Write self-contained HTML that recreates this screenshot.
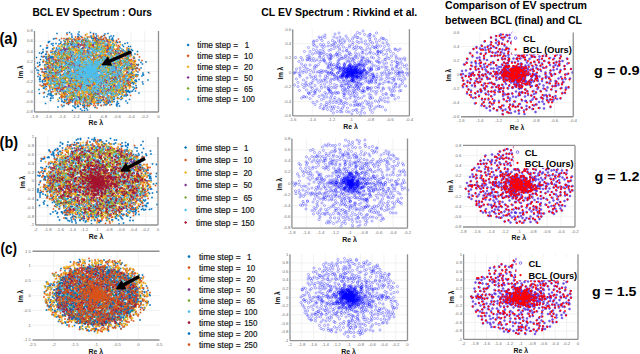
<!DOCTYPE html><html><head><meta charset="utf-8"><style>html,body{margin:0;padding:0;background:#fff;overflow:hidden}svg{display:block}text{font-family:"Liberation Sans",sans-serif}</style></head><body><svg width="640" height="354" viewBox="0 0 640 354"><defs><marker id="k0" markerUnits="userSpaceOnUse" markerWidth="1" markerHeight="1" overflow="visible"><rect x="-1.5" y="-1.5" width="3" height="3" fill="#0072BD"/></marker><marker id="k1" markerUnits="userSpaceOnUse" markerWidth="1" markerHeight="1" overflow="visible"><rect x="-1.5" y="-1.5" width="3" height="3" fill="#D95319"/></marker><marker id="k2" markerUnits="userSpaceOnUse" markerWidth="1" markerHeight="1" overflow="visible"><rect x="-1.5" y="-1.5" width="3" height="3" fill="#EDB120"/></marker><marker id="k3" markerUnits="userSpaceOnUse" markerWidth="1" markerHeight="1" overflow="visible"><rect x="-1.5" y="-1.5" width="3" height="3" fill="#7E2F8E"/></marker><marker id="k4" markerUnits="userSpaceOnUse" markerWidth="1" markerHeight="1" overflow="visible"><rect x="-1.5" y="-1.5" width="3" height="3" fill="#77AC30"/></marker><marker id="k5" markerUnits="userSpaceOnUse" markerWidth="1" markerHeight="1" overflow="visible"><rect x="-1.5" y="-1.5" width="3" height="3" fill="#4DBEEE"/></marker><marker id="k6" markerUnits="userSpaceOnUse" markerWidth="1" markerHeight="1" overflow="visible"><rect x="-1.6" y="-1.6" width="3.2" height="3.2" fill="#0072BD"/></marker><marker id="k7" markerUnits="userSpaceOnUse" markerWidth="1" markerHeight="1" overflow="visible"><rect x="-1.6" y="-1.6" width="3.2" height="3.2" fill="#D95319"/></marker><marker id="k8" markerUnits="userSpaceOnUse" markerWidth="1" markerHeight="1" overflow="visible"><rect x="-1.6" y="-1.6" width="3.2" height="3.2" fill="#EDB120"/></marker><marker id="k9" markerUnits="userSpaceOnUse" markerWidth="1" markerHeight="1" overflow="visible"><rect x="-1.6" y="-1.6" width="3.2" height="3.2" fill="#7E2F8E"/></marker><marker id="k10" markerUnits="userSpaceOnUse" markerWidth="1" markerHeight="1" overflow="visible"><rect x="-1.6" y="-1.6" width="3.2" height="3.2" fill="#77AC30"/></marker><marker id="k11" markerUnits="userSpaceOnUse" markerWidth="1" markerHeight="1" overflow="visible"><rect x="-1.6" y="-1.6" width="3.2" height="3.2" fill="#4DBEEE"/></marker><marker id="k12" markerUnits="userSpaceOnUse" markerWidth="1" markerHeight="1" overflow="visible"><rect x="-1.6" y="-1.6" width="3.2" height="3.2" fill="#A2142F"/></marker><marker id="k13" markerUnits="userSpaceOnUse" markerWidth="1" markerHeight="1" overflow="visible"><rect x="-1.6" y="-1.6" width="3.2" height="3.2" fill="#0072BD"/></marker><marker id="k14" markerUnits="userSpaceOnUse" markerWidth="1" markerHeight="1" overflow="visible"><rect x="-1.6" y="-1.6" width="3.2" height="3.2" fill="#D95319"/></marker><marker id="k15" markerUnits="userSpaceOnUse" markerWidth="1" markerHeight="1" overflow="visible"><circle r="2.2" fill="none" stroke="#0000ff" stroke-width="1" stroke-opacity="0.62"/></marker><marker id="k16" markerUnits="userSpaceOnUse" markerWidth="1" markerHeight="1" overflow="visible"><circle r="2" fill="#6038d0" fill-opacity="0.85" stroke="#5030f0" stroke-width="1" stroke-opacity="0.9"/></marker><marker id="k17" markerUnits="userSpaceOnUse" markerWidth="1" markerHeight="1" overflow="visible"><circle r="1.9" fill="#ff0000"/></marker></defs><rect width="640" height="354" fill="#fff"/><text x="32.5" y="16.3" font-size="10.5" font-weight="bold" textLength="119.5" lengthAdjust="spacingAndGlyphs">BCL EV Spectrum : Ours</text>
<text x="261.3" y="16.3" font-size="10.5" font-weight="bold" textLength="156" lengthAdjust="spacingAndGlyphs">CL EV Spectrum : Rivkind et al.</text>
<text x="445" y="9" font-size="10.5" font-weight="bold" textLength="142" lengthAdjust="spacingAndGlyphs">Comparison of EV spectrum</text>
<text x="445" y="23.5" font-size="10.5" font-weight="bold" textLength="137" lengthAdjust="spacingAndGlyphs">between BCL (final) and CL</text>
<text x="-0.6" y="44.3" font-size="16.5" font-weight="bold" textLength="18" lengthAdjust="spacingAndGlyphs">(a)</text>
<text x="-0.4" y="148" font-size="16.5" font-weight="bold" textLength="18.5" lengthAdjust="spacingAndGlyphs">(b)</text>
<text x="0.6" y="254" font-size="16.5" font-weight="bold" textLength="16.5" lengthAdjust="spacingAndGlyphs">(c)</text>
<text x="594.1" y="75.1" font-size="13" font-weight="bold" textLength="45.5" lengthAdjust="spacingAndGlyphs">g = 0.9</text>
<text x="594.5" y="180.9" font-size="13" font-weight="bold" textLength="45" lengthAdjust="spacingAndGlyphs">g = 1.2</text>
<text x="592" y="295.8" font-size="13" font-weight="bold" textLength="44.5" lengthAdjust="spacingAndGlyphs">g = 1.5</text>
<line x1="34.5" y1="41.12" x2="158.5" y2="41.12" stroke="#ededed" stroke-width="0.7"/>
<line x1="34.5" y1="51.25" x2="158.5" y2="51.25" stroke="#ededed" stroke-width="0.7"/>
<line x1="34.5" y1="61.38" x2="158.5" y2="61.38" stroke="#ededed" stroke-width="0.7"/>
<line x1="34.5" y1="71.5" x2="158.5" y2="71.5" stroke="#ededed" stroke-width="0.7"/>
<line x1="34.5" y1="81.62" x2="158.5" y2="81.62" stroke="#ededed" stroke-width="0.7"/>
<line x1="34.5" y1="91.75" x2="158.5" y2="91.75" stroke="#ededed" stroke-width="0.7"/>
<line x1="34.5" y1="101.88" x2="158.5" y2="101.88" stroke="#ededed" stroke-width="0.7"/>
<line x1="48.28" y1="31" x2="48.28" y2="112" stroke="#ededed" stroke-width="0.7"/>
<line x1="62.06" y1="31" x2="62.06" y2="112" stroke="#ededed" stroke-width="0.7"/>
<line x1="75.83" y1="31" x2="75.83" y2="112" stroke="#ededed" stroke-width="0.7"/>
<line x1="89.61" y1="31" x2="89.61" y2="112" stroke="#ededed" stroke-width="0.7"/>
<line x1="103.39" y1="31" x2="103.39" y2="112" stroke="#ededed" stroke-width="0.7"/>
<line x1="117.17" y1="31" x2="117.17" y2="112" stroke="#ededed" stroke-width="0.7"/>
<line x1="130.94" y1="31" x2="130.94" y2="112" stroke="#ededed" stroke-width="0.7"/>
<line x1="144.72" y1="31" x2="144.72" y2="112" stroke="#ededed" stroke-width="0.7"/>
<text x="33" y="32.3" font-size="4.3" text-anchor="end" fill="#707070">0.8</text>
<text x="33" y="42.42" font-size="4.3" text-anchor="end" fill="#707070">0.6</text>
<text x="33" y="52.55" font-size="4.3" text-anchor="end" fill="#707070">0.4</text>
<text x="33" y="62.67" font-size="4.3" text-anchor="end" fill="#707070">0.2</text>
<text x="33" y="72.8" font-size="4.3" text-anchor="end" fill="#707070">0</text>
<text x="33" y="82.92" font-size="4.3" text-anchor="end" fill="#707070">-0.2</text>
<text x="33" y="93.05" font-size="4.3" text-anchor="end" fill="#707070">-0.4</text>
<text x="33" y="103.17" font-size="4.3" text-anchor="end" fill="#707070">-0.6</text>
<text x="33" y="113.3" font-size="4.3" text-anchor="end" fill="#707070">-0.8</text>
<text x="34.5" y="117.5" font-size="4.3" text-anchor="middle" fill="#707070">-1.8</text>
<text x="48.28" y="117.5" font-size="4.3" text-anchor="middle" fill="#707070">-1.6</text>
<text x="62.06" y="117.5" font-size="4.3" text-anchor="middle" fill="#707070">-1.4</text>
<text x="75.83" y="117.5" font-size="4.3" text-anchor="middle" fill="#707070">-1.2</text>
<text x="89.61" y="117.5" font-size="4.3" text-anchor="middle" fill="#707070">-1</text>
<text x="103.39" y="117.5" font-size="4.3" text-anchor="middle" fill="#707070">-0.8</text>
<text x="117.17" y="117.5" font-size="4.3" text-anchor="middle" fill="#707070">-0.6</text>
<text x="130.94" y="117.5" font-size="4.3" text-anchor="middle" fill="#707070">-0.4</text>
<text x="144.72" y="117.5" font-size="4.3" text-anchor="middle" fill="#707070">-0.2</text>
<text x="158.5" y="117.5" font-size="4.3" text-anchor="middle" fill="#707070">0</text>
<g transform="scale(0.5)">
<path d="M162 121 125 181 241 175 159 144 199 120 208 71 202 155 189 165 144 72 262 130 231 162 242 170 148 78 137 115 193 117 208 205 89 144 205 84 104 192 112 177 296 160 191 114 115 158 137 171 141 102 218 105 213 115 124 203 112 103 152 159 216 99 195 101 165 126 225 76 106 139 142 129 225 196 165 105 155 213 134 129 198 142 139 164 134 113 127 102 86 114 178 212 147 108 172 134 142 125 101 197 224 188 94 119 204 148 199 134 117 202 164 194 131 153 229 170 202 127 223 138 186 131 83 107 253 121 163 163 89 157 200 171 158 150 256 115 128 81 162 138 145 114 152 126 166 145 128 140 259 185 112 160 135 79 187 176 169 184 201 98 245 197 212 210 205 101 231 177 163 178 243 113 162 149 190 124 185 97 226 146 196 205 253 109 146 192 119 172 255 118 253 186 277 129 157 122 124 100 219 142 128 103 214 90 96 189 257 170 193 153 238 165 145 156 219 78 216 152 133 164 131 167 161 152 89 131 95 128 192 174 198 93 151 140 131 189 228 134 174 129 197 163 257 131 105 113 147 178 185 197 233 160 180 168 163 187 138 187 282 136 145 126 190 162 127 182 96 169 267 179 97 154 152 141 262 104 102 167 166 118 149 96 189 157 93 114 90 163 227 199 267 152 242 141 265 182 218 118 155 161 234 164 254 130 147 105 97 182 221 93 165 106 110 171 166 97 172 79 203 175 158 70 238 117 146 84 204 85 256 138 195 103 94 154 152 134 186 96 126 100 192 147 215 152 167 203 216 83 196 210 139 204 227 72 218 171 164 198 176 192 273 163 176 89 158 174 89 185 131 203 249 164 220 98 243 194 163 193 164 82 164 157 93 139 125 213 92 117 137 209 104 157 286 146 214 144 85 139 206 99 211 142 203 93 107 134 136 103 132 79 174 115 265 139 139 185 111 159 193 87 188 171 245 175 251 103 218 145 188 137 200 133 223 196 182 72 174 156 164 221 252 137 201 128 185 94 139 154 263 137 119 122 230 137 170 105 272 162 204 85 213 102 224 112 113 96 278 159 197 128 140 157 198 182 199 196 187 160 189 126 222 157 236 119 272 149 165 82 181 155 157 140 206 182 257 101 224 190 130 150 105 98 85 163 195 195 155 209 243 122 207 162 261 149 207 129 246 100 141 78 80 155 240 128 151 154 265 147 86 171 80 129 107 126 247 101 234 160 209 114 113 135 169 76 131 163 157 194 134 196 168 194 91 161 141 122 209 103 197 168 85 164 110 132 202 106 166 105 123 103 148 98 143 151 185 131 212 104 104 118 240 182 93 173 169 216 214 208 150 210 203 105 133 189 123 161 132 173 185 153 103 115 131 162 199 136 130 109 262 134 225 101 114 145 259 148 189 171 187 147 172 81 232 187 110 77 147 190 81 151 180 132 173 155 214 189 165 184 205 135 139 132 165 184 220 180 253 167 130 203 134 114 139 150 214 80 184 142 119 122 145 178 196 100 196 150 183 95 237 104 194 78 254 181 120 118 208 81 119 169 202 117 228 203 90 130 95 119 197 88 79 187 177 171 176 133 219 167 129 182 90 155 196 92 107 168 83 113 167 124 141 87 203 138 141 148 98 114 262 149 203 187 179 183 203 211 124 137 185 155 132 126 186 132 260 171 181 171 91 143 226 152 217 176 116 119 134 166 239 112 149 132 182 98 172 149 142 168 240 84 135 114 235 118 178 205 254 190 155 107 224 175 258 171 102 188 145 84 153 165 180 111 80 163 161 199 75 126 95 95 221 184 146 127 234 212 268 129 101 131 203 201 248 156 193 188 141 202 116 119 135 89 156 73 87 168 137 110 113 125 149 214 191 185 123 171 169 124 232 185 130 101 274 151 217 205 158 115 203 96 186 93 165 119 177 212 262 137 93 96 217 125 241 123 184 188 260 131 250 171 130 101 177 183 237 170 124 123 199 204 196 91 110 154 172 184 223 144 139 65 141 110 212 76 123 178 262 107 215 146 275 103 187 77 246 179 274 136 251 175 179 92 182 201 159 105 187 132 244 185 144 192 257 98 116 149 229 194 278 186 259 199 252 183 151 168 186 111 127 153 225 166 157 163 142 145 166 145 107 78 153 101 178 94 119 132 259 153 192 68 192 99 170 95 146 152 222 115 221 163 176 103 123 114 155 88 224 157 232 134 266 154 184 149 171 141 158 135 219 202 156 212 257 109 137 206 133 154 247 184 130 126 154 85 174 83 190 215 144 169 137 98 200 139 185 104 196 206 272 171 142 192 90 130 167 206 192 104 175 213 231 179 145 123 184 90 202 200 128 205 174 205 204 145 143 84 286 168 117 104 99 83 113 133 272 160 216 148 98 136 118 145 287 150 241 145 193 76 135 205 165 96 206 200 169 213 203 129 189 164 118 171 85 143 156 74 153 182 160 123 191 190 146 90 253 149 212 198 224 155 255 183 178 105 151 147 193 95 276 131 195 169 185 106 285 128 152 192 269 176 155 146 94 125 159 107 138 128 146 212 234 206 129 199 90 155 217 206 241 102 143 156 248 192 143 98 145 174 111 137 166 149 191 150 174 101 101 116 270 137 297 145 102 113 78 179 108 164 164 81 182 194 155 155 196 156 92 114 138 154 258 158 188 196 171 146 97 130 237 170 157 127 198 112 151 177 241 162 235 195 182 113 105 131 232 186 233 210 194 123 167 124 163 110 211 170 223 140 178 163 150 169 184 179 252 122 130 103 121 127 143 158 172 119 121 150 142 149 223 187 216 89 255 166 217 124 196 135 154 139 213 183 191 185 233 189 171 125 149 167 262 135 134 192 140 194 205 124 137 137 237 182 219 195 156 68 188 75 258 138 97 113 194 88 163 120 93 122 196 111 197 186 202 166 175 149 102 191 257 124 225 77 177 103 241 106 141 166 259 136 265 101 216 204 112 189 158 182 211 204 216 131 114 181 206 121 110 107 250 162 122 160 191 96 142 199 160 192 244 173 143 146 240 125 268 150 257 93 129 116 161 209 256 101 223 127 231 136 80 159 126 165 130 82 225 114 123 198 133 200 140 160 284 152 207 110 147 148 152 146 143 113 209 87 163 101 131 201 165 177 135 198 164 140 197 110 221 144 126 112 214 105 119 124 106 191 112 150 100 137 135 109 261 172 197 94 110 125 161 218 255 110 112 178 188 101 145 221 87 121 212 203 171 179 149 181 242 199 182 105 97 161 130 193 133 122 187 190 150 151 89 113 113 99 165 147 177 104 245 90 226 134 117 124 282 125 254 120 155 117 252 202 124 93 101 131 162 103 169 195 243 140 157 164 220 142 176 157 133 147 157 108 174 201 106 177 138 94 181 65 206 131 122 128 210 137 167 184 159 130 180 123 208 154 194 97 211 92 134 128 263 110 162 105 145 170 205 92 150 139 148 91 254 138 143 68 183 125 222 72 205 201 250 154 200 150 80 158 238 133 115 158 245 117 151 216 232 190 100 180 205 114 266 129 108 129 123 180 200 79 109 168 164 174 183 75 208 154 193 83 252 126 212 160 197 79 267 151 208 163 164 181 205 142 254 161 146 149 131 155 210 187 241 136 181 156 263 99 130 132 158 79 177 104 142 90 202 99 223 113 228 185 252 175 100 159 242 179 130 119 211 133 131 139 210 181 238 180 126 134 177 100 191 118 182 87 147 147 238 100 103 128 148 92 220 142 113 145 271 182 186 163 152 200 116 119 250 169 165 99 153 157 196 201 187 140 114 67 128 204 222 172 102 146 190 86 71 136 171 157 224 170 190 189 204 73 237 207 244 136 178 134 105 179 207 192 141 148 268 122 230 176 181 183 230 161 166 85 236 129 109 123 154 201 255 129 136 123 239 131 106 196 238 197 255 168 170 205 103 166 186 81 121 150 174 171 253 104 106 114 94 96 204 103 137 86 181 174 278 120 239 212 191 156 145 109 86 104 190 204 156 88 209 158 171 143 227 130 258 98 112 105 196 97 130 84 188 202 211 113 106 98 128 117 240 129 155 135 157 172 113 167 164 138 227 106 205 113 102 184 140 144 227 153 143 111 206 86 210 208 112 87 233 189 221 94 170 86 241 122 169 174 225 203 114 120 259 164 189 127 195 182 197 157 216 178 154 82 240 156 88 177 194 165 191 96 240 158 198 180 185 108 97 136 255 190 266 138 168 151 111 169 176 98 106 145 193 124 94 128 181 195 186 134 165 195 131 102 92 108 144 75 153 165 188 187 138 93 217 103 130 148 255 206 216 67 113 133 145 88 257 183 191 102 101 201 261 93 180 206 263 144 143 199 165 80 165 90 206 114 201 205 102 105 255 169 193 206 250 157 106 87 254 100 153 128 109 104 219 122 163 164 146 133 199 104 207 198 163 103 216 156 119 188 204 185 87 172 194 180 267 168 120 157 102 188 171 82 261 147 157 124 270 161 106 147 274 151 256 107 140 144 166 143 273 175 199 80 169 210 115 151 162 73 183 131 162 152 241 160 257 137 175 220 235 153 129 108 255 86 225 162 235 154 139 83 79 106 177 174 171 203 187 89 247 149 182 179 131 183 191 85 154 184 245 159 175 76 144 80 228 179 169 88 97 84 148 166 159 134 77 141 192 109 218 133 143 183 230 166 136 177 105 104 177 184 198 162 191 176 235 85 165 99 222 173 150 206 166 211 241 180 226 87 165 183 118 123 123 179 231 160 226 150 163 110 141 114 76 146 215 195 162 161 121 140 198 205 92 109 221 94 217 199 223 127 97 139 270 133 248 132 230 158 171 130 183 208 126 105 182 140 113 155 119 80 171 132 193 166 158 150 159 197 118 147 187 67 196 158 133 131 74 140 168 149 205 113 140 181 180 140 227 159 101 165 237 176 229 90 138 93 198 199 164 153 244 190 236 106 215 121 237 109 149 125 169 221 120 154 159 118 87 176 267 166 79 131 238 168 185 189 208 95 122 106 202 88 136 77 157 118 181 207 176 133 211 165 276 150 151 174 222 188 161 198 261 155 193 81 267 114 157 80 225 132 186 118 234 123 160 116 198 80 204 79 210 162 167 161 132 111 141 199 240 96 249 160 231 181 128 211 124 202 195 122 259 147 221 84 262 132 252 159 222 132 144 102 222 176 216 94 250 190 121 179 184 193 125 177 206 167 160 155 126 124 79 159 98 134 248 103 226 96 247 184 202 86 258 105 88 194 270 108 98 120 145 147 157 141 104 175 157 102 130 135 209 121 105 152 193 146 235 203 128 164 90 154 219 74 106 108 211 184 155 193 79 125 203 80 166 106 173 137 176 211 114 120 180 161 244 162 184 77 148 112 274 137 178 105 178 173 239 150 124 161 116 214 94 136 152 161 257 160 207 151 119 196 93 103 192 160 209 188 185 182 176 107 187 78 230 155 253 121 216 113 171 159 256 145 139 143 224 200 112 187 141 162 147 199 221 124 94 193 221 168 107 115 244 102 187 194 128 140 102 196 149 99 145 201 177 194 250 129 223 79 162 101 130 89 249 120 265 165 95 166 103 88 222 175 240 141 134 66 183 88 244 132 99 111 225 122 91 207 254 113 93 139 190 94 166 210 76 153 103 122 209 130 85 161 247 93 236 177 186 163 216 196 200 176 162 134 251 181 136 82 222 109 258 112 266 165 181 192 138 154 230 145 146 95 108 157 130 160 199 164 227 158 210 122 81 92 152 171 231 107 230 175 137 165 248 167 200 88 195 131 157 213 211 91 220 133 216 136 141 187 160 92 127 133 139 182 115 108 239 142 117 142 110 142 140 111 188 74 214 118 186 126 236 99 160 156 246 180 134 97 285 164 228 132 177 172 221 148 233 83 201 115 237 189 191 82 207 154 154 91 111 132 118 88 186 148 187 120 195 92 203 115 123 170 173 217 122 129 172 126 181 117 105 160 112 103 121 87 113 111 169 107 165 168 184 178 167 177 249 132 163 167 128 88 119 118 192 133 286 149 97 85 220 110 292 124 124 165 94 149 217 98 257 117 184 185 213 121 252 192 239 156 249 153 266 174 262 183 163 188 261 131 189 120 208 158 197 176 162 108 117 109 135 153 90 174 177 89 114 145 158 64 263 146 259 184 214 201 114 111 133 123 250 87 191 134 210 83 142 190 231 157 233 108 241 121 271 152 276 144 221 204 147 170 158 89 153 147 136 92 188 127 206 181 163 170 273 129 86 124 120 144 81 119 148 135 165 81 216 114 127 105 126 101 130 123 182 176 187 80 203 194 175 208 149 177 139 137 190 124 147 171 167 135 130 157 101 162 215 136 125 90 242 147 212 114 99 142 249 130 227 176 218 135 137 97 106 91 167 142 211 137 218 96 119 135 144 168 100 190 129 147 223 209 186 193 169 130 186 102 205 130 229 198 148 199 188 156 168 134 174 154 154 181 217 154 193 72 255 117 242 194 102 145 200 76 231 101 145 175 262 166 185 100 163 98 98 187 232 138 170 110 101 115 127 118 218 157 231 132 228 140 234 209 188 86 85 105 116 178 86 99 244 187 128 193 132 201 155 104 139 137 263 152 172 162 125 177 127 186 199 81 226 80 217 133 269 116 106 146 105 121 133 117 101 139 238 152 186 146 210 68 180 84 145 204 189 164 138 128 226 94 269 165 122 84 193 205 176 195 141 153 215 185 177 101 257 181 93 144 137 88 225 81 73 115 239 188 189 123" fill="none" stroke="none" marker-start="url(#k0)" marker-mid="url(#k0)" marker-end="url(#k0)"/>
<path d="M213 187 222 176 155 154 119 105 135 123 208 194 136 169 120 160 197 207 171 136 140 185 215 161 134 69 211 185 125 194 191 79 218 171 116 127 111 111 171 189 247 184 109 177 186 190 130 174 231 187 143 161 227 123 235 144 117 120 92 178 216 103 187 94 111 157 176 206 262 120 216 86 230 108 245 171 153 157 109 152 165 176 193 200 138 200 216 192 284 121 197 133 159 128 121 122 221 140 165 142 187 69 234 150 99 172 201 184 239 168 191 129 171 91 131 187 240 184 199 95 126 194 187 112 118 107 170 105 160 133 237 132 184 200 206 121 126 104 163 110 253 137 204 146 175 170 164 75 203 73 179 179 105 152 237 91 267 131 269 130 188 166 119 183 130 159 161 143 220 107 78 149 164 182 147 117 202 74 117 107 212 130 192 141 178 121 200 129 251 173 113 115 220 146 172 183 139 106 145 83 219 88 183 138 177 152 109 161 182 126 196 189 235 104 246 152 149 163 227 151 163 198 198 121 264 136 138 157 187 211 161 168 213 103 210 203 189 81 167 165 179 179 223 118 193 195 259 120 127 156 234 141 171 96 202 114 91 124 180 142 158 75 93 168 232 156 208 194 233 99 263 119 249 152 123 168 134 153 208 176 212 147 225 103 216 93 195 131 170 163 220 116 217 138 189 118 134 189 141 170 157 142 259 108 100 142 100 170 248 162 133 207 202 211 106 151 103 150 209 202 238 167 116 92 183 201 135 89 105 118 215 114 175 181 275 130 222 97 84 144 150 171 189 169 109 119 212 197 135 183 240 161 128 77 117 109 152 101 205 114 144 134 135 175 178 180 103 135 91 169 88 169 173 178 195 175 200 90 260 133 152 108 136 118 211 184 103 161 239 125 188 140 258 171 237 78 195 198 193 138 186 175 187 99 234 131 204 148 229 145 123 133 112 164 267 117 159 194 250 149 185 138 166 135 101 137 129 103 242 111 177 165 178 211 249 138 106 136 262 155 184 92 99 117 226 152 162 154 137 122 239 93 136 92 138 108 177 81 102 172 214 80 164 75 236 170 168 90 245 104 227 129 80 170 216 168 111 119 209 158 143 129 179 123 126 116 173 131 179 99 96 150 176 179 188 115 83 138 168 118 124 176 228 118 106 183 117 109 135 106 130 135 202 85 174 176 250 163 227 193 121 163 151 79 224 189 115 167 129 103 188 164 137 104 178 141 183 164 192 134 248 126 220 128 185 171 152 181 87 123 188 127 208 145 178 198 154 116 190 195 185 164 197 142 119 107 149 87 210 156 159 189 205 160 180 197 203 161 238 179 189 76 172 172 240 108 243 145 138 205 151 203 122 171 119 118 115 141 132 190 149 177 156 76 155 181 164 112 116 141 183 187 181 92 130 133 136 106 272 177 87 159 126 139 131 163 136 174 208 165 137 143 190 98 121 118 168 162 201 184 138 172 142 204 214 207 113 172 134 183 147 137 218 92 122 193 135 80 225 203 185 200 219 107 178 115 169 111 203 106 206 126 232 126 166 79 253 116 170 197 146 145 202 184 233 172 103 184 140 187 144 114 136 163 198 163 110 143 145 186 185 104 144 80 256 126 244 132 129 123 174 195 106 120 153 201 130 137 183 92 171 106 146 148 161 179 232 149 209 116 210 103 135 117 206 92 197 176 137 94 155 205 208 98 111 177 150 145 147 168 156 150 220 111 233 135 171 190 194 110 196 139 100 135 102 102 198 114 140 97 123 132 246 105 112 123 200 79 261 107 159 173 227 82 198 175 105 128 158 120 208 116 153 185 225 136 180 74 193 137 177 185 119 129 104 159 262 127 207 94 197 164 218 124 137 178 137 147 258 162 92 138 240 112 92 157 248 152 232 85 141 147 216 162 157 95 220 210 172 138 100 174 180 187 83 172 151 206 99 153 122 118 142 141 230 155 136 127 248 124 211 111 122 164 187 99 217 192 169 113 201 175 259 174 153 111 142 176 90 135 246 158 187 183 205 152 261 113 252 189 261 110 247 165 208 210 157 79 133 106 239 156 146 184 202 160 157 168 129 187 93 127 179 95 258 154 164 120 241 121 130 202 123 77 131 154 160 188 138 136 234 157 151 99 140 135 171 199 201 145 236 123 165 127 237 154 200 82 205 157 113 155 233 179 239 118 140 108 154 99 152 171 158 171 253 164 206 124 232 184 94 91 198 192 216 160 238 155 147 185 231 176 233 81 135 116 197 171 229 148 94 154 209 109 180 175 166 137 182 193 238 134 180 210 200 197 127 109 158 205 220 108 183 109 174 132 239 129 170 145 217 149 156 180 179 189 206 182 143 161 248 162 228 142 125 136 208 171 190 127 245 182 229 166 117 115 207 85 197 77 222 105 95 156 180 200 273 153 234 127 134 122 240 125 201 116 152 110 183 110 208 181 201 131 213 110 97 151 92 168 87 145 119 122 214 185 264 122 125 194 247 154 144 124 225 184 238 142 275 109 181 83 257 167 190 131 213 197 146 116 211 185 160 78 154 78 149 173 185 204 198 121 230 128 200 169 279 140 147 132 148 187 112 146 261 167 148 140 129 115 105 136 230 150 174 86 153 143 193 160 222 90 139 115 268 150 113 163 187 72 113 77 121 180 207 77 126 149 214 182 197 157 248 104 172 211 94 104 180 196 136 207 154 178 240 146 254 145 247 172 175 123 169 185 125 157 167 134 149 141 248 103 195 82 229 108 164 173 274 136 240 128 159 120 207 83 213 196 261 132 200 182 193 106 220 148 188 88 127 124 116 174 167 214 96 152 174 155 123 190 201 141 145 169 216 114 114 158 191 132 167 107 228 99 176 129 141 116 234 109 164 123 208 105 146 96 136 150 160 204 138 202 194 124 175 198 175 152 239 136 145 93 123 210 158 101 105 162 246 163 206 129 208 149 243 125 109 172 136 133 90 147 100 156 207 111 136 194 201 141 136 125 209 103 210 182 186 155 172 155 235 100 118 171 207 79 138 78 195 167 124 143 237 186 171 142 222 196 135 84 97 158 126 117 102 161 166 138 131 161 173 155 244 128 105 132 187 150 130 190 183 122 136 133 111 148 147 131 167 90 261 134 224 182 228 127 106 155 139 115 108 168 89 159 117 177 185 96 89 148 185 106 233 172 274 153 182 183 188 206 176 211 146 151 170 131 213 125 194 141 128 95 218 121 136 139 177 92 254 96 150 88 87 186 195 115 186 106 207 139 210 93 126 120 189 196 195 143 188 198 170 119 235 197 165 108 174 186 220 193 236 94 197 156 239 84 118 107 170 203 185 188 152 130 174 195 134 118 108 96 237 149 173 195 172 94 201 160 179 85 196 72 189 127 230 110 128 185 261 122 232 153 258 164 110 110 215 153 104 135 161 176 162 113 136 156 155 174 130 87 219 136 188 204 256 167 215 182 258 108 169 80 255 143 200 202 187 92 198 159 136 144 213 204 160 207 112 159 120 147 206 119 98 148 270 121 76 133 124 151 159 200 146 162 203 139 105 128 201 177 224 177 163 128 141 134 106 140 134 113 240 164 245 162 168 183 167 187 167 105 205 122 125 123 194 99 204 80 111 178 109 119 206 86 263 123 212 78 147 155 217 161 180 176 98 131 197 191 172 79 172 192 165 146 143 161 249 137 155 152 145 94 197 138 177 108 177 136 195 121 118 173 184 193 194 216 204 155 211 154 196 128 222 125 202 109 187 179 219 149 176 112 115 128 161 134 117 174 115 110 176 99 118 146 118 162 96 166 238 153 134 176 146 163 178 189 168 120 210 75 119 175 172 91 95 137 167 166 255 152 166 166 236 105 195 122 217 132 188 115 134 103 210 150 233 161 213 103 243 196 239 186 240 116 100 176 187 145 188 187 183 176 99 145 207 153 99 137 158 174 250 171 89 168 127 118 177 145 164 161 149 178 257 126 225 105 140 198 173 84 210 110 133 77 156 92 200 150 185 130 234 157 237 138 189 167 194 207 129 150 115 183 213 166 209 179 231 134 200 196 238 151 160 172 88 152 246 165 162 115 135 148 192 124 182 204 237 155 99 122 252 141 267 157 176 86 127 156 166 107 137 181 216 95 99 120 156 176 135 197 149 112 161 203 144 199 181 141 194 202 148 87 224 193 204 194 160 107 153 159 121 155 191 212 250 112 164 90 179 147 164 155 170 200 202 78 127 107 152 181 172 141 186 107 181 190 141 164 122 169 162 137 239 154 145 185 183 152 235 189 130 195 183 164 136 93 246 179 209 103 234 99 210 135 197 153 223 157 270 123 217 160 232 181 187 159 123 109 198 95 256 167 132 185 121 182 258 121 151 124 97 157 127 179 125 192 177 188 163 100 198 164 98 124 192 88 82 138 130 156 137 109 225 156 232 164 253 178 168 174 129 166 161 172 162 160 173 130 209 71 172 104 156 86 255 158 143 187 139 163 121 101 91 171 128 118 198 85 98 112 189 208 243 112 233 90 115 149 176 74 207 151 119 110 151 128 238 123 165 88 253 148 110 144 218 133 200 159 158 119 126 188 146 157 257 108 215 96 146 174 144 94 176 159 111 125 195 168 195 85 214 172 255 168 263 149 198 115 169 125 161 121 247 112 151 74 246 155 204 151 246 159 222 167 205 158 175 206 139 206 115 125 101 155 171 70 174 144 278 138 163 83 273 142 118 167 151 208 190 95 242 160 233 103 164 132 191 133 145 186 245 116 204 149 164 87 204 157 219 122 155 188 118 103 158 185 129 97 101 158 177 187 260 171 229 121 111 151 129 190 182 120 165 107 218 84 183 106 242 102 183 129 148 116 188 107 182 141 218 195 144 162 107 153 166 121 194 197 120 126 127 175 221 193 187 174 269 124 192 203 188 174 140 173 246 170 168 169 185 139 120 177 106 122 154 141 216 97 165 99 153 101 123 195 156 142 214 150 198 157 115 132 214 93 124 170 195 148 168 93 161 161 163 161 224 120 97 132 248 124 271 138 246 151 177 113 124 134 204 148 154 106 125 170 131 103 261 191 222 176 167 121 96 119 204 164 137 114 162 120 95 125 151 80 212 165 243 127 189 152 248 171 145 129 201 110 217 102 115 160 126 178 172 129 211 161 155 114 234 150 265 151 97 109 87 113 150 160 179 174 205 109 126 101 169 200 221 180 173 130 252 126 194 84 192 187 227 173 144 121 223 162 195 95 227 163 161 176 210 158 260 154 186 197 166 195 163 88 152 142 192 134 153 158 120 142 159 121 118 145 113 188 179 133 188 124 236 97 200 198 131 153 154 149 201 107 187 204 176 183 162 90 215 104 218 80 243 159 129 153 143 172 184 119 96 167 188 169 209 144 223 129 231 105 123 127 173 136 112 124 124 191 150 204 135 141 171 160 125 126 137 146 108 162 254 162 184 106 168 85 212 97 187 155 134 149 147 120 163 84 98 152 138 152 271 132 126 158 262 132 103 153 179 150 141 173 173 84 111 143 191 76 178 119 167 141 181 121 172 195 192 173 195 84 259 169 210 152 197 151 127 177 245 175 215 199 162 102 189 150 95 158 116 116 279 114 155 173 188 147 188 123 214 201 187 95 197 158 194 143 226 102 145 105 248 177 176 199 191 109 245 179 222 113 234 175 136 133 200 177" fill="none" stroke="none" marker-start="url(#k1)" marker-mid="url(#k1)" marker-end="url(#k1)"/>
<path d="M219 143 154 93 180 93 217 141 211 104 211 99 175 195 233 92 155 188 137 82 116 163 109 128 195 124 225 194 255 106 145 123 236 178 113 146 204 137 204 159 247 149 207 149 186 125 174 182 93 179 132 139 131 202 190 166 124 140 120 94 169 179 208 97 116 132 227 176 138 93 124 187 155 125 193 96 268 155 137 160 148 155 195 199 198 196 153 195 225 188 204 150 166 208 171 169 132 90 139 111 144 169 148 119 176 197 94 159 159 167 262 174 160 164 230 86 157 93 205 186 241 108 155 80 242 131 206 201 97 110 155 105 269 149 121 167 198 98 218 102 211 157 156 205 204 186 155 130 215 184 203 110 139 110 209 189 181 130 233 182 204 103 185 162 150 142 262 152 158 182 180 176 270 127 178 138 220 91 185 95 199 151 125 126 140 195 133 178 192 151 176 105 168 166 182 148 259 151 175 86 197 129 226 169 174 203 140 138 165 104 144 142 178 122 204 89 134 157 157 87 183 87 240 183 150 138 158 186 179 158 246 108 228 121 228 181 224 89 180 87 153 159 140 170 129 185 222 115 108 169 113 140 127 103 233 189 241 147 169 75 150 159 200 89 200 118 235 167 176 202 139 186 195 133 171 206 129 155 158 126 262 123 148 172 214 138 193 88 208 96 147 148 177 132 261 163 123 90 126 181 196 200 197 132 264 156 137 165 127 139 217 138 149 116 188 151 109 114 185 126 150 78 160 137 169 174 155 154 244 98 211 150 100 132 175 195 201 193 190 167 195 196 217 114 259 140 187 127 200 138 195 158 217 136 188 203 188 176 175 148 117 164 223 108 199 115 229 183 197 97 177 141 232 136 149 106 138 162 145 146 230 124 263 150 220 133 90 152 199 153 235 113 194 123 159 191 137 150 154 188 137 193 159 106 222 91 195 167 201 179 189 159 206 107 242 188 146 150 215 176 169 155 243 176 189 173 209 88 138 96 123 93 150 167 149 188 250 159 160 153 210 102 168 203 193 203 233 144 172 87 212 168 219 193 245 164 148 125 232 192 137 91 117 109 249 120 146 178 150 139 250 116 123 109 165 85 230 191 209 129 115 163 164 125 193 85 158 168 208 140 94 158 196 91 112 154 90 131 100 119 117 186 107 176 271 167 180 117 194 129 253 121 247 145 137 85 258 152 143 94 236 124 106 139 233 177 115 111 195 127 136 121 125 113 110 143 190 179 127 153 168 128 268 144 246 190 203 111 177 178 157 157 231 176 222 181 128 126 105 131 108 173 162 133 193 153 104 121 220 165 193 206 157 161 177 181 163 161 87 153 135 96 229 176 108 96 133 195 182 169 217 169 100 152 236 146 200 181 139 191 268 135 99 162 111 152 202 126 142 132 125 93 147 171 243 184 186 161 231 161 98 126 244 171 96 164 174 197 248 143 142 78 253 152 134 131 118 166 214 110 137 166 228 185 121 171 159 145 259 174 183 162 213 199 189 174 199 97 155 191 156 104 260 148 271 141 221 106 149 152 234 161 101 153 151 104 177 148 232 143 165 171 129 111 211 156 101 138 202 83 166 130 192 89 180 126 185 137 104 176 172 133 256 129 154 99 221 142 230 130 156 163 201 160 168 183 221 169 205 156 168 146 208 134 249 120 123 89 265 133 169 168 212 178 258 106 205 125 156 202 177 125 217 176 226 128 161 201 210 203 248 136 264 161 186 205 250 142 128 153 167 150 112 105 215 149 243 149 124 176 196 133 226 115 225 85 223 102 101 160 182 87 146 113 206 182 249 163 166 102 103 164 254 102 227 137 162 143 235 174 142 190 100 157 180 184 114 176 154 109 174 73 153 85 236 191 249 129 116 156 268 151 206 98 162 181 216 141 197 160 238 104 178 94 213 155 162 106 234 165 223 170 158 179 166 103 125 152 216 155 221 119 140 184 243 176 110 182 225 102 109 130 228 97 227 93 159 96 239 179 175 197 209 187 130 133 193 184 202 197 96 125 127 151 140 136 156 108 199 110 216 169 97 146 184 197 194 138 223 121 155 170 262 137 259 97 206 93 202 154 178 159 138 108 163 188 178 160 266 145 192 149 247 118 176 156 206 198 101 151 155 117 167 115 190 99 164 152 238 137 158 87 218 198 169 101 169 115 163 121 157 169 147 160 93 134 110 180 218 102 253 172 241 186 207 122 223 131 257 149 166 172 168 106 138 111 206 178 160 108 162 134 215 185 175 90 230 112 226 111 170 101 118 115 213 141 192 164 106 101 132 154 231 143 200 174 114 111 226 183 125 107 217 144 219 93 176 154 198 76 128 96 135 195 183 180 214 121 206 168 152 111 228 186 136 104 91 135 131 151 186 142 192 152 250 111 233 155 257 153 211 119 141 171 93 147 230 168 148 99 253 166 143 153 185 161 267 126 241 126 109 121 86 173 212 141 215 125 87 120 233 150 178 204 157 99 204 92 188 129 205 136 196 192 235 111 136 162 110 140 268 164 150 145 118 126 133 95 151 145 210 172 237 109 223 198 254 132 174 153 187 97 175 165 181 125 127 161 216 165 102 126 237 165 184 105 205 189 223 115 177 175 243 175 164 120 177 149 175 140 221 125 120 160 266 132 123 90 159 120 254 152 186 137 231 108 264 162 142 99 239 172 235 115 179 136 229 146 205 96 120 120 134 105 218 183 238 133 130 128 187 80 157 145 155 135 116 165 243 143 154 174 227 140 128 94 256 150 191 141 170 110 152 106 202 168 220 118 210 186 208 139 235 145 150 98 172 185 148 100 213 113 130 135 169 98 189 199 222 81 238 163 97 143 203 181 207 186 228 167 170 191 220 193 251 185 204 111 92 150 229 106 181 131 200 184 186 74 200 112 237 173 266 124 230 168 183 94 206 84 160 130 145 114 129 81 238 99 161 145 166 182 147 182 204 155 207 152 179 163 156 143 216 132 151 118 196 85 176 117 97 133 126 190 237 197 199 171 113 167 166 127 211 141 106 108 254 173 241 109 130 192 185 180 236 162 241 89 94 165 183 173 167 171 202 96 207 101 242 117 130 176 112 164 215 164 165 185 234 114 214 111 198 102 224 101 118 139 174 149 217 148 179 125 154 103 207 84 117 100 229 128 253 99 189 175 229 129 148 90 111 140 215 118 198 90 150 121 117 115 146 111 141 124 210 151 115 155 192 94 266 144 193 168 208 110 186 174 250 160 126 195 234 173 245 167 217 129 134 110 205 109 248 169 172 135 243 159 242 152 245 156 180 203 188 121 165 187 154 93 179 185 180 144 186 203 164 166 183 93 191 124 194 199 197 109 185 152 238 124 201 169 216 111 261 113 186 157 143 143 144 102 143 151 258 134 205 143 99 170 197 135 146 166 177 134 207 142 123 143 224 163 146 150 206 164 131 146 187 152 174 68 98 139 170 130 166 107 141 160 253 149 175 86 166 156 108 149 174 140 209 138 194 96 198 124 148 141 104 109 142 193 112 164 181 120 102 150 185 136 112 114 193 90 130 109 147 117 119 157 181 125 205 194 232 98 209 193 174 144 114 119 177 206 268 113 192 143 169 167 131 120 138 159 139 138 247 135 172 176 175 185 159 191 186 201 102 173 155 151 171 106 155 86 166 171 260 137 176 180 217 80 121 146 247 106 181 193 162 156 167 176 193 111 220 112 206 192 136 123 242 152 182 120 177 213 240 171 226 140 172 118 190 204 204 104 248 155 121 189 193 161 139 134 125 125 183 109 254 115 141 180 240 156 166 147 139 76 150 146 173 197 137 112 134 131 117 116 263 122 209 115 214 161 177 112 147 169 135 109 131 163 216 136 191 117 151 97 179 165 237 182 238 185 122 122 152 159 255 135 122 167 198 186 257 126 136 139 197 93 178 199 139 133 179 134 247 136 223 153 157 135 192 104 165 184 144 168 184 190 224 204 158 177 169 115 184 160 188 131 211 206 105 168 223 128 191 104 251 109 234 155 165 166 189 195 218 81 234 154 167 194 220 89 129 180 167 170 166 161 123 184 146 97 132 189 152 163 193 110 86 150 218 111 150 194 219 196 199 103 175 146 144 193 244 196 230 104 226 129 119 127 226 151 201 163 249 130 97 170 119 138 98 135 142 100 153 143 212 137 171 125 164 196 187 102 158 168 257 155 115 131 119 125 207 141 274 152 161 162 175 88 181 177 210 176 125 188 255 122 151 136 259 136 242 141 118 128 188 106 98 142 95 114 243 123 193 131 186 73 202 194 202 164 164 100 237 182 183 190 133 163 163 181 102 174 177 89 201 85 139 113 164 138 209 164 231 158 216 146 148 187 97 127 165 192 177 91 135 184 137 109 201 105 116 105 211 178 192 122 164 166 233 131 126 102 197 139 173 88 94 161 176 163 180 86 124 173 148 189 168 133 233 149 111 141 143 121 202 95 137 184 161 102 138 183 190 143 152 128 140 173 128 138 158 182 171 86 187 202 173 108 92 125 216 88 180 163 198 191 217 143 184 147 221 111 270 131 245 188 170 182 140 147 125 134 182 89 150 144 243 149 147 128 228 177 147 192 142 196 168 112 120 125 177 132 213 94 124 138 174 174 130 133 266 128 194 117 242 161 204 123 116 199 205 127 176 133 205 158 119 93 140 112 162 200 163 126 223 145 100 147 147 108 199 155 209 90 205 84 243 108 225 137 154 208 199 149 244 175 240 169 173 184 124 163 138 182 247 117 191 96 249 183 264 158 100 126 201 82 201 155 190 82 137 178 174 79 227 152 181 196 178 90 224 168 256 132 259 177 241 171 112 165 201 130 141 178 225 180 240 178 109 113 184 144 210 106 212 83 204 100 164 163 161 154 184 90 177 113 134 168 179 99 238 128 202 105 207 100 123 97 110 188 152 97 224 199 194 136 165 123 181 152 217 159 209 178 271 121 192 111 200 130 154 163 176 163 190 167 155 168 227 145 123 121 164 149 195 116" fill="none" stroke="none" marker-start="url(#k2)" marker-mid="url(#k2)" marker-end="url(#k2)"/>
<path d="M136 142 171 198 120 182 128 98 167 203 112 146 167 142 220 158 232 136 198 111 228 170 127 185 178 102 132 98 191 146 191 148 122 134 235 146 150 120 200 112 238 107 191 76 215 150 196 201 130 173 239 126 184 123 149 140 191 160 141 126 154 177 140 175 263 128 146 189 155 146 138 173 198 188 253 152 175 170 194 187 189 176 205 184 143 89 142 162 162 154 224 148 236 149 254 135 233 110 195 131 102 151 214 100 141 104 217 179 146 131 120 122 176 160 111 102 156 131 208 176 209 161 130 99 185 90 146 104 140 128 128 96 97 135 169 148 197 154 111 134 265 140 166 95 208 165 144 112 206 194 160 130 224 134 227 127 96 155 218 154 147 187 153 162 141 149 162 165 222 107 123 101 255 134 128 147 167 205 168 107 106 131 191 113 202 168 150 144 229 136 213 161 207 199 183 202 136 120 175 106 99 125 163 169 219 129 206 156 149 197 170 167 176 164 192 155 253 130 258 127 113 103 227 115 160 198 203 125 177 96 185 127 166 114 198 143 175 112 153 157 114 99 184 198 209 125 229 127 172 112 207 131 148 118 139 161 240 113 231 104 204 182 164 137 255 161 254 145 234 181 224 100 204 182 242 162 241 115 238 171 99 146 117 167 171 141 230 172 157 144 213 165 126 181 161 90 203 165 241 142 142 106 217 108 207 172 212 153 192 161 198 153 95 134 231 141 131 129 233 175 185 168 193 99 133 136 123 142 195 85 129 174 197 163 190 151 89 138 227 140 132 100 183 130 156 90 157 95 231 155 111 171 168 102 262 154 226 143 148 128 219 201 111 122 195 142 232 151 258 148 156 131 141 118 113 127 238 109 168 197 158 195 215 91 149 132 160 166 165 155 164 175 141 140 147 192 138 171 178 141 97 117 105 140 216 146 172 140 114 177 177 159 183 131 149 80 238 117 231 164 161 154 179 96 201 172 197 183 177 146 242 153 150 93 195 96 216 182 232 175 135 98 251 112 225 135 106 118 113 127 182 142 233 159 125 175 154 94 210 119 164 106 149 143 134 146 243 113 178 107 200 193 250 117 214 82 119 99 184 132 170 90 132 193 157 88 123 179 236 150 139 167 137 134 186 90 166 140 192 150" fill="none" stroke="none" marker-start="url(#k3)" marker-mid="url(#k3)" marker-end="url(#k3)"/>
<path d="M155 158 226 164 183 200 172 179 195 140 151 161 148 190 154 85 228 152 113 127 129 92 172 90 178 149 167 158 139 101 138 108 146 97 165 135 229 162 112 139 221 156 202 176 224 113 139 167 161 164 265 134 134 87 177 184 152 168 139 100 226 180 254 133 199 120 173 179 245 176 237 141 162 106 210 97 215 183 206 121 192 165 169 124 195 130 164 163 236 129 149 157 173 159 194 85 140 125 129 147 190 152 232 124 180 91 259 148 103 141 125 174 164 136 182 164 130 165 116 115 256 117 104 122 161 201 250 130 226 169 207 144 100 168 156 143 180 89 205 188 115 150 194 99 178 198 190 112 259 126 230 107 124 116 228 90 129 185 250 124 225 133 216 152 175 155 144 196 120 98 239 128 258 136 203 171 177 82 205 179 161 99 170 124 186 160 98 142 170 113 186 128 208 133 101 168 255 139 226 138 128 150 126 135 105 159 239 183 148 154 163 159 222 149 253 168 135 144 222 121 130 109 100 126 210 162 217 131 237 173 255 118 198 94 161 106 162 196 253 122 141 137 158 105 173 162 112 139 192 189 192 189 95 125 132 155 161 194 216 145 164 159 151 83 189 147 116 163 110 107 121 155 215 147 183 127 142 131 219 120 233 108 238 132 186 143 147 121 248 132 153 196 234 123 169 168 173 143 165 117 209 102 180 104 203 147 139 106 195 92 167 190 171 196 219 138 237 123 144 86 183 122 257 126 194 142 196 135 189 100 143 173 234 157 121 114 132 136 177 109 185 111 198 138 182 187 226 179 222 180 163 105 255 116 146 118 246 180 122 139 160 123 150 192 114 167 203 95 185 164 184 195 227 150 216 151 103 145 262 159 162 200 193 111 268 137 166 81 222 147 227 93 204 117 144 190 138 107 137 131 192 178 178 145 154 201 214 135 138 150 233 112 248 140 227 189 115 126 192 88 132 114 186 164 177 81 172 115 114 170 229 164 202 151 213 178 187 181 203 106 197 101 189 194 207 97 123 110 161 104 124 129 139 97 111 170 124 157 254 110 197 124 110 151 247 122 135 128 183 136 244 148 187 180 147 187 111 133 195 96 207 155 122 167 207 160 124 112 239 147 157 139 144 196 136 181 160 100 129 157" fill="none" stroke="none" marker-start="url(#k4)" marker-mid="url(#k4)" marker-end="url(#k4)"/>
<path d="M232 176 223 132 190 181 194 168 172 138 120 104 175 140 153 124 161 148 179 142 194 126 175 195 133 192 106 167 188 153 142 175 113 103 156 128 229 140 154 153 145 130 174 125 211 87 206 136 187 180 224 150 186 141 163 150 194 159 174 133 190 97 159 164 201 108 153 196 177 197 181 139 172 78 154 126 184 162 142 183 172 95 166 114 165 101 178 141 215 186 172 161 198 149 181 141 175 129 169 149 236 172 243 137 249 169 131 139 247 102 128 172 184 148 185 151 243 161 177 143 143 116 170 163 114 157 116 117 172 139 102 168 180 106 178 151 191 134 176 140 204 163 98 168 174 203 123 168 224 190 176 154 222 167 151 133 161 84 179 142 221 140 178 145 184 136 179 143 227 149 189 145 183 143 211 129 104 135 193 124 165 138 219 143 178 141 190 105 129 151 176 118 191 182 221 131 245 133 234 128 116 185 225 97 170 135 157 179 173 154 195 149 226 124 199 199 258 142 169 153 161 180 217 106 175 94 217 153 109 134 166 151 214 186 98 140 202 140 179 140 194 102 175 142 211 156 253 158 238 156 250 104 181 139 140 153 198 183 182 138 168 141 121 129 200 142 174 147 239 149 183 142 177 136 179 142 98 148 188 155 174 137 221 104 177 97 178 143 181 142 110 167 179 142 138 92 253 131 151 148 180 138 155 124 175 107 123 162 193 140 244 172 93 150 127 122 207 119 169 120 123 172 167 197 163 137 187 140 176 139 185 160 190 124 185 176 189 161 131 150 167 132 225 93 205 168 165 175 239 169 205 177 203 139 169 136 180 144 190 129 182 143 222 144 182 139 126 101 178 140 102 160 195 146 194 185 188 128 234 145 153 169 179 141 233 161 178 182 138 121 205 129 130 167 146 91 114 134 174 133 130 144 150 140 178 140 181 154 183 142 235 151 169 144 210 169 170 136 197 161 150 90 260 161 233 171 239 170 153 129 157 164 245 150 120 147 147 132 153 139 167 124 175 80 186 98 181 137 182 133 183 142 140 190 124 93 149 164 172 131 190 132 212 140 179 142 194 126 238 110 164 148 180 146 189 141 180 143 188 133 172 165 233 123 192 122 180 139 154 95 176 87 149 173 225 120 152 151 197 192 157 157 202 145 174 146 189 154 176 141 170 112 215 175 233 117 176 145 193 147 218 187 234 101 247 123 179 160 167 160 201 143 155 144 159 156 181 144 175 123 197 165 215 184 120 139 163 152 215 159 129 147 255 170 158 126 164 176 224 166 227 150 192 141 139 165 236 157 202 125 163 142 150 88 143 137 180 154 126 121 147 135 244 186 185 143 169 164 238 146 113 100 136 141 155 118 161 181 180 140 179 142 157 146 164 130 175 139 144 97 127 103 166 160 157 151 206 160 201 96 191 156 147 120 201 187 127 162 183 141 194 168 256 147 173 89 180 144 209 165 223 180 190 124 188 105 215 115 181 143 145 104 153 167 191 163 180 132 176 110 153 89 178 142 152 111 195 165 190 140 182 131 178 143 172 180 154 184 233 112 160 150 214 126 147 117 181 154 168 181 199 116 109 123 166 199 177 143 136 126 116 115 184 142 194 148 181 142 212 125 176 140 170 172 179 142 179 134 196 155 217 135 142 136 177 167 186 132 137 181 195 119 165 154 205 145 95 122 115 150 244 166 190 93 179 142 169 137 158 111 178 142 185 145 184 131 180 112 174 151 174 143 133 123 143 162 227 136 173 139 203 159 228 151 163 141 180 135 178 143 137 139 208 118 184 166 156 82 182 137 168 173 160 146 180 103 186 141 148 150 96 145 200 161 225 122 127 182 157 147 189 87 117 135 235 135 185 134 182 113 224 176 174 142 194 134 184 183 163 102 159 142 187 135 230 148 184 142 111 165 209 184 150 186 151 187 233 149 190 156 180 140 189 105 101 139 178 140 102 174 191 177 179 142 175 144 185 139 195 164 153 108 146 120 178 149 199 139 253 121 187 135 211 124 179 148 203 133 176 143 220 198 182 145 171 150 162 190 177 144 217 118 183 181 178 143 118 117 229 134 179 131 95 137 180 167 183 137 142 147 184 143 217 156 193 172 120 140 151 164 210 181 151 137 179 142 169 155 168 165 178 143 168 127 218 176 144 188 142 133 147 133 197 94 172 143 151 157 186 187 169 161 195 179 193 122 180 202 197 111 177 136 198 94 177 136 213 142 154 179 198 129 252 151 192 145 140 148 210 89 194 197 175 139 127 152 136 140 151 113 197 175 237 120 141 145 182 144 172 154 214 87 178 144 181 142 194 158 134 130 199 101 204 99 239 135 157 82 134 184 181 123 182 147 177 158 179 144 146 114 122 154 157 180 227 140 191 158 119 124 219 101 190 162 180 141 203 125 163 112 161 202 179 142 235 153 176 146 151 147 182 132 179 146 253 128 125 159 239 143 180 145 210 116 202 159 205 147 166 174 175 140 214 158 157 98 146 154 184 164 216 198 138 132 126 168 181 138 199 123 202 155 189 138 194 128 221 117 219 108 169 131 184 139 168 124 124 103 200 166 175 86 172 138 233 175 187 145 243 134 182 143 188 103 150 123 180 145 200 176 187 140 142 102 205 123 178 101 102 152 197 156 195 141 152 193 175 122 179 142 183 97 185 143 157 120 168 164 195 132 138 175 185 142 219 130 236 177 231 165 129 161 178 135 180 142 219 111 249 117 184 142 193 152 237 190 174 136 185 154 184 128 203 148 117 172 133 147 186 136 206 150 111 160 156 153 172 168 146 166 135 179 188 172 181 104 147 138 197 126 223 129 205 146 186 142 158 116 157 135 202 188 221 145 218 122 170 141 187 175 144 182 199 158 160 153 164 148 215 149 192 129 180 143 154 144 226 185 163 103 174 162 182 147 239 112 207 103 235 120 115 171 183 161 179 142 227 196 202 120 179 118 132 130 186 149 215 108 223 113 151 114 239 147 192 171 170 137 261 132 197 173 218 148 133 196 139 158 177 143 109 148 179 142 179 145 193 148 191 140 147 107 136 92 215 168 158 176 154 119 176 154 138 139 183 140 159 126 175 164 116 137 225 124 180 143 193 151 165 112 155 122 173 143 178 141 206 176 174 165 177 126 214 123 152 127 136 108 215 124 190 144 195 174 181 131 162 100 185 142 123 109 209 187 133 180 179 142 133 102 248 129 163 146 119 148 254 121 141 127 194 204 181 140 174 168 235 150 156 175 169 151 181 132 164 178 148 124 175 147 157 143 195 157 180 143 138 154 180 141 185 178 180 142 196 152 181 136 163 161 155 158 192 153 143 145 168 154 238 176 158 126 176 143 159 159 196 162 150 147 209 152 160 169 162 165 259 160 174 141 181 83 180 142 179 121 166 177 183 142 172 126 180 142 174 140 183 144 107 148 266 154 179 132 169 107 119 156 204 177 210 152 144 147 137 126 246 158 159 140 227 187 159 111 193 205 257 126 224 94 129 132 182 134 253 154 156 153 219 194 153 188 165 148 194 199 175 139 231 122 208 156 165 136 202 170 234 110 188 149 197 127 151 148 131 143 199 204 188 154 174 144 173 139 155 199 245 136 165 87 172 158 176 145 140 146 214 129 141 141 177 151 134 94 188 162 179 102 227 141 253 158 220 184 184 139 188 149 221 119 202 119 151 90 187 135 184 123 208 180 178 135 170 112 177 145 210 129 136 151 176 165 191 142 108 165 226 191 176 147 178 151 181 155 159 125 222 115 193 163 201 106 186 137 100 153 186 160 125 104 172 94 194 124 237 167 236 134 179 118 176 144 177 153 178 147 187 174 152 158 240 148 112 171 184 154 174 139 118 143 188 145 187 139 243 169 151 136 147 156 214 119 129 181 168 160 203 86 207 160 206 165 171 168 204 134 171 177 191 137 176 140 182 164 118 165 158 105 189 154 172 143 189 154 160 144 175 140 195 162 138 162 173 167 179 142 175 137 197 161 140 134 158 158 173 159 123 161 216 148 112 159 148 202 144 134 159 108 245 124 125 162 173 144 190 126 203 163 189 152 151 128 215 197 196 100 180 122 160 159 124 107 165 141 236 139 228 164 175 133 162 130 160 119 173 157 165 199 225 139 177 138 164 159 184 139 152 156 147 179 209 143 227 125 163 136 186 145 181 127 232 112 184 136 212 139 211 175 188 172 180 135 150 125 257 128 169 123 174 147 157 113 152 165 108 146 130 163 169 186 199 169 179 121 126 153 121 104 170 141 98 163 218 175 255 153 143 146 180 148 191 137 193 174 172 137 252 164 178 154 233 143 207 114 192 150 188 137 180 141 155 132 124 182 138 149 204 147 218 169 232 151 238 131 227 148 224 98 198 150 168 147 209 133 118 96 203 107 168 178 186 143 150 143 131 131 159 137 173 152 203 92 147 147 186 158 140 154 152 146 229 188 194 145 238 146 164 128 191 149 180 128 158 116 185 97 156 136 139 111 168 204 147 113 243 143 175 90 199 163 179 154 119 98 188 137 239 175 173 125 169 144 231 115 201 200 182 149 189 143 196 151 176 133 201 108 177 142 159 155 175 168 122 120 222 139 174 116 112 111 219 186 174 107 225 133 190 125 185 86 136 153 167 147 194 126 105 122 116 161 128 122 205 182 209 192 179 142 176 181 130 149 120 127 153 145 182 152 218 160 102 151 101 161 179 142 193 127 231 180 173 143 235 118 156 199 201 100 109 160 179 142 180 141 225 105 199 125 183 107 157 129 181 142 180 147 191 154 178 141 179 145 179 147 196 141 153 197 118 97 212 131 181 133 207 115 177 144 147 88 179 141 214 170 180 142 180 145 173 112 147 172 165 152 179 142 147 153 191 113 187 133 134 95 180 137 197 153 165 85 164 122 208 139 156 176 144 120 104 119 228 130 185 98 190 143 212 169 209 136 212 190 144 164 161 135 191 135 185 101 177 152 133 152 256 131 214 194 182 147 175 145 229 137 210 173 179 121 193 173 167 172 236 103 178 135 191 100 132 151 164 130 167 138 157 123 233 119 169 181 181 123 177 206 132 90 110 174 180 151 190 172 163 161 174 134 138 106 110 174 174 135 166 171 143 106 237 188 238 165 243 146 176 138 215 109 225 89 165 138 193 131 168 148 177 145 170 167 128 170 129 115 161 125 172 174 191 132 177 129 202 147 126 128 249 127 200 150 222 102 236 169 106 148 149 174 182 161 172 86 197 123 218 164 181 142 188 151 154 136 205 190 206 82 182 144 179 135 132 106 189 181 166 141 198 141 182 141 162 204 162 100 182 141 206 83 160 147 157 134 148 113 245 163 164 140 146 111 179 143 246 134 135 176 179 142 180 142 232 142 193 166 133 196 190 196 195 133 153 126 163 150 169 124 163 189 136 126 163 108 185 142 193 124 179 142 196 150 177 179 183 108 183 137 212 146 186 145 165 158 245 121 243 98 223 152 92 132 194 124 166 140 181 139 220 135 179 144 186 141 96 153 178 186 171 157 214 120 224 140 186 141 239 173 160 83 184 125 238 174 200 81 224 135 251 160 207 156 205 183 143 150 179 141 179 130 214 148 186 150 207 96 102 164 166 139 193 147 177 118 134 103 178 155 217 160 173 142 182 140 189 155 182 138 119 147 136 193 170 127 117 112 137 155 187 142 173 175 107 132 163 143 159 122 181 155 158 177 160 140 199 124 213 152 207 108 148 199 232 186 154 146 202 163 178 141 198 130 208 143 119 139 236 161 113 172 194 191 173 144 211 131 157 110 170 137 127 118 249 139 242 153 183 127 193 139 173 141 179 142 183 141 177 140 186 84 164 104 234 150 121 175 172 142 119 180 107 122 175 149 172 139 235 154 167 169 170 148 188 102" fill="none" stroke="none" marker-start="url(#k5)" marker-mid="url(#k5)" marker-end="url(#k5)"/>
</g>
<line x1="34.5" y1="31" x2="34.5" y2="112" stroke="#909090" stroke-width="1.3"/>
<line x1="158.5" y1="31" x2="158.5" y2="112" stroke="#909090" stroke-width="1.3"/>
<line x1="34.5" y1="112" x2="158.5" y2="112" stroke="#909090" stroke-width="1.3"/>
<polygon points="101.4,64.9 112.21,65.84 110.77,62.6 131.69,53.3 130.31,50.2 109.39,59.49 107.95,56.25" fill="#000"/>
<text x="148.5" y="73.5" font-size="4" fill="#D95319">+</text>
<line x1="35.6" y1="145.8" x2="158" y2="145.8" stroke="#ededed" stroke-width="0.7"/>
<line x1="35.6" y1="154.6" x2="158" y2="154.6" stroke="#ededed" stroke-width="0.7"/>
<line x1="35.6" y1="163.4" x2="158" y2="163.4" stroke="#ededed" stroke-width="0.7"/>
<line x1="35.6" y1="172.2" x2="158" y2="172.2" stroke="#ededed" stroke-width="0.7"/>
<line x1="35.6" y1="181" x2="158" y2="181" stroke="#ededed" stroke-width="0.7"/>
<line x1="35.6" y1="189.8" x2="158" y2="189.8" stroke="#ededed" stroke-width="0.7"/>
<line x1="35.6" y1="198.6" x2="158" y2="198.6" stroke="#ededed" stroke-width="0.7"/>
<line x1="35.6" y1="207.4" x2="158" y2="207.4" stroke="#ededed" stroke-width="0.7"/>
<line x1="35.6" y1="216.2" x2="158" y2="216.2" stroke="#ededed" stroke-width="0.7"/>
<line x1="47.84" y1="137" x2="47.84" y2="225" stroke="#ededed" stroke-width="0.7"/>
<line x1="60.08" y1="137" x2="60.08" y2="225" stroke="#ededed" stroke-width="0.7"/>
<line x1="72.32" y1="137" x2="72.32" y2="225" stroke="#ededed" stroke-width="0.7"/>
<line x1="84.56" y1="137" x2="84.56" y2="225" stroke="#ededed" stroke-width="0.7"/>
<line x1="96.8" y1="137" x2="96.8" y2="225" stroke="#ededed" stroke-width="0.7"/>
<line x1="109.04" y1="137" x2="109.04" y2="225" stroke="#ededed" stroke-width="0.7"/>
<line x1="121.28" y1="137" x2="121.28" y2="225" stroke="#ededed" stroke-width="0.7"/>
<line x1="133.52" y1="137" x2="133.52" y2="225" stroke="#ededed" stroke-width="0.7"/>
<line x1="145.76" y1="137" x2="145.76" y2="225" stroke="#ededed" stroke-width="0.7"/>
<text x="34.1" y="138.3" font-size="4.3" text-anchor="end" fill="#707070">1</text>
<text x="34.1" y="147.1" font-size="4.3" text-anchor="end" fill="#707070">0.8</text>
<text x="34.1" y="155.9" font-size="4.3" text-anchor="end" fill="#707070">0.6</text>
<text x="34.1" y="164.7" font-size="4.3" text-anchor="end" fill="#707070">0.4</text>
<text x="34.1" y="173.5" font-size="4.3" text-anchor="end" fill="#707070">0.2</text>
<text x="34.1" y="182.3" font-size="4.3" text-anchor="end" fill="#707070">0</text>
<text x="34.1" y="191.1" font-size="4.3" text-anchor="end" fill="#707070">-0.2</text>
<text x="34.1" y="199.9" font-size="4.3" text-anchor="end" fill="#707070">-0.4</text>
<text x="34.1" y="208.7" font-size="4.3" text-anchor="end" fill="#707070">-0.6</text>
<text x="34.1" y="217.5" font-size="4.3" text-anchor="end" fill="#707070">-0.8</text>
<text x="34.1" y="226.3" font-size="4.3" text-anchor="end" fill="#707070">-1</text>
<text x="35.6" y="230.5" font-size="4.3" text-anchor="middle" fill="#707070">-2</text>
<text x="47.84" y="230.5" font-size="4.3" text-anchor="middle" fill="#707070">-1.8</text>
<text x="60.08" y="230.5" font-size="4.3" text-anchor="middle" fill="#707070">-1.6</text>
<text x="72.32" y="230.5" font-size="4.3" text-anchor="middle" fill="#707070">-1.4</text>
<text x="84.56" y="230.5" font-size="4.3" text-anchor="middle" fill="#707070">-1.2</text>
<text x="96.8" y="230.5" font-size="4.3" text-anchor="middle" fill="#707070">-1</text>
<text x="109.04" y="230.5" font-size="4.3" text-anchor="middle" fill="#707070">-0.8</text>
<text x="121.28" y="230.5" font-size="4.3" text-anchor="middle" fill="#707070">-0.6</text>
<text x="133.52" y="230.5" font-size="4.3" text-anchor="middle" fill="#707070">-0.4</text>
<text x="145.76" y="230.5" font-size="4.3" text-anchor="middle" fill="#707070">-0.2</text>
<text x="158" y="230.5" font-size="4.3" text-anchor="middle" fill="#707070">0</text>
<g transform="scale(0.5)">
<path d="M284 305 275 374 200 328 243 389 213 441 141 352 299 419 97 314 161 318 99 333 228 327 181 327 246 365 283 360 220 330 217 348 228 377 273 387 127 373 109 403 256 332 229 418 302 357 268 323 271 419 178 435 227 361 153 356 290 393 221 415 155 384 156 322 290 385 236 345 282 362 208 390 119 323 132 373 208 287 253 349 193 323 131 299 293 413 164 436 294 366 162 313 200 373 171 312 144 313 164 349 177 401 139 344 139 370 252 368 193 303 288 339 155 315 200 315 136 414 114 365 173 402 87 317 138 384 100 382 234 360 86 347 208 366 177 364 240 305 215 359 193 435 193 355 255 432 197 312 157 391 99 302 207 306 206 299 147 376 265 366 156 278 112 413 293 311 202 318 145 434 183 367 180 395 296 371 279 324 144 321 102 380 138 367 285 313 277 307 129 422 263 376 211 312 194 347 190 353 221 307 125 336 126 339 222 348 285 406 144 306 197 344 203 356 175 400 271 363 206 294 101 347 225 440 103 325 116 360 307 368 166 309 202 428 292 308 244 352 111 345 262 422 230 357 149 285 227 342 236 405 196 352 144 400 155 378 258 402 177 335 221 355 248 391 243 428 183 350 119 352 189 439 110 358 151 376 245 391 90 377 275 379 249 408 269 364 220 381 204 395 301 378 82 335 119 335 148 290 228 421 218 422 80 386 176 322 170 382 247 446 119 382 147 432 263 390 161 335 228 288 217 427 235 431 99 350 177 328 131 320 161 277 314 409 284 403 230 424 236 300 132 420 268 313 214 373 189 430 238 316 184 426 167 383 215 406 132 372 197 337 80 394 89 402 89 317 280 335 89 342 145 317 268 326 189 410 251 412 219 346 191 434 124 316 119 383 281 388 247 403 241 421 225 411 162 343 195 284 238 309 104 309 129 390 287 342 75 400 288 420 291 419 168 334 292 361 150 433 226 339 156 335 149 418 248 327 294 407 160 415 161 422 178 314 134 421 172 442 268 321 123 424 168 329 173 429 169 336 183 375 167 432 265 359 124 407 215 295 126 354 239 365 172 339 174 385 110 377 141 390 281 391 261 307 289 402 279 362 90 358 205 364 190 279 212 330 144 337 191 319 215 352 266 324 226 396 265 385 255 388 174 411 191 323 222 314 266 358 248 327 205 418 212 289 168 391 230 354 107 328 199 324 134 319 155 340 193 416 140 394 145 316 166 402 207 352 281 332 153 435 107 387 157 338 105 405 81 385 148 402 190 390 248 320 164 310 178 336 188 370 202 280 206 424 274 356 268 407 174 400 139 426 220 350 167 348 295 340 131 421 170 301 229 413 156 373 260 412 277 377 199 328 254 332 249 344 244 314 180 284 122 375 174 289 154 385 261 347 200 441 187 412 177 371 256 425 243 422 193 334 291 400 167 415 143 397 184 366 215 410 110 405 209 308 272 420 204 334 236 302 239 414 242 336 151 434 102 338 222 353 261 371 110 366 137 359 220 396 296 406 79 411 226 397 264 413 174 350 227 312 188 282 155 405 247 316 148 320 219 407 223 385 116 354 207 325 89 356 215 438 231 405 274 384 179 304 272 326 312 353 107 347 111 422 116 401 218 391 313 347 253 411 239 422 280 402 234 431 164 373 260 335 243 363 139 340 277 335 83 317 215 314 141 413 204 329 98 372 227 352 176 433 213 412 146 324 145 388 270 366 257 377 132 361 225 340 225 411 166 303 115 401 198 335 174 337 140 405 183 373 188 299 285 394 215 332 245 326 260 319 229 399 96 371 291 348 165 331 286 321 296 351 279 329 275 371 76 381 149 314 199 357 110 368 143 403 190 390 266 441 300 355 275 332 239 371 233 421 171 309 136 284 263 393 119 417 216 374 128 415 267 309 101 354 189 276 141 346 179 323 208 404 125 288 142 414 211 408 102 363 268 423 87 405 216 315 130 387 264 418 270 386 177 321 274 398 260 422 262 340 313 329 300 348 238 316 116 346 272 426 191 398 170 336 212 401 305 328 152 332 211 405 85 336 77 344 219 333 186 328 205 418 193 380 242 434 297 385 119 339 210 288 222 368 98 300 285 335 217 300 196 320 106 424 151 328 138 404 185 423 185 314 278 429 143 303 246 400 180 378 244 286 176 355 198 374 171 424 208 334 139 420 142 307 247 327 265 423 232 400 286 418 245 292 267 393 265 373 286 320 143 405 239 303 232 396 174 370 143 329 237 375 271 315 144 444 125 287 249 388 194 299 128 350 140 331 269 353 100 385 200 443 150 306 195 336 148 363 218 313 108 402 242 384 165 327 246 429 181 375 313 367 222 350 282 290 282 338 280 331 223 320 196 424 257 306 172 290 109 301 202 334 127 327 86 388 279 413 118 394 178 362 170 372 150 307 194 412 183 347 218 404 182 400 231 334 268 318 128 404 197 416 221 277 202 328 243 312 238 351 274 296 233 423 150 394 301 353 264 415 108 352 230 335 98 343 225 340 269 374 112 409 264 392 256 390 221 321 303 418 79 352 189 306 145 428 182 432 232 423 122 309 231 286 123 334 152 409 159 410 251 285 227 348 250 303 198 410 132 369 190 400 303 378 253 422 107 306 275 364 285 316 151 308 93 333 157 346 264 338 170 393 200 418 278 310 89 353 115 350 212 420 264 353 154 362 145 297 249 314 115 404 314 384 231 433 76 378 113 319 150 416 206 386 275 312 287 400 121 334 146 307 170 360 180 327 234 430 304 395 136 425 256 318 178 378 144 355 132 429 236 364 167 291 95 315 155 294 155 426 184 376 283 419 254 361 239 343 167 384 272 351 169 341 228 369 240 432 269 326 241 339 178 415 193 420 169 425 227 412 148 303 249 372 200 407 169 437 131 414 215 410 254 377 107 307 153 297 109 387 222 428 259 402 103 355 239 340 109 379 195 338 96 381 276 347 256 308 159 334 252 292 226 301 248 416 158 406 153 280 143 402 122 390 107 310 151 332 224 342 253 343 273 314 155 313 165 292 113 385 196 417 243 303 265 318 188 329 101 428 112 380 139 291 175 397 263 350 122 354 168 361 148 303 194 387 115 425 264 339 150 389 126 356 103 309 90 370 195 363 137 365 89 372 231 338 202 331 220 299 90 342 156 425 164 297 122 348 96 354 140 354 255 326 249 384 121 285 119 346 204 290 186 401 134 430 94 394 126 362 127 339 88 408 145 413 136 397 150 400 242 312 270 321 245 370 283 352 112 398 143 440 217 301 256 289 257 302 203 303 104 367 268 408 140 429 123 316 186 416 146 352 142 328 91 390 107 358 215 425 151 333 161 363 221 403 212 309 168 406 160 440 80 351 259 426 170 300 119 346 296 378 95 383 183 310 214 391 271 423 195 352 178 409 165 361 270 362 202 331 290 411 138 403 199 336 220 373 125 320 198 309 229 364 142 394 144 311 163 438 179 338 138 382 155 346 215 302 169 313 214 293 138 414 124 424 215 305 98 364 126 355 183 441 120 292 179 364 160 441 106 304 103 377 254 431 188 396 223 300 256 376 116 344 150 407 212 401 125 296 152 326 275 353 116 299 94 352 95 392 129 376 277 363 158 435 179 346 188 422 195 373 112 337 212 346 249 357 135 360 101 327 126 328 146 361 113 320 133 327 194 323 109 380 121 326 181 411 190 333 179 321 242 311 197 293 243 407 253 373 231 368 107 393 152 406 147 357 81 362 127 411 160 313 248 311 198 313 238 315 189 338 157 294 116 434 137 392 213 319 219 387 214 342 192 295 151 418 207 365 199 443 167 441 120 363 115 410 261 435 119 413 123 343 222 400 170 334 98 315 274 347 205 331 207 408 178 333 117 309 115 297 119 408 202 307 153 404 200 417 203 422 178 396 165 376 290 340 139 342 155 376 76 351 99 348 209 409 187 425 118 378 126 380 218 437 227 360 285 336 189 335 206 332 153 406 233 280 259 364 182 347 199 411 78 369 162 316 211 384 193 369 162 292 201 418 272 336 182 428 108 364 182 290 142 413 206 298 187 413 207 330 245 377 256 375 272 420 230 313 196 356 239 298 196 360 273 322 129 358 114 427 213 322 150 375 155 336 153 319 155 390 202 442 246 359 161 279 254 333 237 382 130 430 287 353 119 387 252 323 135 404 104 396 222 317 150 307 220 387 244 399 180 333 299 352 255 295 134 304 210 345 267 406 199 282 202 406 171 444 249 333 192 390 153 316 199 327 198 385 212 371 221 373 294 392 240 331 231 373 171 322 76 384 296 340 271 405 302 361 231 412 128 355 109 316 155 335 152 290 162 429 248 331 253 410 186 434 92 379 111 299 133 437 147 397 165 304 207 400 257 389 97 357 128 339 141 352 273 380 173 285 209 338 92 375 182 426 286 358 141 290 209 392 290 380 243 407 190 441 242 395 130 352 100 397 136 359 216 402 198 322 97 366 251 386 259 383 167 368 290 378 243 353 191 421 125 362 271 429 217 296 274 329 192 419 151 442 251 360 218 286 267 366 132 407 139 442 239 405 261 323 118 329 188 421 153 391 147 363 231 436 180 399 148 290 133 298 271 416 117 368 190 390 168 437 242 355 232 354 254 327 249 402 157 286 269 364 185 429 232 308 120 351 133 437 159 369 83 384 222 414 205 347 293 341 187 387 186 309 216 304 276 374 216 324 242 408 248 334 183 433 174 321 149 380 98 335 292 411 149 383 240 358 242 417 231 419 236 344 194 428 198 445 291 346 167 418 159 383 159 292 227 328 133 377 134 398 219 308 210 319 200 396 238 322 145 433 223 345 157 409 121 303 193 428 204 388 100 370 158 325 166 426 224 359 143 388 280 388 210 397 169 315 91 360 272 335 127 369 294 373 134 361 269 407 270 341 164 424 118 368 239 353 152 338 200 280 195 344 140 351 171 350 147 334 183 448 236 431 184 279 150 301 249 406 84 341 264 302 237 403 228 346 231 416 163 321 166 320 282 364 152 446 279 325 238 318 281 329 168 364 220 380 244 419 141 391 232 364 175 406 286 283 196 359 225 354 95 411 261 350 201 353 145 325 274 371 155 373 192 377 195 361 224 321 155 390 182 372 155 323 257 317 106 369 283 384 195 376 122 345 209 383 217 431 213 282 145 369 276 400 261 379 86 318 274 302 111 404 211 412 285 383 191 326 160 333 188 279 119 327 131 406 182 360 283 405 243 293 301 302 223 288 244 332 165 346 151 371 171 338 234 379 270 295 125 427 214 415 167 312 243 436 186 345 268 419 241 375 187 389 257 372 268 346 288 386 191 400 263 306 245 438 162 373 101 362 196 427 121 335 234 328 189 376 96 363 229 280 276 384 277 349 142 436 107 363 111 349 128 347 195 293 233 302 238 324 164 437 256 387 119 440 130 391 240 396 196 433 278 374 280 398 154 360 287 297 193 376 220 316 91 354 222 392 260 341 80 390 164 292 228 371 272 310 248 429 132 400 131 436 223 306 256 288 236 313 150 439 177 405 196 360 190 354 178 382 180 371 140 312 227 358 135 290 225 353 140 330 191 308 251 291 248 378 285 413 254 299 256 290 148 408 192 302 82 322 206 334 88 359 126 407 305 386 167 418 226 398 117 330 116 306 105 396 129 386 177 328 190 298 193 389 280 369 159 309 145 307 165 348 214 434 104 364 248 308 299 357 125 353 239 399 258 389 219 331 141 419 299 387 228 402 124 365 149 369 255 419 270 398 112 339 253 431 133 359 157 374 136 441 174 302 198 390 158 347 132 377 198 369 263 318 250 300 232 417 143 359 151 400 142 297 239 364 217 408 100 349 217 384 232 373 297 362 198 403 275 374 188 356 187 326 119 303 232 361 131 327 178 302 131 325 192 421 126 370 289 380 177 340 255 312 148 322 232 321 204 384 222 318 154 286 205 284 276 417 104 353 267 416 272 389 161 297 144 329 255 363 162 340 132 425 133 314 212 306 177 276 238 448 247 405 255 302 224 440 302 308 197 432 244 307 162 329 159 430 242 389 108 312 268 340 143 320 229 411 231 373 113 393 260 441 206 378 257 361 114 317 251 379 254 325 237 440 186 401 139 374 217 416 220 405 116 371 224 315 170 385 273 327 193 367 233 437 188 344 116 407 231 323 218 405" fill="none" stroke="none" marker-start="url(#k6)" marker-mid="url(#k6)" marker-end="url(#k6)"/>
<path d="M198 310 209 315 167 387 192 381 245 343 193 432 247 332 133 417 202 346 186 375 115 350 197 354 242 299 288 390 153 403 142 407 107 418 273 403 228 332 273 313 170 330 218 294 138 356 269 384 255 408 246 315 290 340 191 363 177 437 192 371 311 371 289 352 258 402 197 337 100 345 225 321 196 390 247 318 159 332 155 347 243 368 189 374 203 357 143 421 260 385 164 294 155 395 192 418 209 333 152 387 181 360 192 323 216 364 142 350 147 318 180 314 244 342 186 356 261 312 156 300 238 354 173 286 120 332 127 390 246 312 108 366 247 361 121 336 190 318 171 352 280 366 241 361 128 408 285 338 110 364 217 312 86 383 165 294 215 381 249 395 256 358 227 393 130 387 198 420 164 355 194 355 131 362 165 404 221 298 237 394 109 325 147 307 98 325 228 398 156 302 274 415 281 409 285 390 184 327 147 438 128 343 262 379 228 368 191 338 240 325 199 350 107 399 132 374 151 379 132 366 208 314 231 423 204 333 89 359 165 374 289 337 194 430 132 370 213 424 160 342 154 364 117 339 239 322 143 335 120 323 172 362 174 407 281 340 136 303 200 413 250 313 249 310 238 386 245 350 211 336 89 372 125 306 176 424 248 305 266 345 255 398 153 338 179 298 212 436 292 383 158 406 122 396 174 286 147 433 83 318 89 374 239 426 253 337 95 394 278 363 79 346 132 378 104 383 185 382 127 335 235 375 210 366 212 413 222 343 253 350 260 355 232 427 211 299 101 304 234 398 167 305 270 372 192 324 209 306 266 395 202 375 166 358 116 339 294 365 271 379 135 422 235 323 269 418 202 403 263 382 209 381 252 337 97 377 206 387 252 308 185 394 181 347 153 301 202 331 188 392 225 424 250 313 229 298 117 385 139 333 127 326 263 405 256 349 143 380 143 375 171 375 249 377 143 390 128 329 272 316 194 405 173 393 224 306 110 323 127 373 89 314 213 340 103 390 218 412 187 421 143 392 266 419 163 386 279 323 203 377 185 348 144 409 270 382 133 376 183 403 200 407 108 334 285 406 162 308 118 344 275 370 111 355 113 310 289 384 217 314 264 352 204 309 216 326 234 297 221 306 265 412 123 315 210 379 152 370 263 334 219 417 96 353 214 370 240 320 111 356 235 405 121 332 131 360 273 397 217 315 172 314 274 386 104 369 237 368 152 308 232 393 240 329 215 319 104 374 191 312 181 390 148 376 191 320 224 412 173 291 214 301 269 291 211 388 161 290 140 372 189 378 262 413 219 311 219 315 258 308 288 314 231 399 191 331 201 293 277 373 179 330 100 354 277 327 175 428 260 349 163 419 212 393 121 385 249 392 236 420 132 314 204 298 131 383 270 329 194 420 253 413 211 310 296 346 101 374 223 435 260 388 153 305 259 310 244 404 204 368 107 331 181 352 185 288 296 335 136 364 263 365 156 363 135 293 133 374 282 383 219 308 185 290 281 368 192 414 175 294 203 424 262 306 183 346 232 354 197 390 281 393 275 343 187 308 193 335 260 369 190 301 122 392 295 334 144 424 243 402 216 329 125 356 204 418 250 343 278 377 188 341 138 335 203 409 301 374 247 352 255 333 267 431 184 297 139 322 131 309 286 392 220 332 213 397 236 331 239 382 246 380 255 331 229 418 211 313 179 346 234 381 233 413 286 372 225 374 251 372 211 336 268 353 252 347 245 376 154 405 136 349 152 346 201 316 170 427 142 387 199 302 265 380 139 381 101 380 204 309 271 396 273 386 178 416 210 307 279 397 278 370 108 387 202 362 255 385 140 326 164 402 239 320 128 394 114 383 258 352 151 428 243 419 199 367 137 367 197 347 217 429 156 358 164 345 265 368 218 346 130 401 238 371 135 393 246 301 263 397 283 356 197 428 277 423 136 385 273 362 226 388 168 374 195 438 179 349 101 392 249 416 227 351 200 404 165 346 154 287 185 426 241 423 251 389 231 423 177 298 130 371 190 389 206 411 244 382 89 338 84 354 276 351 151 384 224 406 237 392 171 338 185 410 164 408 246 431 133 340 231 348 173 416 220 319 126 391 169 306 138 342 287 371 269 363 110 384 157 377 257 366 162 357 146 308 279 334 193 405 149 344 205 406 205 429 177 407 102 357 190 336 172 324 99 398 247 336 175 282 244 339 233 402 145 316 260 341 181 349 218 412 117 367 223 350 246 326 203 284 135 383 184 401 216 400 213 370 255 372 220 431 160 336 285 370 248 401 270 314 219 384 132 393 149 335 219 420 140 369 237 357 285 356 289 342 200 411 128 436 178 311 116 312 81 381 243 368 125 354 115 330 206 377 201 306 163 313 227 372 232 361 294 329 190 308 104 358 196 413 156 369 121 345 240 394 211 447 138 350 115 363 302 347 251 341 219 392 170 309 146 358 213 377 249 409 240 362 134 423 95 374 193 344 178 430 194 401 223 372 261 309 187 396 104 358 127 370 197 347 109 379 252 392 154 403 154 394 191 335 248 395 241 340 184 387 278 359 284 315 261 331 219 352 240 425 149 408 101 356 266 381 227 364 295 381 215 327 196 355 281 363 272 340 220 288 258 308 119 371 175 345 130 332 134 368 144 403 106 396 185 365 185 330 223 339 289 361 236 323 162 353 167 410 140 367 115 382 101 351 197 288 100 356 153 405 270 339 235 370 128 347 212 340 133 320 216 324 282 318 156 293 186 433 233 324 169 355 250 328 169 420 205 333 128 425 139 373 109 318 159 314 151 403 290 340 113 349 236 342 244 400 102 368 150 419 269 351 228 338 180 404 223 402 133 388 96 359 152 355 239 304 214 409 138 296 175 404 244 342 163 358 272 341 149 348 282 357 148 309 228 297 155 378 147 352 151 389 137 421 185 429 124 353 195 428 173 302 114 301 196 346 201 314 207 322 120 329 274 339 210 357 145 311 202 412 228 304 213 410 244 307 169 400 82 344 208 380 124 332 195 376 121 371 204 416 274 350 237 398 117 340 101 377 184 349 178 348 195 313 239 325 206 292 170 383 169 349 195 333 169 299 91 337 109 373 259 313 137 375 158 414 259 351 130 328 239 326 156 340 143 380 225 297 113 345 166 296 276 374 249 328 112 325 223 404 191 332 115 407 237 326 175 345 246 305 141 382 114 344 145 338 126 352 204 437 161 306 215 350 148 368 166 353 100 379 149 289 165 400 198 442 127 327 122 339 113 381 145 375 222 429 232 426 292 388 282 365 252 319 267 426 120 360 162 349 179 435 208 304 141 316 136 429 186 389 175 314 274 350 295 337 274 322 142 424 172 389 162 310 249 411 175 405 281 401 211 394 204 289 259 366 128 384 95 375 214 369 136 337 146 423 246 323 154 338 124 395 246 406 211 313 193 386 252 383 240 380 263 418 294 354 121 330 131 301 120 384 166 339 204 426 174 351 175 439 86 351 103 350 124 357 170 405 187 369 276 392 193 370 86 352 298 369 194 395 277 411 241 328 192 285 234 363 188 371 189 390 231 390 230 377 211 290 133 386 148 348 143 344 293 343 107 373 94 365 137 417 152 312 142 356 170 359 300 335 115 363 285 374 272 364 88 369 191 281 103 339 219 356 214 306 135 363 166 370 262 308 245 413 129 334 97 328 239 362 192 356 149 379 264 405 185 318 142 373 136 322 94 396 258 320 209 324 154 420 99 354 229 368 186 338 260 345 156 335 280 357 270 326 218 431 258 371 216 324 128 371 255 377 195 357 198 441 167 356 133 316 107 386 179 393 270 409 183 407 156 417 277 343 199 354 202 381 195 299 215 330 230 350 188 382 135 372 146 366 136 385 109 412 253 428 133 367 130 348 163 438 154 429 189 376 186 410 189 352 112 319 224 411 102 362 118 396 168 417 185 330 287 365 100 348 137 366 103 374 102 389 233 384 289 360 172 336 241 329 212 322 185 346 230 400 162 331 144 330 127 404 160 427 144 289 259 367 272 392 267 408 196 280 175 389 171 321 266 377 136 347 202 408 223 405 148 387 234 399 229 392 157 381 233 399 165 403 243 297 150 351 206 416 186 435 299 375 160 407 255 323 158 311 258 415 151 369 260 336 198 362 214 426 158 421 174 357 136 305 189 303 251 371 158 395 250 305 243 347 240 383 160 434 262 365 208 339 192 348 177 317 238 406 214 360 239 378 233 403 103 392 296 368 182 319 278 354 270 391 216 313 291 390 207 434 147 381 194 288 113 377 222 360 290 377 271 404 145 357 105 325 122 373 161 421 126 336 160 335 171 296 237 349 254 322 106 368 298 362 204 440 232 428 142 293 140 293 118 373 253 360 149 410 136 392 175 368 165 309 121 364 138 380 186 307 201 304 221 406 156 415 264 336 213 308 87 374 167 305 223 389 140 425 187 385 139 424 135 374 263 413 245 387 195 326 231 367 154 317 253 364 211 423 173 385 95 361 220 446 132 347 244 388 178 331 87 344 110 338 228 421 133 428 130 425 219 443 120 345 220 378 104 400 176 418 234 418 260 361 256 352 197 306 110 356 227 336 152 309 80 365 184 360 206 363 214 423 193 284 253 302 272 324 241 289 154 417 133 340 177 404 247 379 213 382 137 377 129 355 225 434 134 303 214 359 252 310 172 367 220 299 197 332 266 387 179 344 188 364 225 356 275 389 183 337 173 356 212 384 117 367 285 387 289 378 261 357 210 425 181 331 134 304 245 343 140 317 175 372 121 374 150 336 118 418 213 343 140 339 197 292 255 308 204 346 124 354 179 384 284 396 190 334 242 376 177 415 94 347 275 314 211 300 105 391 173 416 137 387 236 337 215 358 187 328 234 361 177 439 241 357 93 383 202 364 123 306 141 423 168 401 136 421 226 408 219 429 284 383 265 388 146 313 138 390 125 317 146 342 198 299 251 387 165 359 172 382 130 323 150 378 162 409 134 368 226 421 236 294 146 355 143 423 186 358 223 403 135 422 172 419 137 394 165 314 262 347 286 411 200 302 159 314 157 368 166 389 143 325 266 329 132 403 194 402 195 442 161 321 165 359 123 382 263 358 296 397 222 431 287 365 204 330 146 333 212 414 288 329 131 382 203 403 136 364 196 415 289 365 132 370 222 294 159 307 246 388 125 301 148 332 281 333 189 302 144 353 139 343 148 345 191 335 218 361 218 359 264 385 147 372" fill="none" stroke="none" marker-start="url(#k7)" marker-mid="url(#k7)" marker-end="url(#k7)"/>
<path d="M154 401 138 412 199 398 123 348 269 375 231 416 156 362 236 432 160 359 250 309 166 285 187 404 217 306 135 408 299 373 215 363 115 355 179 411 134 354 98 365 126 348 145 374 145 345 207 395 230 352 226 333 251 384 136 372 254 384 175 425 182 349 227 361 124 345 141 298 225 367 124 332 209 431 161 391 144 306 235 399 148 332 261 366 250 413 248 306 151 425 129 340 161 286 221 319 229 323 226 382 274 417 156 412 106 377 202 402 198 348 158 356 284 402 153 338 246 331 253 409 206 365 238 391 100 362 107 349 189 336 214 348 190 360 219 417 128 368 157 407 96 380 300 370 149 406 218 348 130 329 241 344 118 404 215 356 221 384 131 385 186 327 194 418 239 404 158 434 170 322 197 401 152 402 235 420 297 363 209 408 231 385 136 367 182 297 184 410 150 332 91 339 192 424 231 364 274 319 193 421 222 374 151 308 285 331 155 325 227 301 174 353 274 323 191 307 220 303 205 370 148 426 199 289 156 327 205 407 166 352 151 310 115 323 182 359 257 360 125 348 243 306 269 361 280 367 174 310 136 358 105 370 184 329 212 427 163 397 192 352 233 321 189 350 183 381 242 319 242 319 112 355 180 422 242 388 292 330 91 324 234 350 104 390 251 360 240 409 127 327 262 368 230 392 150 303 166 299 210 352 171 297 186 381 158 414 149 362 156 372 269 400 205 394 211 418 180 359 169 361 159 404 285 364 152 313 240 308 265 318 238 416 167 351 216 303 225 309 282 335 270 322 114 414 250 399 185 411 272 326 111 361 199 400 154 374 166 357 136 301 106 346 178 325 188 294 189 417 183 385 157 372 103 382 180 381 187 377 176 406 158 426 161 391 98 344 150 387 136 374 179 391 190 397 149 389 192 428 138 351 193 426 266 377 139 385 120 311 168 304 182 347 187 369 188 379 240 408 236 297 218 316 261 389 166 314 167 414 175 381 203 306 181 363 133 325 212 401 173 411 294 332 94 348 224 379 206 370 182 343 210 384 199 304 195 303 267 399 247 310 111 355 258 337 164 348 122 368 275 316 129 385 251 390 275 396 249 371 225 406 252 355 155 325 149 405 285 362 274 364 206 322 239 428 183 360 186 353 240 341 265 357 210 291 206 360 206 397 207 405 204 297 128 417 124 371 188 373 210 354 187 403 224 309 217 399 238 358 184 348 283 358 207 423 158 403 213 288 154 374 114 403 244 381 248 399 174 325 228 341 122 394 203 394 231 414 112 394 131 355 221 380 109 332 189 297 182 338 157 372 207 413 142 325 139 416 261 394 235 343 286 356 167 363 138 405 182 424 249 350 95 388 215 386 279 374 284 364 140 416 165 396 114 343 211 359 187 427 192 400 238 386 215 355 194 315 132 296 177 368 161 357 178 385 181 300 248 316 256 348 292 372 168 399 224 320 139 319 199 338 109 388 256 430 209 402 169 375 270 354 268 364 178 292 151 422 130 368 261 418 135 300 269 366 209 324 174 316 205 378 136 340 251 381 267 391 265 384 240 401 166 413 273 336 182 401 189 304 138 411 91 373 137 356 123 331 275 332 159 338 250 388 205 410 125 375 102 350 201 402 198 415 160 435 272 334 286 355 227 429 209 395 145 404 201 433 177 290 205 360 183 427 251 369 160 328 226 387 123 347 114 358 233 414 178 393 200 330 139 351 171 422 197 380 136 354 220 423 158 421 257 346 222 400 114 399 239 400 174 396 242 332 215 413 249 397 110 378 263 364 225 408 198 396 110 397 281 338 256 375 251 414 242 410 274 332 115 344 184 436 203 315 120 316 207 390 186 374 214 330 170 377 253 400 166 370 171 412 172 376 178 372 155 298 140 335 287 349 141 417 118 342 204 426 272 374 292 365 120 384 174 333 180 367 245 307 237 416 120 366 144 368 126 313 140 330 142 318 190 308 128 349 186 341 236 405 222 411 255 392 290 341 176 428 123 318 115 328 150 297 105 350 154 406 217 356 206 424 178 381 260 411 94 365 228 346 119 340 253 396 249 371 180 345 152 413 217 358 245 340 285 357 175 401 188 398 203 347 271 352 276 320 294 352 102 360 272 391 285 362 204 404 154 393 243 399 229 428 200 293 178 331 133 371 168 345 180 406 185 421 224 351 220 353 194 348 147 307 143 349 211 314 226 337 225 367 213 319 136 414 287 358 126 357 296 387 133 329 272 381 263 382 202 333 119 403 183 370 167 397 172 384 282 344 125 362 231 324 202 387 259 368 263 302 203 285 162 332 230 410 165 389 120 356 120 319 175 411 189 322 103 377 210 314 277 361 113 387 132 312 139 374 182 331 243 374 144 329 143 372 155 342 274 400 152 423 275 414 250 321 109 374 111 404 210 323 261 312 195 418 165 327 254 374 127 332 176 424 176 428 167 374 133 319 200 429 168 435 281 351 217 324 260 386 196 380 99 349 220 409 215 322 260 424 221 396 175 291 206 409 193 313 200 370 262 394 267 312 240 307 151 416 115 315 251 345 224 336 182 329 228 326 266 362 169 355 180 403 152 357 101 362 272 358 184 328 173 327 151 349 249 408 156 321 243 387 233 358 238 367 124 312 183 301 258 423 272 340 136 313 121 358 257 302 131 373 205 302 287 376 198 341 265 400 276 342 268 408 186 326 129 317 216 420 251 338 241 421 149 409 224 313 225 443 178 403 229 384 202 392 116 400 138 400 176 413 124 364 110 395 145 388 148 377 219 302 143 423 109 341 233 386 100 399 273 354 216 312 272 316 212 295 171 343 129 328 173 337 215 293 260 381 203 344 239 329 110 363 161 324 265 311 242 319 171 390 225 305 216 352 130 329 154 419 154 306 274 341 234 332 158 362 197 314 136 374 217 315 138 429 212 375 302 364 182 372 165 329 229 405 222 293 122 388 164 416 136 370 237 300 202 299 237 305 216 431 227 402 151 390 238 414 182 355 131 327 252 309 230 344 135 335 235 391 156 332 163 394 183 320 196 378 203 322 173 307 268 374 131 349 234 336 168 378 103 363 211 325 179 321 217 332 245 357 153 435 223 300 158 311 93 371 193 373 248 382 151 373 257 394 190 397 163 340 154 393 167 294 239 408 186 388 174 356 187 419 204 307 209 349 222 288 183 393 149 386 161 330 262 358 106 352 144 306 224 373 153 316 127 317 136 302 169 392 205 428 224 295 174 317 240 422 209 393 153 293 144 426 242 367 290 351 135 302 206 429 170 311 241 381 115 359 181 295 185 400 246 342 126 355 176 399 150 406 114 332 127 365 177 329 197 359 286 354 197 315 115 347 106 383 143 376 189 368 216 296 270 400 194 367 212 328 215 409 104 380 152 385 267 377 204 435 131 302 206 309 112 395 125 367 145 333 255 407 164 326 214 323 203 343 156 405 165 391 124 358 163 388 133 358 271 329 136 370 274 364 155 404 253 393 173 432 118 334 209 369 238 337 277 408 138 408 238 324 133 320 234 311 100 335 196 301 246 355 289 351 204 429 99 363 153 387 222 305 245 361 260 401 187 350 119 320 275 331 142 387 136 365 180 296 286 368 237 288 251 409 174 375 118 353 123 307 130 393 213 388 229 369 122 346 104 369 234 363 167 398 143 398 152 307 164 377 223 318 211 391 221 333 275 371 274 330 112 329 123 358 168 348 213 309 126 340 204 382 215 438 147 357 132 333 188 437 134 363 233 364 255 412 174 368 127 325 134 350 212 432 97 351 194 327 189 327 180 348 153 404 223 385 193 286 220 399 128 385 158 329 162 314 208 342 213 410 161 380 179 422 295 392 152 341 174 436 210 365 199 410 229 434 136 365 271 359 177 374 179 396 245 312 291 369 253 324 144 360 179 390 112 341 160 347 157 363 149 323 259 300 165 298 270 368 257 343 214 336 151 368 259 412 155 356 181 318 105 324 228 303 293 347 178 392 274 384 133 347 144 318 228 416 124 324 219 312 169 322 120 354 258 409 225 422 250 372 210 416 284 392 231 321 224 308 246 352 129 414 174 397 128 402 211 399 109 357 177 358 238 331 146 420 128 348 234 328 166 405 176 443 206 436 213 366 142 377 193 429 108 368 224 390 145 337 81 375 186 332 201 414 117 388 230 392 97 361 195 308 209 346 256 317 204 352 149 417 111 392 212 331 171 425 260 406 201 394 149 358 208 381 261 369 180 347 245 416 195 330 168 419 174 367 148 379 285 361 216 379 228 306 156 314 253 369 202 406 117 368 208 393 163 430 210 297 284 345 182 311 121 411 294 392 276 339 190 399 181 360 223 327 208 354 240 316 136 416 282 336 173 328 180 428 220 400 282 353 125 409 170 403 214 339 174 308 245 420 193 386 227 330 138 374 221 317 129 352 273 406 116 330 156 293 190 360 105 340 241 421 263 372 191 424 209 315 184 428 257 387 253 374 214 335 125 364 259 316 129 337 124 395 145 317 237 353 224 323 88 379 188 312 197 412 211 366 224 363 173 330 232 352 132 405 259 335 235 344 194 334 249 362 166 399 142 357 134 379 208 338 204 412 154 361 200 355 194 446 122 356 147 337 190 376 180 308 248 329 134 334 210 425 209 378 214 369 224 416 273 356 150 395 291 377 268 386 189 379 283 348 186 429 272 389 102 323 181 348 219 400 177 371 261 327 184 373 194 388 208 360 215 440 222 338 99 368 256 322 184 357 175 427 266 358 165 433 121 343 142 391 226 326 174 376 108 348" fill="none" stroke="none" marker-start="url(#k8)" marker-mid="url(#k8)" marker-end="url(#k8)"/>
<path d="M138 416 182 340 203 381 187 356 259 326 176 320 248 416 174 416 192 417 119 362 175 378 176 327 116 343 113 361 128 412 235 335 214 327 255 337 206 307 218 312 172 410 126 381 147 367 258 374 169 301 160 316 173 388 251 365 157 298 246 312 258 320 238 360 184 295 144 338 159 384 192 372 268 322 171 342 232 334 198 327 277 363 196 346 193 430 267 396 176 302 207 335 139 419 220 387 258 366 140 349 201 383 119 347 229 394 198 308 114 402 263 374 218 412 122 378 223 377 166 355 125 320 260 366 190 402 223 382 187 386 285 362 214 399 231 314 208 293 108 351 262 330 200 310 257 350 202 409 138 388 168 427 106 369 161 327 101 361 266 337 151 302 101 382 254 363 252 362 272 361 208 414 158 408 153 317 175 316 143 314 206 357 286 377 275 378 268 378 211 404 261 418 181 381 233 402 102 335 173 424 274 363 192 323 149 320 194 388 129 387 258 331 216 429 137 406 138 351 281 331 181 346 250 383 128 365 130 367 193 329 251 325 245 418 231 412 208 365 149 296 196 404 148 317 190 346 236 307 245 405 219 385 182 389 179 351 200 367 184 396 129 398 254 313 185 362 154 379 213 417 236 315 202 408 105 375 242 418 294 362 100 368 195 411 161 313 236 388 110 358 171 364 232 347 168 436 128 399 237 301 265 386 218 379 254 311 218 301 263 407 234 382 206 352 245 351 192 343 158 404 214 363 149 420 140 382 150 339 241 403 245 311 122 346 196 380 203 337 216 375 205 390 271 392 104 378 100 361 228 334 124 359 118 383 169 420 189 416 189 394 130 334 220 326 182 417 132 365 189 338 122 406 231 407 157 371 229 341 139 376 152 370 238 399 131 372 107 351 198 380 155 395 187 311 225 322 179 406 118 337 287 390 212 371 210 386 177 400 252 366 264 325 160 364 155 376 103 352 130 369 182 429 128 329 253 417 199 316 261 371 206 377 195 427 206 372 119 370 188 382 148 379 145 357 199 296 204 387 270 325 141 394 215 375 272 385 214 367 235 371 156 354 229 304 168 313 220 432 201 364 161 307 264 311 217 356 154 381 182 342 137 319 207 330 245 353 147 398 269 326 127 386 145 309 145 379 201 370 187 396 277 358 239 417 171 348 271 388 142 360 230 371 171 379 168 433 263 322 198 304 262 359 226 354 151 395 275 333 189 338 268 346 131 376 169 413 203 384 197 400 262 371 273 327 262 332 178 406 165 382 178 402 136 372 136 363 283 347 194 397 193 345 202 317 177 356 196 414 272 375 258 381 178 376 137 371 213 399 215 357 204 388 210 335 125 398 166 388 224 415 180 364 192 350 275 361 171 377 178 406 262 340 218 377 280 354 207 387 147 419 207 343 195 333 276 328 168 348 142 310 243 340 249 343 191 401 177 303 221 296 113 331 167 367 186 312 154 316 212 342 169 312 123 392 262 339 192 383 207 411 141 338 189 376 274 400 100 352 203 364 159 401 164 323 180 354 225 316 192 377 129 393 173 345 166 312 135 329 226 417 168 398 145 338 179 420 263 395 117 370 254 348 110 333 262 402 125 324 140 418" fill="none" stroke="none" marker-start="url(#k9)" marker-mid="url(#k9)" marker-end="url(#k9)"/>
<path d="M229 413 121 397 226 299 211 388 157 331 172 350 180 380 227 346 189 426 196 359 160 372 204 300 229 325 283 377 190 432 180 318 266 375 179 406 175 342 115 372 256 318 116 403 239 403 129 321 255 331 149 371 175 367 138 388 247 399 148 309 204 318 236 367 236 369 233 363 178 402 183 329 267 316 223 301 110 377 235 382 253 366 278 359 188 303 265 381 285 381 191 399 200 370 121 378 153 334 234 407 179 301 239 383 136 377 252 368 213 416 186 309 253 314 165 403 126 362 166 312 159 316 156 311 173 323 137 308 210 338 193 369 144 326 186 421 130 386 193 354 199 332 188 313 228 338 163 329 216 374 182 410 126 346 205 372 149 332 239 318 237 358 211 427 210 331 176 333 261 314 159 379 121 326 212 412 225 415 130 397 111 355 151 335 195 388 168 380 161 417 187 386 265 354 140 408 128 398 131 352 143 326 143 315 131 388 183 359 279 361 131 355 166 346 179 301 220 332 244 365 127 395 199 315 202 305 236 349 113 350 261 343 159 384 184 317 232 302 120 358 151 413 146 350 209 304 223 404 170 346 148 345 253 317 204 408 177 326 139 369 166 303 169 360 113 380 200 302 211 319 213 385 119 348 169 309 160 362 185 352 257 369 228 348 253 384 240 334 143 345 232 312 128 312 142 399 243 414 195 409 202 330 242 311 111 357 162 422 263 331 172 312 223 306 148 376 113 371 275 336 103 383 273 364 120 334 194 358 174 364 155 421 215 380 194 415 225 407 176 352 162 310 124 359 171 404 217 293 249 318 222 412 224 386 121 381 160 334 182 426 275 381 182 417 228 396 174 396 132 347 232 397 208 388 176 310 204 351 123 406 225 338 231 311 184 304 220 333 204 367 259 397 138 359 101 375 229 303 106 370 120 338 194 342 266 361 162 302 265 367 255 374 240 310 195 309 201 412 130 322 179 377 262 347 172 311 247 335 200 353 246 327 250 322 142 348 135 403 232 304 218 334 255 404 154 334 186 358 105 370 133 335 186 342 212 335 131 316 186 308 187 349 175 355 131 348 209 316 255 355 226 409 234 343 162 365 218 301 226 391 247 367 249 399 229 322 254 316 147 402 154 349 261 402 201 323 212 368 260 339 232 309 127 327 258 331 164 411 265 357 167 334 280 383 110 361 238 327 163 366 257 385 175 392 280 353 175 427 190 304 212 397 113 334 174 328 148 320 119 402 182 412 162 400 231 428 190 315 132 384 165 319 172 417 129 370 218 327 162 352 110 373 122 357 273 330 220 317 211 340 205 290 130 366 139 406 146 349 170 309 216 379 216 428 217 410 283 376 201 419 193 297 235 407 135 342 207 345 215 308 162 352 115 408 110 329 146 377 145 357 126 395 174 350 193 296 171 418 221 354 205 351 251 415 231 303 238 309 270 394 127 323 124 406 218 386 246 346 117 358 131 361 282 386 186 294 233 392 159 343 216 329 202 433 172 424 122 402 200 349 223 405 246 314 171 422 278 354 203 389 201 431 219 317 219 373 213 359 169 362 131 408 233 386 168 330 190 415 233 349 189 367 249 386 243 322 182 321 223 383" fill="none" stroke="none" marker-start="url(#k10)" marker-mid="url(#k10)" marker-end="url(#k10)"/>
<path d="M208 385 212 384 163 366 277 366 227 359 149 351 132 355 119 368 253 368 261 374 103 347 203 359 257 369 270 394 113 371 191 407 158 319 160 321 250 414 135 316 150 349 231 383 194 414 262 315 156 345 258 408 189 363 191 299 143 311 133 398 127 351 193 391 201 339 254 345 151 306 173 416 156 333 277 358 196 326 232 355 156 373 275 387 211 381 132 350 163 340 240 332 131 412 154 377 257 412 136 322 172 376 228 396 156 412 229 414 198 357 171 360 229 399 266 359 107 337 248 305 211 339 203 368 218 417 263 390 252 311 130 340 179 404 259 420 129 360 119 355 220 421 216 395 194 377 227 309 230 420 197 375 125 331 116 369 130 374 211 315 246 325 204 403 189 417 139 325 265 332 115 332 170 303 228 379 214 343 154 339 196 399 168 333 199 381 168 313 245 332 181 368 153 419 197 339 151 341 110 342 246 394 247 359 182 410 279 380 181 424 235 404 193 370 264 371 176 393 258 406 162 385 244 416 227 402 127 333 183 322 215 373 242 357 126 365 286 388 196 401 267 342 122 334 216 298 261 355 257 394 147 417 191 347 235 312 180 376 216 296 149 334 249 403 178 377 164 355 195 433 157 429 201 322 135 330 281 332 256 339 286 387 175 369 153 408 254 395 250 352 196 388 268 409 176 371 161 394 255 351 243 366 232 325 247 406 161 313 112 349 149 367 211 339 122 339 105 342 194 356 258 307 159 433 143 342 211 402 130 396 176 293 219 318 132 412 154 356 282 337 136 316 162 410 236 346 152 346 182 330 149 382 118 334 246 325 261 329 119 319 168 305 152 413 167 299 162 370 158 422 275 380 216 375 170 372 202 296 270 317 259 368 251 345 174 324 173 305 190 410 264 339 174 415 145 383 129 315 106 381 111 367 187 309 231 382 174 429 266 348 215 391 158 417 190 431 176 383 147 401 250 359 154 359 243 354 221 401 213 324 169 343 157 302 190 319 246 330 237 403 140 334 221 409 188 317 147 372 228 352 201 309 167 320 249 305 162 393 150 323 108 360 214 378 188 347 289 339 241 398 158 354 151 415 219 419 155 384 205 379 244 323 246 386 130 335 262 398 279 390 236 326 116 398 183 338 268 360 118 322 231 344 130 319 278 371 100 350 121 319 230 308 275 398 189 335 121 401 215 295 199 342 143 348 135 351 242 337 207 422 189 316 246 319 271 390 249 361 192 333 126 320 154 411 190 292 272 369 200 406 164 403 184 411 189 339 132 369 165 428 209 298 263 405 212 411 207 302 216 391 181 355 176 348 234 320 149 365 215 399 189 347 201 299 170 355 177 397 266 333 279 365 208 375 165 291 154 416 182 307 195 387 229 352 276 380 116 331 229 377 170 298 109 388 250 413 195 296 247 405 193 389 166 412 172 410 264 354 225 351 147 358 217 413 126 338 199 408 232 343 242 373 138 333 226 423 113 354 274 375 137 417 239 362 129 336 152 421 186 303 275 320 239 423 112 351 108 359 239 413 149 368 199 356 201 341 237 398 187 359 134 317 277 319 138 375 177 297 172 378 199 338 207 421 260 317 147 332 279 338" fill="none" stroke="none" marker-start="url(#k11)" marker-mid="url(#k11)" marker-end="url(#k11)"/>
<path d="M136 378 203 400 187 320 220 367 263 393 222 370 193 368 196 362 247 415 196 360 206 379 108 336 199 359 260 410 187 355 140 363 195 358 202 353 262 381 188 380 216 299 197 350 180 421 204 369 150 398 266 384 193 363 248 390 132 405 231 356 222 399 223 364 194 364 198 361 185 374 220 311 230 319 217 362 227 427 140 336 197 331 210 361 192 363 203 388 195 323 199 360 195 361 175 352 221 325 201 362 150 362 218 352 194 364 191 413 122 379 194 362 195 365 164 346 193 367 222 397 170 356 172 356 268 385 216 367 219 363 194 362 198 358 248 365 281 335 167 375 190 365 192 378 274 381 211 350 214 410 196 345 189 388 192 361 203 357 239 424 173 359 186 351 161 380 234 384 193 362 129 340 216 346 187 362 136 313 208 347 159 373 194 364 175 332 178 386 196 357 193 362 198 372 171 418 184 353 115 356 205 325 195 367 189 353 194 362 193 336 194 362 224 316 207 367 284 359 243 339 197 371 183 374 150 359 175 351 205 385 186 366 221 356 141 375 174 379 176 368 234 379 150 339 168 309 185 357 270 361 197 387 191 391 192 364 213 422 233 330 184 365 119 361 200 370 182 375 190 362 165 363 190 378 145 306 194 362 234 379 192 367 183 375 193 389 216 401 171 334 187 340 200 375 191 341 123 358 191 360 200 356 206 360 171 367 181 374 165 355 193 363 182 325 197 362 202 362 210 333 136 339 118 376 193 365 170 348 202 380 191 362 199 370 190 377 133 322 121 393 274 326 146 349 194 361 159 355 180 350 158 322 274 347 193 362 190 366 199 369 238 337 160 300 194 362 278 352 212 356 188 359 197 357 130 384 191 369 261 391 193 364 230 346 163 351 188 371 182 355 155 402 192 344 195 363 201 347 185 374 192 366 225 389 194 362 194 362 192 366 172 383 176 362 124 395 243 376 201 362 194 362 183 396 179 314 221 371 179 358 213 376 180 367 197 361 189 361 233 364 176 374 219 414 214 342 194 362 213 417 236 328 142 349 203 353 184 325 248 383 221 371 279 340 167 363 216 364 149 357 260 380 282 360 194 364 211 338 182 346 216 392 177 378 200 362 190 388 149 379 182 364 165 361 206 363 195 362 193 372 215 354 232 381 213 340 200 357 187 367 233 338 194 371 269 357 221 358 221 349 183 353 202 353 205 376 207 365 183 331 194 361 181 364 258 346 194 362 189 374 193 364 194 360 190 363 266 333 192 361 136 392 274 359 212 346 188 358 183 383 121 328 268 387 194 362 189 364 157 316 176 389 170 307 226 361 197 374 211 375 209 363 161 342 197 344 191 364 168 401 195 363 155 345 199 314 238 366 228 411 199 376 218 370 285 357 192 363 190 348 157 325 213 404 210 318 189 365 237 421 194 362 189 365 184 338 146 373 244 384 194 362 200 364 194 362 197 364 197 362 147 419 222 340 259 341 200 365 202 317 188 358 153 379 160 375 189 361 195 365 257 339 209 346 199 377 234 372 184 380 213 425 195 374 192 359 210 368 143 331 198 367 190 382 182 350 193 374 196 369 193 365 191 373 214 372 150 382 265 372 227 358 192 361 223 412 182 400 202 363 188 374 256 352 280 354 204 353 274 353 194 363 281 341 177 357 189 346 191 366 194 362 153 333 191 365 204 393 177 333 164 404 184 345 199 364 107 354 211 355 182 375 187 368 214 364 191 390 207 368 170 323 149 341 206 378 203 392 179 359 206 339 207 364 162 349 194 300 223 356 230 369 196 380 223 357 207 354 269 377 194 362 185 353 213 371 183 368 234 324 266 381 115 390 290 359 198 349 194 363 232 324 195 362 270 334 188 370 199 355 186 354 194 357 159 314 186 358 193 360 195 362 170 390 194 361 169 399 265 362 195 362 183 349 186 373 186 339 196 388 182 356 251 406 262 319 206 359 194 362 189 367 189 368 201 377 212 362 224 391 194 362 166 363 194 362 122 406 188 363 202 314 231 359 255 353 276 364 179 416 277 338 240 328 191 375 182 306 195 362 194 362 193 363 191 362 274 391 195 367 202 351 158 318 197 360 178 342 177 358 169 376 185 332 191 363 194 362 159 383 203 426 197 360 205 362 181 331 183 362 224 368 188 391 249 346 167 341 112 379 169 339 161 345 193 362 228 387 164 304 196 359 241 336 249 388 147 418 161 358 186 371 200 367 194 417 275 343 204 340 198 362 194 362 119 356 150 363 181 366 260 399 194 359 230 369 237 420 194 363 193 362 220 307 138 324 203 355 220 354 137 363 194 368 177 357 177 326 183 339 192 363 194 408 203 365 202 368 202 364 194 361 241 363 174 330 133 372 245 339 206 366 193 362 105 336 142 337 199 373 196 386 181 344 193 368 134 372 193 362 171 341 216 369 229 319 153 300 187 362 264 332 198 359 172 387 200 361 126 356 196 363 106 341 210 372 195 364 255 358 168 367 203 363 126 390 199 363 198 366 102 344 194 362 207 357 193 361 234 302 196 349 175 377 183 360 195 361 186 371 241 308 244 343 182 412 186 307 194 362 194 362 198 361 245 386 158 374 233 398 136 348 194 362 243 398 200 398 114 362 253 413 195 363 182 422 232 373 271 363 234 365 206 361 168 354 124 378 154 314 187 360 205 331 199 395 205 402 249 355 225 360 178 381 203 373 238 342 224 333 175 353 186 360 194 362 183 372 214 375 172 375 157 321 131 316 249 314 211 379 193 361 190 361 205 370 194 362 222 373 105 371 192 357 208 371 205 372 190 360 101 366 243 350 256 340 187 367 165 304 106 360 194 362 195 362 286 379 192 360 204 431 194 382 227 336 204 370 191 354 180 354 140 372 249 362 189 354 142 369 184 362 188 365 194 362 247 335 136 376 197 356 197 364 148 372 243 302 214 419 202 363 192 330 152 356 196 361 198 348 127 374 276 362 222 353 207 342 176 362 116 348 186 332 192 364 193 363 195 363 194 362 184 375 192 361 189 357 194 362 200 370 191 360 169 334 232 312 194 362 175 320 167 368 214 353 193 361 233 368 186 374 208 368 199 362 194 362 226 368 200 343 257 355 167 400 176 330 245 341 197 376 232 355 165 363 243 311 195 362 139 380 222 383 157 327 196 361 198 364 195 350 199 366 147 351 229 405 187 352 246 363 182 337 243 418 234 316 197 361 176 336 194 362 196 361 151 357 202 368 188 358 210 342 194 362 193 334 265 347 193 357 190 364 160 385 198 365 184 298 194 362 193 337 202 370 253 309 146 352 187 365 179 302 180 364 193 361 183 387 192 363 195 361 189 333 170 424 196 353 219 354 256 335 176 357 242 314 181 330 126 391 196 363 230 374 176 387 197 325 232 339 264 351 184 360 151 384 201 365 161 345 208 352 202 392 207 360 190 359 204 365 174 356 200 408 196 371 191 363 225 329 165 368 147 326 203 385 178 371 204 386 197 425 121 377 195 360 141 419 164 398 247 354 164 297 195 363 165 354 153 369 143 354 195 361 206 361 154 412 217 376 212 362 196 383 193 357 240 377 198 340 210 388 178 368 192 359 197 359 157 361 135 392 189 364 201 370 143 338 190 373 149 318 266 365 109 352 200 340 253 385 188 321 257 374 206 322 218 353 192 363 243 305 193 362 201 364 204 334 192 362 219 308 194 363 185 359 239 359 194 362 197 364 161 366 241 354 196 385 211 384 250 362 194 362 232 381 194 363 222 354 189 356 153 320 228 354 266 373 215 359 198 354 161 375 197 365 256 372 208 374 172 360 190 340 208 343 198 363 248 367 277 350 196 363 250 354 223 340 181 374 224 421 181 374 177 419 192 363 192 358 226 387 146 346 153 318 132 363 156 398 196 371 166 388 210 382 198 363 178 379 196 362 232 401 196 380 213 330 162 331 247 348 196 323 187 377 193 362 192 354 194 362 187 400 166 340 194 362 252 387 246 350 228 368 245 408 207 355 129 384 270 358 203 376 171 361 186 391 197 362 187 387 158 390 193 364 184 359 200 335 204 363 193 359 233 372 162 374 197 380 190 364 199 366 266 399 185 383 217 351 193 345 176 344 190 371 200 295 174 372 230 342 232 354 216 373 223 366 200 421 194 362 198 417 208 365 199 337 189 338 151 342 155 401 216 340 227 346 209 387 140 386 252 320 152 357 195 365 224 341 191 380 143 384 139 365 192 361 196 363 144 303 203 312 225 366 193 359 195 365 194 362 212 371 236 355 239 414 109 360 186 362 197 362 237 301 125 360 203 360 186 360 188 292 130 335 273 377" fill="none" stroke="none" marker-start="url(#k12)" marker-mid="url(#k12)" marker-end="url(#k12)"/>
</g>
<line x1="35.6" y1="137" x2="35.6" y2="225" stroke="#909090" stroke-width="1.3"/>
<line x1="158" y1="137" x2="158" y2="225" stroke="#909090" stroke-width="1.3"/>
<line x1="35.6" y1="225" x2="158" y2="225" stroke="#909090" stroke-width="1.3"/>
<polygon points="120,171.6 130.85,171.84 129.2,168.7 145.79,160.01 144.21,156.99 127.63,165.68 125.98,162.54" fill="#000"/>
<line x1="32.5" y1="266.04" x2="159.5" y2="266.04" stroke="#ededed" stroke-width="0.7"/>
<line x1="32.5" y1="280.83" x2="159.5" y2="280.83" stroke="#ededed" stroke-width="0.7"/>
<line x1="32.5" y1="295.62" x2="159.5" y2="295.62" stroke="#ededed" stroke-width="0.7"/>
<line x1="32.5" y1="310.42" x2="159.5" y2="310.42" stroke="#ededed" stroke-width="0.7"/>
<line x1="32.5" y1="325.21" x2="159.5" y2="325.21" stroke="#ededed" stroke-width="0.7"/>
<line x1="53.67" y1="251.25" x2="53.67" y2="340" stroke="#ededed" stroke-width="0.7"/>
<line x1="74.83" y1="251.25" x2="74.83" y2="340" stroke="#ededed" stroke-width="0.7"/>
<line x1="96" y1="251.25" x2="96" y2="340" stroke="#ededed" stroke-width="0.7"/>
<line x1="117.17" y1="251.25" x2="117.17" y2="340" stroke="#ededed" stroke-width="0.7"/>
<line x1="138.33" y1="251.25" x2="138.33" y2="340" stroke="#ededed" stroke-width="0.7"/>
<text x="31" y="252.55" font-size="4.3" text-anchor="end" fill="#707070">1.5</text>
<text x="31" y="267.34" font-size="4.3" text-anchor="end" fill="#707070">1</text>
<text x="31" y="282.13" font-size="4.3" text-anchor="end" fill="#707070">0.5</text>
<text x="31" y="296.93" font-size="4.3" text-anchor="end" fill="#707070">0</text>
<text x="31" y="311.72" font-size="4.3" text-anchor="end" fill="#707070">-0.5</text>
<text x="31" y="326.51" font-size="4.3" text-anchor="end" fill="#707070">-1</text>
<text x="31" y="341.3" font-size="4.3" text-anchor="end" fill="#707070">-1.5</text>
<text x="32.5" y="345.5" font-size="4.3" text-anchor="middle" fill="#707070">-2.5</text>
<text x="53.67" y="345.5" font-size="4.3" text-anchor="middle" fill="#707070">-2</text>
<text x="74.83" y="345.5" font-size="4.3" text-anchor="middle" fill="#707070">-1.5</text>
<text x="96" y="345.5" font-size="4.3" text-anchor="middle" fill="#707070">-1</text>
<text x="117.17" y="345.5" font-size="4.3" text-anchor="middle" fill="#707070">-0.5</text>
<text x="138.33" y="345.5" font-size="4.3" text-anchor="middle" fill="#707070">0</text>
<text x="159.5" y="345.5" font-size="4.3" text-anchor="middle" fill="#707070">0.5</text>
<g transform="scale(0.5)">
<path d="M100 605 136 639 117 643 216 654 181 635 218 556 175 573 220 543 256 562 196 536 276 554 189 562 193 637 178 615 284 571 125 618 172 559 152 554 217 549 207 609 159 575 173 602 124 576 196 642 135 579 212 552 233 588 195 606 300 610 194 594 91 602 110 621 118 616 260 633 176 651 255 575 173 546 139 542 145 603 177 545 108 580 136 608 138 548 285 583 121 587 96 574 195 639 188 626 95 610 209 564 191 616 224 570 262 554 117 584 186 596 264 606 235 602 150 621 200 615 201 591 280 640 206 578 233 640 114 580 214 572 224 556 159 599 148 639 212 524 214 613 184 602 204 595 158 598 176 597 151 645 116 633 244 572 216 617 156 555 152 569 212 565 207 651 217 662 95 576 184 622 296 581 167 531 199 644 205 618 296 603 102 600 125 623 182 648 98 612 221 612 153 571 237 626 109 552 229 530 202 563 237 649 211 579 231 552 180 556 95 589 165 593 107 603 170 572 113 611 229 632 154 646 219 633 108 596 252 539 205 650 234 585 185 629 280 591 91 573 214 600 210 591 214 616 225 601 221 635 202 635 210 561 147 542 182 533 197 529 151 622 155 595 101 574 229 540 149 575 122 599 103 619 178 566 211 562 250 580 212 591 143 590 186 617 220 651 216 640 158 640 167 540 109 570 289 593 196 548 244 601 144 560 262 565 221 617 118 583 260 539 208 520 186 652 225 642 287 578 125 592 115 567 256 598 281 594 231 526 121 556 217 522 219 644 181 590 168 557 93 564 131 597 170 635 108 605 176 628 159 519 140 618 102 568 208 625 181 634 208 621 123 596 135 583 128 584 175 586 181 619 142 611 141 588 128 571 135 614 257 619 255 630 271 581 93 606 217 552 211 650 202 540 98 574 232 647 235 633 152 548 174 592 242 574 116 563 205 573 220 596 136 550 275 576 130 644 116 578 287 590 156 598 295 606 178 642 231 549 112 579 161 574 271 625 129 537 164 589 264 576 179 531 259 570 244 602 216 555 256 617 194 616 161 581 288 619 239 649 244 564 205 650 173 583 214 557 138 554 230 595 259 558 187 657 204 578 230 602 180 577 285 601 147 561 192 528 216 598 184 593 218 648 105 594 131 568 235 527 159 581 282 608 144 589 220 598 160 562 215 552 170 648 127 586 178 662 134 626 169 524 146 620 100 571 97 600 141 524 144 586 228 579 130 542 242 529 109 621 139 579 208 579 264 550 132 553 265 573 160 523 170 596 261 583 156 603 154 585 179 580 149 651 180 545 153 630 246 590 262 559 194 575 242 577 127 609 208 630 228 599 226 589 141 538 191 660 231 555 244 642 190 566 167 647 207 619 139 638 134 650 275 578 159 646 234 561 98 596 280 603 231 563 99 591 101 615 231 651 256 587 126 631 241 596 233 572 176 623 241 577 119 564 179 631 168 591 219 546 271 568 194 545 225 607 153 565 200 614 199 653 237 639 191 658 223 640 144 617 238 543 205 609 300 591 143 558 221 641 211 585 167 586 140 537 189 663 258 555 240 645 165 652 204 644 177 578 222 546 160 523 151 595 246 577 153 569 140 542 150 537 206 547 210 635 109 548 267 606 197 566 213 636 183 641 140 595 102 613 196 596 160 646 269 552 269 601 158 617 130 585 160 658 168 582 208 614 219 578 176 653 289 615 141 629 240 593 241 546 248 653 229 623 101 604 153 597 132 598 155 628 231 526 161 622 274 604 289 585 274 565 207 614 206 585 278 550 224 555 262 565 94 580 280 559 191 640 211 577 165 618 220 643 119 619 229 611 205 624 259 628 260 566 257 581 98 614 124 647 230 530 130 581 198 522 243 647 271 564 138 549 236 628 119 552 206 613 107 630 230 627 127 554 260 631 263 553 254 575 253 626 244 526 160 654 279 575 240 582 186 587 113 634 289 584 187 639 244 606 156 602 200 636 106 610 172 543 172 625 250 641 173 643 264 562 131 646 282 603 266 543 112 584 201 559 116 612 106 586 241 537 241 597 115 619 132 550 256 556 168 608 177 593 137 588 165 658 181 548 157 563 278 589 125 620 141 551 97 568 93 620 251 590 229 654 122 537 119 639 115 597 138 593 183 545 145 546 144 603 219 555 185 529 118 615 210 554 195 561 185 554 229 523 114 623 104 619 270 591 256 599 222 649 152 539 249 569 160 548 155 590 293 606 260 575 130 567 244 629 236 648 132 613 116 550 263 553 254 561 107 567 125 555 167 589 200 634 189 648 195 645 106 571 229 631 246 574 193 658 165 590 203 541 293 572 285 550 227 535 107 550 130 577 242 657 202 529 92 603 201 559 179 522 250 557 125 630 127 631 147 602 103 578 231 616 138 636 282 615 174 574 156 525 265 546 261 561 246 609 261 622 236 602 266 614 257 548 249 594 121 575 125 566 157 586 156 606 239 540 252 593 148 562 123 610 267 630 245 566 197 571 190 574 168 554 233 567 169 606 165 579 162 624 248 639 183 660 234 592 190 658 150 538 254 592 253 628 139 547 189 649 160 655 205 649 203 649 99 571 134 609 169 568 226 582 243 545 251 558 226 551 212 544 111 600 239 625 162 597 273 562 240 565 202 637 299 589 139 569 176 660 270 592 178 610 130 578 249 631 180 615 205 562 177 559 167 552 238 524 190 579 245 591 212 609 157 580 227 598 124 591 199 547 267 621 206 561 178 577 222 540 174 643 179 635 118 588 263 575 272 565 190 596 106 593 249 550 206 543 241 617 148 627 242 598 251 648 249 561 281 591 175 537 103 619 231 601 135 595 194 565 233 645 151 636 172 657 164 622 204 559 219 651 113 599 110 623 144 625 223 638 233 611 170 626 146 590 122 616 241 527 184 592 270 614 250 531 282 556 239 653 252 580 89 584 275 569 265 615 215 528 174 584 267 575 215 658 148 547 144 593" fill="none" stroke="none" marker-start="url(#k6)" marker-mid="url(#k6)" marker-end="url(#k6)"/>
<path d="M272 575 213 600 131 632 200 606 216 569 261 631 139 546 211 609 105 547 221 560 198 560 232 647 176 622 158 530 155 530 176 573 282 606 163 530 264 622 158 578 272 579 271 601 142 551 165 539 262 552 203 523 151 638 257 593 182 661 295 606 278 592 192 532 245 578 170 566 180 606 281 619 174 661 257 541 199 611 157 553 128 535 209 585 219 581 140 533 272 623 272 567 262 620 204 524 224 601 233 615 258 609 282 562 229 615 122 560 190 520 149 540 254 546 148 563 277 603 230 558 201 606 241 528 249 653 219 566 158 568 271 547 185 539 272 564 134 573 189 607 235 598 89 587 167 629 172 604 172 583 236 543 275 608 173 571 157 546 197 660 173 592 139 608 186 545 164 539 129 630 247 598 231 639 157 554 255 644 269 597 99 590 215 543 232 525 238 579 252 599 175 630 185 658 219 551 153 639 285 598 152 638 191 550 248 574 174 631 148 578 218 541 262 608 114 565 101 617 154 589 118 600 95 612 168 640 163 587 262 585 142 545 215 631 164 638 258 569 260 628 236 540 256 601 168 637 129 604 194 597 135 606 202 658 255 595 262 568 267 629 142 539 273 627 256 567 267 614 215 660 141 630 281 625 203 622 242 552 257 623 238 537 280 564 158 574 271 607 223 614 153 571 119 612 160 640 276 632 252 609 97 568 165 583 264 547 178 517 173 602 256 566 277 557 201 579 252 623 253 643 265 622 176 613 209 657 197 585 232 533 123 582 269 555 94 606 250 624 142 608 163 532 218 641 189 591 273 587 140 642 198 580 238 536 220 604 219 640 219 520 217 525 102 609 188 657 195 591 295 576 245 580 216 572 122 577 225 522 134 644 139 640 174 571 150 549 256 607 202 521 217 572 158 587 214 636 155 638 269 611 271 606 172 584 212 525 267 642 249 608 253 544 172 599 263 640 125 600 209 537 134 593 113 557 101 611 182 637 139 554 133 547 170 565 226 596 106 604 137 535 262 568 148 549 146 613 168 579 188 564 88 594 244 625 182 579 128 608 242 596 142 550 221 617 130 571 237 578 182 614 121 634 221 590 145 627 194 594 192 654 121 594 217 638 155 548 182 621 190 566 254 543 204 663 171 606 239 647 132 537 92 582 205 598 236 591 153 571 124 633 179 572 123 578 105 587 171 643 114 614 237 589 118 553 160 523 240 577 137 644 140 551 130 638 242 658 168 562 133 571 158 528 121 643 142 620 157 547 165 569 101 600 121 626 138 650 143 635 264 544 277 603 138 653 205 645 246 609 248 538 140 568 206 558 138 615 243 607 135 629 167 525 205 634 178 529 109 564 219 565 117 589 202 631 247 582 181 554 212 641 200 610 253 563 174 576 239 612 246 553 268 575 156 559 138 546 107 588 254 537 119 633 135 606 166 620 192 540 95 566 174 555 205 618 192 591 185 611 179 568 207 659 196 600 207 592 198 640 231 548 192 647 170 548 217 652 240 646 239 591 156 596 141 588 272 575 108 590 104 629 199 579 117 631 137 638 201 597 188 596 235 556 159 629 177 560 186 643 220 551 199 651 185 631 189 549 201 636 187 565 239 600 227 530 112 593 231 535 262 633 251 531 231 654 146 558 221 607 177 590 126 576 271 591 291 603 240 521 189 576 143 644 283 562 120 553 196 606 215 536 252 541 148 576 131 546 112 545 248 587 196 642 272 590 153 526 253 590 123 571 215 523 286 599 132 585 204 663 287 620 122 550 121 541 258 644 141 541 244 650 155 623 196 660 130 578 217 655 293 603 240 624 217 531 151 589 184 546 134 558 254 551 260 537 155 552 164 555 278 614 129 615 242 638 225 655 285 576 280 584 254 650 201 662 285 557 288 601 143 613 121 583 217 659 146 631 131 595 274 582 132 614 260 634 163 634 239 637 156 634 253 631 229 522 263 608 203 536 268 598 105 570 268 554 134 618 177 584 229 605 217 641 191 603 175 568 287 565 176 603 197 661 183 590 223 626 157 584 181 645 266 566 252 581 194 628 207 654 136 644 168 569 227 656 254 560 153 613 185 532 179 560 227 590 287 610 200 585 108 587 170 562 213 525 174 660 156 641 268 548 241 574 235 531 287 554 287 576 120 633 191 584 189 597 204 647 277 609 198 545 252 541 156 597 242 640 154 605 139 553 215 635 148 620 217 589 279 559 262 601 110 633 151 543 125 646 172 633 123 548 158 607 241 551 284 587 155 602 127 546 100 588 171 636 182 565 281 610 180 639 163 569 159 659 181 553 290 592 127 606 203 572 206 590 139 589 300 585 273 629 108 613 196 557 223 629 127 598 205 555 194 650 255 633 187 583 147 594 153 594 256 586 202 578 120 584 97 619 186 595 246 654 249 547 195 629 204 655 267 577 215 569 218 549 218 561 198 583 278 577 261 636 284 583 136 628 183 594 211 580 225 525 285 616 236 571 246 583 182 539 243 557 211 554 279 560 270 573 218 594 261 573 240 583 130 604 124 612 112 625 140 569 148 524 131 549 140 608 181 618 190 661 184 649 211 649 184 626 293 584 239 593 181 562 159 591 218 609 116 571 277 629 164 609 147 565 270 546 246 590 148 592 146 627 279 612 188 645 212 648 213 552 148 585 128 597 102 616 255 627 155 603 229 640 244 559 240 575 96 578 179 622 212 647 147 528 190 527 180 619 168 573 136 537 149 606 140 620 233 619 231 656 165 553 108 625 267 539 279 566 271 574 196 635 170 527 125 597 188 641 164 607 175 568 256 584 171 551 172 548 249 624 165 575 148 585 226 539 241 606 105 625 191 525 252 642 200 643 286 602 100 585 201 596 114 573 92 605 211 637 240 641 209 553 191 524 93 590 179 537 125 597 93 600 119 635 240 648 142 553 161 601 245 567 157 647 220 570 294 593 183 546 221 581 254 631 203 542 121 580" fill="none" stroke="none" marker-start="url(#k7)" marker-mid="url(#k7)" marker-end="url(#k7)"/>
<path d="M234 568 165 519 157 584 111 610 152 574 159 563 218 565 95 579 149 526 197 523 254 615 179 610 149 595 159 629 165 525 211 618 249 575 151 600 205 605 254 539 223 547 227 555 131 538 161 592 115 581 261 552 273 593 236 621 205 620 106 601 91 588 137 599 182 636 251 614 255 636 275 580 211 611 280 578 294 608 240 572 184 640 107 592 249 640 159 611 140 574 148 635 143 624 113 552 184 539 226 635 267 558 129 632 137 591 228 540 227 527 286 591 184 637 257 618 261 537 250 626 213 620 144 613 256 620 178 601 256 612 122 633 151 639 95 607 186 567 248 576 223 634 189 556 167 590 205 615 259 549 257 566 151 569 222 524 107 565 195 666 162 610 296 592 184 525 250 566 236 555 118 641 257 582 231 595 197 577 122 586 203 630 189 576 241 526 244 632 211 558 194 594 259 625 162 579 232 543 197 626 230 570 115 623 224 600 210 577 235 538 108 602 233 587 265 602 178 596 155 573 234 610 112 582 191 635 144 634 204 584 94 568 184 577 149 535 184 595 127 646 261 619 212 650 123 643 250 647 213 621 200 568 150 610 275 589 283 569 128 618 226 576 172 535 291 567 202 614 271 614 180 638 130 616 248 641 149 622 91 602 201 563 220 592 101 578 278 553 120 567 204 527 254 543 110 574 279 587 258 599 178 627 164 648 246 549 213 604 104 602 192 528 123 617 100 590 269 558 154 611 148 560 280 597 223 604 167 537 265 636 213 610 141 573 151 567 200 598 194 604 109 548 227 621 192 541 186 641 225 616 241 627 226 579 234 635 116 595 245 555 119 558 117 576 130 618 138 534 239 632 152 569 189 539 165 575 273 593 151 538 121 550 177 555 246 567 193 610 140 594 250 611 294 602 104 575 186 581 171 589 273 602 111 632 127 593 256 600 222 635 197 527 170 535 222 651 158 558 205 522 125 554 201 610 235 535 282 565 96 595 268 619 227 547 138 628 162 656 111 558 133 546 168 526 110 618 263 637 248 576 218 583 223 553 199 557 150 641 174 609 96 602 150 598 253 650 275 553 137 546 102 616 200 650 169 536 289 590 172 557 204 615 128 547 250 638 196 565 144 531 275 547 223 632 225 568 163 653 262 622 184 529 153 612 213 536 120 631 106 612 145 550 254 649 237 619 230 576 90 575 137 569 155 588 145 627 102 622 247 577 157 568 139 617 198 652 190 598 171 654 189 572 244 561 172 654 170 532 133 550 167 559 227 633 134 533 207 611 108 552 173 644 105 584 237 599 161 601 232 597 231 630 252 538 253 530 179 654 206 648 271 627 144 578 228 582 149 628 213 553 279 589 233 548 125 614 174 644 271 572 133 612 219 544 238 591 185 556 245 557 165 614 206 600 195 663 159 545 264 579 276 559 240 573 295 587 197 607 136 601 264 581 222 590 255 639 189 577 214 642 120 580 221 650 228 643 184 521 183 658 113 602 136 551 147 578 272 563 113 629 162 621 176 649 136 615 170 520 99 595 204 586 265 538 200 536 272 615 124 640 230 611 153 528 215 563 212 657 184 537 200 627 195 525 126 552 196 561 177 538 164 614 239 557 236 523 177 651 196 599 89 572 239 536 184 630 234 626 204 590 144 604 222 532 104 607 166 659 132 598 276 565 209 536 177 584 218 559 142 623 228 637 195 652 226 641 101 580 173 639 223 651 141 560 163 620 196 519 148 580 277 553 119 622 127 548 220 542 185 623 119 594 212 629 154 562 176 559 290 616 99 620 145 604 234 590 157 548 144 641 269 578 131 614 141 579 176 600 91 598 251 568 172 607 211 580 218 523 262 619 242 561 256 614 202 562 205 660 173 570 279 596 237 577 129 535 95 564 103 603 165 610 193 644 123 606 150 642 206 583 210 659 210 530 241 595 253 598 266 573 156 604 115 575 100 574 145 653 132 580 125 571 215 540 228 612 289 599 277 606 154 625 203 569 202 525 138 587 180 605 204 621 192 582 173 537 175 636 242 648 257 620 110 628 197 550 258 619 141 606 132 573 168 643 179 604 247 574 191 653 195 532 231 601 210 534 278 562 176 537 173 562 218 649 203 537 176 618 229 625 198 567 269 599 247 559 221 635 272 599 96 567 221 641 225 612 169 638 168 576 111 628 185 630 223 580 283 572 146 640 135 589 149 623 286 610 294 588 222 584 206 603 131 617 241 590 133 569 222 563 261 547 183 617 95 589 176 636 128 535 238 633 293 611 148 583 156 641 187 613 194 535 135 606 182 591 134 560 208 591 218 546 253 619 119 616 179 592 233 535 238 524 271 555 95 589 246 536 249 651 127 588 275 555 102 619 237 533 234 555 177 654 114 572 271 558 96 575 114 612 229 529 165 527 245 544 197 533 230 554 139 598 237 589 256 589 109 632 282 572 143 613 282 583 239 568 190 581 236 548 141 641 172 623 203 623 231 542 117 564 129 544 187 590 260 547 131 563 213 547 201 575 245 601 229 592 282 576 119 600 282 596 266 567 126 607 190 630 273 628 127 623 208 577 209 566 274 569 140 571 226 535 270 620 191 525 237 554 187 659 211 582 125 555 190 525 235 573 230 570 162 550 275 574 179 542 238 557 138 580 237 605 114 551 225 597 167 521 177 541 236 652 122 604 97 576 215 549 171 633 272 576 202 585 193 629 126 569 244 567 233 650 140 641 117 579 216 625 148 531 150 636 143 631 186 650 204 564 204 522 135 534 110 599 232 651 273 564 183 592 256 628 224 629 134 643 247 647 241 553 181 549 120 593 210 568 122 561 256 624 148 606 220 562 165 541 158 532 132 535 162 582 286 557 268 541 193 526 261 623 267 621 230 539 193 576 123 636 210 576 190 613 271 611 164 552 228 569 120 582 179 574 258 586 287 566 184 601 173 610 246 564 294 590 216 579 202 563 136 614" fill="none" stroke="none" marker-start="url(#k8)" marker-mid="url(#k8)" marker-end="url(#k8)"/>
<path d="M272 598 265 563 229 585 218 551 245 612 204 608 243 588 217 601 217 569 221 611 181 534 227 616 162 638 241 590 187 595 209 634 122 579 179 538 209 575 142 590 160 630 134 556 124 616 183 616 145 592 114 596 193 550 127 563 263 583 174 569 144 556 251 551 193 625 220 558 161 637 128 565 171 636 199 570 196 610 119 606 152 543 192 543 143 543 226 639 246 554 186 633 230 637 175 622 172 554 145 552 211 605 197 552 253 613 195 559 156 641 171 607 164 543 155 537 240 606 130 557 159 625 199 630 134 598 240 606 191 551 172 619 142 558 270 580 146 568 229 577 212 584 196 635 166 634 195 575 128 613 163 624 195 555 245 553 275 580 242 609 195 600 162 605 136 602 145 602 169 615 170 582 157 566 122 620 130 583 235 623 205 538 233 565 193 537 189 566 142 566 225 600 192 575 234 566 201 580 221 634 133 622 212 592 257 607 256 581 182 534 213 564 126 585 255 559 135 562 181 610 259 567 242 608 168 639 243 613 258 614 229 642 161 573 165 569 244 565 225 630 132 599 188 606 159 638 232 576 217 578 147 608 144 638 130 553 168 601 220 636 156 587 192 579 206 569 215 596 213 589 209 562 168 597 218 593 176 534 229 572 247 576 196 566 160 606 171 639 247 549 123 577 119 601 209 636 275 590 131 610 247 596 157 619 233 625 230 551 118 579 188 644 249 585 231 600 223 626 126 619 239 597 138 628 240 638 225 633 127 559 229 539 154 539 126 599 144 636 232 575 172 584 171 624 177 544 264 596 219 534 162 639 250 585 182 572 129 608 273 596 135 572 225 562 223 540 209 543 117 604 233 624 153 616 181 572 184 619 137 622 187 541 187 625 179 597 170 627 270 583 150 545 144 589 225 550 132 585 199 572 113 592 146 548 126 561 177 581 155 552 141 562 216 606 201 615 149 570 155 556 132 611 218 629 204 534 175 623 157 610 211 631 256 567 207 591 198 580 216 577 250 560 196 587 174 603 183 628 191 625 166 569 245 592 184 619 145 564 133 610 150 569 137 584 193 557 143 626 177 618 118 613 228 620 212 643 164 627 207 595 165 553 183 550 134 622 264 620 135 551 170 647 130 607 173 596 153 593 258 583 202 576 261 590 171 606 221 634 192 564 190 607 197 611 155 619 266 603 116 613 147 604 221 637 155 589 174 609 200 562 232 570 207 533 132 628 159 610 225 566 132 564 260 605 160 594 222 596 220 615 219 633 204 555 192 552 268 574 260 616 166 584 241 560 177 554 218 614 133 597 267 570 213 551 190 538 163 604 197 531 200 548 128 618 211 581 170 609 181 640 183 601 165 564 196 650 195 575 212 629 248 591 227 565 160 563 204 617 226 625 243 569 194 596 228 602 274 577 235 602 187 628 158 596 248 618 136 550 180 615 222 606 174 541 200 538 177 606 143 618 200 550 190 568 161 557 177 591 204 619 208 638 132 575 154 577 117 573 157 617 243 618 143 620 277 598 220 578 214 583 242 611 206 566 203 639 168 594 204 647 203 558 148 598 209 538 182 555 222 606 175 605 178 643 268 612 245 635 260 567 164 605 168 578 220 646 205 573 132 596 191 621 136 563 141 633 234 582 119 611 117 571 201 570 244 580 188 619 239 599 121 587 193 552 181 585 197 633 185 613 275 592 255 583 203 546 201 587 154 612 261 571 271 578 217 626 250 595 131 602 166 577 195 633 234 565 218 543 208 559 152 578 162 644 216 617 242 557 190 625 218 572 258 562 188 587 157 640 181 609 191 564 249 589 146 636 225 564 200 554 164 597 161 566 193 643 183 539 231 634 267 565 185 536 163 576 241 545 177 642 226 540 149 632 207 593 201 572 220 546 146 576 146 630 274 597 246 619 166 549 232 588 207 572 196 579 188 574 219 542 188 554 208 631 151 608 181 562 235 565 234 559 109 580 209 558 147 568 209 609 265 560 175 535 122 612 189 612 174 621 159 555 187 549 230 601 156 581 127 616 260 620 123 596 199 594 233 574 123 595 137 571 175 535 140 591 267 584 221 638 143 625 159 632 183 584 192 577 244 559 208 591 268 573 244 604 131 572 177 608 189 554 120 605 209 582 200 603 203 601 134 557 161 565 264 608 166 571 194 551 244 563 195 607 159 555 242 609 200 641 226 610 228 630 137 558 181 540 194 578 164 610 237 607 197 615 198 639 228 594 232 618 249 551 145 614 204 645 197 648 145 601 196 647 192 630 260 575 228 539 191 562 148 555 147 600 146 557 216 590 228 563 257 612 224 562 141 555 177 588 239 617 143 634 130 628 164 578 193 643 219 619 199 615 258 622 120 586 211 637 271 584 161 598 221 615 188 571 129 566 186 625 188 644 113 598 209 573 264 609 209 596 139 633 141 619 197 615 176 559 174 543 214 616 128 569 212 582 247 583 153 582 189 587 170 600 185 619 212 570 140 551 135 576 158 614 206 648 186 625 146 571 208 568 209 646 167 599 261 600 229 548 213 612 179 638 212 640 153 619 148 554 179 639 225 545 238 633 147 584 181 642 253 558 170 542 188 540 216 590 179 647 218 542 216 605 257 601 150 614 209 551 129 626 193 624 183 594 145 623 169 572 198 638 249 623 140 615 164 567 230 561 137 571 231 619 199 640 203 552 117 586 239 608 167 536 220 554 139 556 140 585 152 636 193 570 143 637 117 616" fill="none" stroke="none" marker-start="url(#k9)" marker-mid="url(#k9)" marker-end="url(#k9)"/>
<path d="M242 574 239 623 224 565 156 566 222 582 161 554 169 614 253 617 167 598 206 605 207 563 202 621 183 592 180 593 191 615 234 578 233 588 192 538 127 578 182 620 164 594 257 600 219 605 145 613 206 646 177 633 205 614 250 565 134 615 205 584 119 610 213 617 178 572 153 633 214 575 136 571 212 562 197 631 208 552 149 593 210 642 248 609 148 594 165 555 209 599 176 539 216 548 264 614 158 614 252 578 189 568 140 591 178 619 227 611 207 554 201 546 249 624 224 618 163 558 257 611 233 549 259 562 210 611 201 583 242 595 158 575 174 645 256 611 138 571 237 591 196 607 207 536 143 596 210 600 248 606 143 554 207 543 185 613 230 552 190 633 219 582 239 554 238 545 200 604 251 567 188 563 238 622 159 568 189 605 231 577 251 576 144 547 154 616 174 566 129 557 119 567 260 596 252 634 152 596 169 644 140 631 170 635 173 605 135 603 137 558 153 586 235 604 264 601 138 629 226 546 256 625 219 574 192 604 197 618 236 620 211 600 167 614 208 538 196 552 135 567 152 637 155 613 195 598 158 605 218 545 184 610 181 542 191 594 189 553 211 548 264 586 217 577 268 581 156 586 162 562 217 577 189 567 141 600 200 575 159 625 217 621 240 575 210 612 188 554 249 575 178 612 226 562 143 613 201 546 174 622 229 597 153 549 189 576 121 601 254 597 189 548 142 557 251 555 256 589 268 595 192 566 209 551 214 575 142 573 147 631 257 591 165 626 203 609 128 596 132 627 173 559 183 613 129 592 161 573 143 610 238 609 256 620 121 572 118 590 232 593 237 637 196 552 224 583 220 590 220 633 186 546 150 620 257 617 130 580 113 587 232 555 176 610 170 642 216 627 163 599 180 602 210 611 215 541 214 620 119 574 226 587 150 588 182 587 129 588 144 632 170 583 223 640 247 636 209 536 188 533 164 561 167 566 226 578 176 593 181 590 148 601 177 616 217 543 220 553 177 586 191 643 175 580 189 544 259 597 263 602 261 556 133 603 172 569 205 613 180 581 158 594 152 606 252 634 168 622 120 584 180 596 126 557 138 619 177 540 172 538 148 546 252 607 166 547 198 630 238 560 218 630 173 599 141 603 220 597 180 623 243 622 237 637 161 631 175 610 146 633 192 564 206 620 266 561 137 603 241 569 145 556 164 645 206 583 239 583 237 602 231 547 220 569 166 620 160 546 138 564 232 618 212 552 234 615 257 599 179 613 154 634 172 579 219 629 196 647 258 605 165 613 210 585 181 587 219 574 118 563 205 636 172 631 153 544 182 601 192 578 134 573 238 601 188 585 125 578 205 628 128 558 153 565 204 587 165 622 228 591 163 607 133 599 160 593 194 591 197 536 201 647 151 544 189 548 199 594 173 564 261 599 164 591 187 532 161 641 205 632 120 615 229 563 233 640 178 613 125 605 183 581 141 616 201 571 219 608 232 548 265 587 215 601 280 594 143 551 164 599 192 635 177 599 251 561 146 603 174 642 144 627 230 544 134 614 145 556 198 648 222 626 232 566 233 544 135 558 164 632 215 540 210 562 124 609 267 569 248 615 213 550 211 591 141 544 259 585 226 589 124 566 245 550 224 621 265 623 125 578 138 619 217 647 161 575 193 561 259 558 133 589 223 566 127 606 194 643 150 562 149 545 196 623 227 543 245 623 149 576 184 579 172 621 193 560 233 636 161 620 239 613 177 571 225 621 119 578 218 610 215 602 211 535 242 586 262 615 247 580 188 604 216 613 257 624 247 553 269 608 195 548 128 592 214 557 222 568 259 585 133 584 194 552 150 632 216 565 241 585 149 597 160 629 256 571 187 642 143 563 196 622 200 578 182 619 229 604 176 571 224 585 120 601 203 556 196 540 199 638 186 577 235 575 246 586 197 581 259 595 197 634 219 544 242 624 144 589 230 544 205 543 206 546 268 620 234 604 131 556 150 574 249 575 166 550 211 549 259 583 191 618 154 609 206 596 197 575 268 605 178 639 134 587 181 541 150 542 243 559 242 547 227 543 247 621 240 605 167 554 160 548 176 556 159 590 127 596 113 604 276 583 250 606 172 609 231 541 200 556 194 647 148 624 140 572 126 600 257 569 154 631 222 537 260 579 166 535 258 575 231 625 201 637 269 567 224 627 185 626 180 602 179 639 200 573 137 567 255 616 218 596 149 634 220 580 211 628 181 560 201 576 126 574 183 645 151 570 252 619 262 579 169 581 240 607 225 574 263 574" fill="none" stroke="none" marker-start="url(#k10)" marker-mid="url(#k10)" marker-end="url(#k10)"/>
<path d="M210 548 261 621 125 568 227 576 121 622 141 586 241 622 213 624 162 562 137 574 219 544 235 565 237 555 266 598 112 592 207 619 180 541 251 626 270 582 147 620 133 563 189 548 158 579 140 564 244 551 205 543 226 584 217 543 212 642 204 645 158 628 156 631 198 560 248 570 195 578 201 559 149 591 150 598 177 620 163 573 158 559 210 645 166 576 260 569 256 578 206 617 188 540 218 575 184 540 229 593 209 641 230 593 202 626 153 616 235 621 179 628 145 565 229 559 119 590 212 636 132 599 276 600 160 641 211 591 214 584 125 576 166 622 175 546 140 624 239 591 166 599 243 573 262 576 209 535 177 575 212 604 139 616 161 620 146 559 156 623 218 618 245 572 194 547 240 571 146 555 187 611 259 600 154 624 262 565 226 613 219 541 251 586 271 565 202 547 171 626 238 545 194 593 232 612 172 548 113 579 222 575 177 597 150 557 116 573 226 622 175 576 157 584 191 612 166 618 248 607 184 650 128 573 139 610 171 578 174 616 138 581 214 627 143 622 227 545 203 570 190 563 200 632 200 590 163 557 192 592 129 558 211 554 194 632 199 603 118 604 191 563 208 564 241 630 181 537 169 607 193 594 125 606 240 572 235 635 196 627 224 539 249 601 209 629 200 605 217 558 247 635 268 599 274 593 216 558 261 568 181 646 148 541 274 580 181 577 197 639 226 568 145 585 128 583 151 635 222 627 249 557 120 573 131 613 212 550 194 595 143 569 218 598 251 587 195 581 218 560 205 590 156 569 174 599 139 620 184 579 187 593 179 630 181 630 208 627 119 577 230 563 251 598 114 599 140 563 117 593 166 575 133 594 127 624 151 596 267 565 133 571 246 619 131 574 221 617 246 562 152 571 114 582 202 534 179 588 146 556 183 561 137 589 120 569 216 549 117 574 131 622 193 581 148 618 230 611 220 558 196 644 261 585 258 628 149 545 150 583 165 605 132 616 119 620 265 606 267 569 256 581 188 622 235 545 265 602 202 577 168 632 229 577 215 570 123 596 158 569 164 601 246 626 195 598 118 581 192 589 238 591 214 570 190 586 183 543 193 536 231 576 163 562 271 588 195 592 128 553 142 593 143 598 260 622 187 563 140 570 203 609 179 567 222 636 161 592 126 611 139 589 199 548 227 548 154 642 188 559 259 619 197 614 230 551 202 545 217 611 212 635 235 546 166 592 249 621 145 572 263 620 218 617 238 564 239 575 273 585 261 603 173 594 217 610 186 549 144 605 131 556 133 565 238 599 191 615 269 601 193 562 182 569 178 610 206 572 209 587 140 610 156 588 171 612 213 550 227 567 128 592 179 563 233 546 251 579 245 558 145 556 163 629 182 626 119 594 261 566 255 620 204 545 206 571 226 611 200 609 125 597 196 623 201 638 167 591 162 625 173 590 214 619 123 600 160 627 220 592 276 600 224 547 179 599 193 544 223 624 261 589 256 599 151 587 128 561 232 641 173 620 165 556 216 603 234 590 217 617 192 592 135 553 264 562 198 578 236 619 152 609 156 638 234 545 230 577 182 534 213 627 162 547 268 586 246 620 144 607 180 537 201 537 107 588 147 574 163 627 255 552 216 539 129 596 200 540 235 550 224 600 119 619 121 569 218 599 148 608 263 564 119 612 196 588 223 594 260 622 148 602 257 583 207 624 259 581 165 568 200 542 204 554 250 627 261 558 115 567 252 578 191 633 213 597 191 585 212 536 114 594 145 625 195 574 219 565 112 578 220 604 188 570 234 596 124 566 156 632 194 613 131 591 187 609 186 558 179 574 271 576 213 571 254 554 194 601 166 619 139 564 174 563 190 540 169 647 230 572 185 622 181 560 202 581 155 601 217 570 120 606 220 534 170 610 261 612 135 616 203 574 192 632 224 627 163 634 146 606 221 566 227 548 220 536 216 622 222 584 275 584 181 601 125 598 199 629 161 618 141 592 254 589 173 625 234 640 235 613 186 582 207 636 226 552 184 642 254 553 253 608 131 583 153 606 252 592 223 551 257 592 192 606 213 607 250 598 158 565 185 535 244 560 166 592 251 590 204 626 180 629 162 544 262 576 179 632 123 614 220 643 224 570 178 540 212 568 203 646 150 616 197 627 187 549 234 621 253 574 225 613 236 566 209 551 172 596 112 585 123 592 196 564 205 627 197 584 234 560 240 587 247 607 213 632 206 615 203 547 204 618 263 570 174 559 255 592 125 621 188 585 221 618 203 575 125 597 146 628 158 624 238 542 261 574 242 613 175 613 215 551 145 583 122 576 190 616 189 559 174 537 180 578 180 609 153 558 268 577 126 576 265 606 268 585 239 625 235 560 125 580 152 628 176 541 139 633 134 557 190 544 154 638 231 630 247 632 261 564 198 646 253 598 237 632 193 643 207 577 145 624 212 608 251 556 255 604 167 550 159 604 139 573 262 591 238 604 182 604 234 558 235 590 223 588 180 634 212 568" fill="none" stroke="none" marker-start="url(#k11)" marker-mid="url(#k11)" marker-end="url(#k11)"/>
<path d="M131 611 213 607 147 590 151 628 227 599 242 585 231 643 210 594 259 558 129 569 197 624 191 537 131 578 181 620 257 566 168 538 177 616 243 547 194 569 185 583 240 561 135 587 132 581 259 604 180 562 247 547 212 638 156 607 144 628 254 623 220 571 172 588 269 574 179 609 258 603 167 623 233 568 140 569 267 570 260 600 260 606 237 605 213 572 229 564 191 610 116 595 161 584 186 579 236 564 115 586 163 615 181 610 194 544 211 559 168 571 178 616 200 625 218 542 143 630 172 565 252 607 187 565 183 584 198 566 242 627 255 609 207 597 197 639 150 569 134 622 176 552 272 580 178 577 140 622 268 613 168 580 221 609 226 575 234 569 219 616 223 627 198 584 208 601 169 639 184 563 186 571 186 609 160 625 210 585 195 539 186 605 186 622 271 613 134 607 224 628 133 617 220 617 180 591 143 564 178 585 161 574 159 592 164 609 272 595 262 590 157 596 219 589 176 604 154 612 171 611 118 614 229 565 192 597 146 557 191 542 182 555 123 560 207 558 131 614 180 612 145 600 217 581 125 585 165 557 153 581 210 538 225 543 163 536 215 581 190 615 223 600 167 605 260 579 246 578 172 596 145 602 269 610 203 622 184 582 190 549 184 617 164 559 149 560 243 546 185 564 235 563 121 610 140 549 139 635 154 618 245 596 270 573 207 541 160 610 206 573 134 565 157 541 188 648 189 579 190 575 258 575 170 619 228 551 215 630 164 610 239 549 175 582 138 549 237 600 252 608 207 642 128 556 197 615 148 552 164 601 236 608 151 594 137 631 202 534 125 610 147 632 133 572 138 556 170 647 211 647 186 622 198 545 183 620 159 561 188 646 174 545 154 564 139 571 126 623 151 610 113 590 185 580 256 620 259 597 145 583 116 576 188 634 128 586 235 635 193 607 269 604 181 546 202 550 272 610 180 578 257 581 201 539 136 597 233 619 172 593 243 617 222 607 193 570 194 564 119 568 260 601 146 580 259 597 218 580 163 556 150 598 223 552 203 574 190 578 231 545 141 558 182 596 186 548 150 541 183 601 250 574 263 615 261 576 134 575 252 608 206 617 200 638 174 545 228 572 251 573 141 566 190 586 202 569 216 637 178 618 189 602 192 548 237 542 185 563 180 546 233 621 206 549 219 628 213 547 202 634 252 556 237 616 148 615 167 617 155 594 232 588 197 570 160 564 266 571 226 601 126 555 243 612 141 585 203 646 200 546 173 643 154 561 177 578 235 628 184 637 189 584 225 623 247 547 174 614 186 618 184 606 127 598 234 619 166 570 196 576 255 626 173 605 220 639 154 582 185 542 251 609 258 591 222 623 253 571 253 620 148 589 255 613 234 606 243 622 130 620 134 611 113 585 156 547 172 576 214 602 175 562 200 629 260 616 128 623 192 605 169 627 189 577 236 572 200 623 177 569 236 602 194 580 209 629 164 610 243 570 139 572 189 616 167 556 254 551 261 590 221 624 219 575 142 608 206 549 191 550 180 617 183 647 175 575 264 614 127 605 256 584 273 593 166 539 223 570 198 623 181 549 164 602 217 637 203 542 243 595 113 600 219 578 205 629 250 626 192 543 195 574 118 594 156 630 208 643 230 626 243 595 204 588 218 599 173 552 152 593 136 585 204 618 189 555 244 591 193 568 178 578 176 613 140 596 124 594 153 596 268 584 163 555 225 628 232 589 176 536 176 649 186 600 200 615 131 557 198 586 230 570 142 601 211 607 180 574 122 609 139 575 223 541 196 551 262 595 223 621 175 616 232 617 115 595 196 593 121 611 204 569 231 544 224 546 168 617 191 547 236 605 218 545 272 573 240 588 248 624 261 591 191 533 265 576 124 572 205 555 167 583 114 578 174 539 236 619 128 612 135 584 213 554 174 543 246 602 243 607 209 645 175 564 218 637 227 620 180 624 141 589 183 616 217 639 167 581 157 568 138 557 186 649 197 581 139 598 190 566 144 572 240 605 131 560 186 543 249 597 243 610 226 574 177 601 261 564 135 582 136 584 164 602 158 596 145 552 254 567 252 598 138 567 165 618 174 582 220 554 232 619 152 638 175 558 140 618 215 628 145 607 215 583 202 554 254 593 227 561 270 601 222 597 173 604 244 579 240 554 231 622 260 595 249 619 238 571 185 584 206 533 134 619 247 607 272 608 135 571 262 585 230 646 242 547 141 600 135 576 202 564 242 621 237 634 235 569 167 595 240 610 264 561 160 576 159 571 145 554 215 560 162 632 249 556 211 599 207 585 258 589 258 618 270 587 237 579 216 560 144 623 182 635 252 625 235 545 205 641 198 641 239 554 250 558 214 629 181 542 273 589 259 584 194 565 197 602 190 642 210 621 199 557 210 551 266 600 168 592 226 608 264 586 213 559 174 560 178 599 156 618 182 599 186 576 116 609 248 548 127 617 121 566 133 604 228 639 215 645 215 593 172 645 181 598 163 541 207 559 202 627 230 603 121 582 206 544 162 593 127 598 166 606 175 642 236 610 187 554 257 604 175 594 192 595 189 616 216 562 227 614 199 605 164 572 263 569 219 553 213 576 216 572 240 604 233 591 216 593 248 613 224 620 266 576 220 588 144 562 143 562 238 571 256 625 164 644 125 560 172 628 226 628 222 637 143 553 190 580 179 578 243 616 206 634 178 543 211 555 195 535 265 594 215 579 236 552 163 609 204 646 148 614 140 631 162 636 143 589 172 571 178 620 204 649 165 630 194 627 221 638 131 563 218 549 239 583 163 606 165 555 199 535 148 635 150 607 162 605 182 622 188 570 183 579 199 586 210 586 196 588 217 603 256 620 267 572 240 587 266 603 199 584 271 583 149 614 260 575 261 579 176 555 144 583 160 536 239 569 255 563 200 546 209 642 217 540 180 537 119 587 198 594 186 630 166 636 265 582" fill="none" stroke="none" marker-start="url(#k12)" marker-mid="url(#k12)" marker-end="url(#k12)"/>
<path d="M267 600 112 591 165 585 252 560 125 591 242 613 136 564 162 588 249 608 186 644 157 598 147 606 180 576 249 566 195 625 204 588 199 587 163 639 251 557 176 593 125 555 212 550 241 636 235 570 261 563 110 587 237 597 181 637 216 565 174 630 218 546 236 621 206 598 255 595 187 540 169 581 234 563 178 579 244 619 242 579 176 571 231 583 125 559 208 595 169 614 219 641 197 647 218 628 222 607 168 628 171 582 265 620 217 633 172 579 257 619 135 588 202 586 133 598 125 613 163 568 240 580 144 621 261 558 147 613 174 595 171 579 126 566 195 540 249 548 226 637 255 558 248 551 143 596 261 591 223 564 149 634 139 570 258 578 125 598 227 552 217 635 260 562 201 597 152 607 142 592 199 546 205 645 237 568 202 591 227 606 188 605 163 556 214 534 261 624 173 612 174 613 248 629 251 608 172 554 166 597 242 554 119 578 159 628 128 589 246 613 158 568 125 605 113 602 238 629 119 568 247 635 269 592 233 622 210 606 187 634 211 569 259 595 171 575 201 637 172 579 199 576 179 592 140 578 252 569 209 583 157 622 117 581 124 607 117 588 242 634 145 594 213 644 183 617 261 606 150 586 156 578 173 601 207 552 257 624 205 542 174 538 115 594 237 583 129 558 210 535 177 576 201 601 187 583 222 584 197 559 232 597 194 623 188 623 153 572 170 588 133 594 143 610 268 595 162 628 192 551 187 567 256 552 217 571 206 556 193 602 185 560 154 540 141 580 165 584 212 632 128 604 205 559 218 540 184 633 238 625 161 631 220 613 136 626 125 557 194 643 241 582 156 640 135 608 146 587 140 610 193 605 221 577 181 586 120 566 224 619 223 614 120 617 214 547 187 643 170 573 212 615 150 597 260 592 222 565 127 616 122 565 275 585 160 588 241 586 160 644 235 566 182 557 138 569 166 595 160 544 201 622 137 613 256 560 239 632 265 602 160 638 115 609 225 613 193 586 166 601 249 568 185 649 220 640 261 595 225 636 150 544 151 587 173 604 146 545 219 558 184 615 212 643 158 580 195 609 148 552 176 601 159 553 182 564 179 545 159 560 215 604 163 551 222 560 163 616 138 598 258 626 201 611 120 573 217 642 263 621 171 575 144 638 224 582 133 555 179 534 232 563 171 564 262 616 188 624 128 616 236 565 169 536 258 578 202 611 189 587 223 584 184 599 117 608 167 549 151 553 175 631 235 544 189 633 141 573 222 542 200 647 264 578 251 617 138 569 209 630 236 553 275 599 187 548 178 558 253 618 130 631 213 585 154 589 233 543 255 608 168 549 183 604 193 594 147 611 176 541 188 646 247 600 195 600 220 598 214 565 229 616 228 591 164 578 122 605 146 575 172 628 215 543 155 538 127 592 136 603 205 641 174 626 255 623 203 629 151 592 155 592 272 579 180 547 216 545 252 583 124 609 249 556 150 555 219 570 126 567 215 565 219 630 199 637 227 555 147 635 213 617 210 560 186 601 258 557 151 637 164 620 126 568 146 620 173 645 271 574 221 550 122 560 228 559 259 570 146 622 207 598 258 585 270 592 194 601 226 565 164 551 172 538 195 645 237 588 265 583 179 645 206 562 135 590 197 570 195 597 174 554 251 596 153 598 140 629 267 613 116 607 224 588 262 607 154 636 144 582 250 605 119 583 182 647 220 543 156 627 257 616 161 642 262 570 186 599 198 546 236 579 136 606 166 548 156 627 273 603 197 631 226 630 113 591 204 611 259 582 225 605 140 617 167 599 166 582 273 603 265 586 242 625 273 579 208 569 133 578 256 566 268 596 140 602 155 573 160 619 160 607 229 556 194 625 224 568 223 563 134 624 125 587 256 557 259 572 217 562 251 597 191 583 152 567 205 565 168 615 215 594 225 580 163 637 186 538 135 601 243 593 248 620 189 539 168 537 256 583 224 625 213 589 230 634 274 600 154 644 214 579 194 569 161 614 212 645 215 556 217 594 153 565 238 554 131 609 191 582 114 578 225 602 118 574 231 590 171 624 180 587 252 623 216 593 199 637 212 643 148 614 256 616 186 587 241 597 251 582 212 556 119 579 223 640 235 570 130 593 179 590 209 625 215 569 173 555 253 564 147 582 197 632 180 595 206 635 121 584 222 611 256 577 267 603 255 586 260 572 175 613 118 591 181 558 177 573 141 604 240 599 266 591 128 599 139 558 229 608 257 586 158 636 256 592 165 589 156 630 209 534 166 547 240 625 198 608 251 561 138 576 228 628 129 559 179 623 135 595 196 539 114 592 211 537 143 582 194 580 147 590 177 645 143 625 157 555 188 542 266 589 129 581 149 606 171 555 178 577" fill="none" stroke="none" marker-start="url(#k13)" marker-mid="url(#k13)" marker-end="url(#k13)"/>
<path d="M260 615 142 547 193 562 185 568 265 603 217 563 196 626 269 567 201 581 218 580 162 626 148 571 120 597 120 617 144 601 161 637 179 589 267 594 168 577 203 623 204 533 163 633 138 552 145 623 220 590 245 609 183 575 151 635 255 567 127 599 207 562 203 602 246 607 221 641 154 575 273 595 163 611 219 642 184 621 213 635 128 573 253 616 212 605 155 628 262 603 151 592 151 604 136 623 178 569 158 625 178 549 166 563 164 639 238 595 210 543 244 588 211 566 212 557 164 546 241 550 217 558 220 548 176 642 215 631 218 555 188 631 248 588 130 587 206 585 141 604 180 647 214 584 178 625 178 564 196 533 263 573 167 626 138 580 253 593 224 609 233 564 249 569 211 627 153 580 170 623 247 547 168 596 248 558 144 550 209 619 150 558 153 547 201 581 254 609 213 589 259 559 219 567 206 640 240 628 164 578 188 593 153 540 209 533 262 601 115 601 167 601 182 621 177 576 152 599 168 628 220 590 210 532 238 578 167 559 144 566 242 616 262 605 144 543 198 626 260 601 235 600 158 539 272 601 180 610 231 556 250 595 197 582 158 554 173 629 146 625 202 572 195 585 138 602 191 576 198 626 173 625 215 618 239 570 245 596 216 634 236 621 186 575 148 601 158 613 255 567 218 564 274 589 264 607 246 575 188 593 153 571 223 587 186 581 232 613 151 590 230 603 140 562 266 616 135 560 200 584 145 584 129 584 235 615 222 543 138 596 161 614 216 594 171 596 239 547 180 552 139 554 221 624 114 592 263 591 263 599 208 600 206 628 190 554 166 581 225 626 146 623 198 647 248 627 272 598 242 585 211 612 232 607 116 581 118 569 205 644 184 564 250 624 212 589 215 613 222 590 180 562 181 614 193 583 195 607 274 581 195 561 221 602 228 548 267 586 160 581 180 563 240 572 134 580 186 544 143 586 120 606 139 568 230 633 181 545 159 546 162 550 161 629 264 581 184 550 158 621 239 605 220 626 157 594 141 588 194 631 134 581 263 606 177 613 223 626 167 643 118 599 153 644 118 607 206 565 133 556 205 639 245 553 185 538 190 607 251 595 159 606 224 618 206 562 135 594 159 541 176 546 190 649 266 606 266 566 129 595 185 588 251 552 127 569 129 584 262 562 221 553 213 594 175 540 254 577 173 558 270 573 214 559 183 602 205 603 139 568 206 533 142 630 187 634 197 638 162 609 164 645 125 596 135 610 267 582 217 592 191 630 231 557 210 548 176 618 196 648 244 618 219 606 126 607 130 593 183 574 174 591 165 570 182 604 137 624 195 571 231 581 209 624 235 640 187 572 178 616 258 571 133 580 255 593 269 571 120 607 194 576 209 627 191 597 219 576 201 541 234 617 203 625 176 557 194 588 150 546 144 599 184 635 253 556 171 553 208 638 246 591 177 646 200 545 230 615 224 643 196 617 151 553 169 537 116 580 201 535 251 560 190 593 177 584 248 629 273 581 194 638 253 608 170 577 183 572 157 642 169 582 174 604 263 617 249 626 208 594 210 640 182 588 258 619 196 579 245 557 152 565 149 608 209 536 183 576 177 637 158 607 145 567 223 539 203 548 179 633 187 544 198 538 239 546 202 641 256 574 161 583 209 556 186 555 140 544 225 546 117 572 193 584 200 592 154 540 234 548 202 560 171 604 203 576 211 551 168 555 261 564 166 546 165 568 230 545 201 635 151 562 235 611 186 563 253 590 265 609 267 617 246 618 167 538 224 628 206 599 118 581 157 543 200 560 238 635 221 549 131 548 220 566 209 587 174 541 167 594 182 571 157 622 199 640 161 618 136 584 202 567 166 623 216 610 125 603 256 605 265 599 236 606 214 596 167 545 251 622 196 622 226 629 127 598 125 558 150 618 200 588 204 581 170 549 190 591 184 555 181 598 184 594 204 551 203 576 180 614 207 610 194 591 163 619 193 591 172 588 192 591 196 594 231 577 135 571 187 584 194 592 166 629 224 564 193 591 198 592 230 600 158 594 204 593 192 589 191 597 215 603 204 598 193 591 188 590 190 590 201 592 182 568 187 594 195 589 198 600 201 596 171 639 181 633 193 591 196 589 207 595 203 588 213 565 184 588 179 575 199 589 146 590 188 590 166 588 140 601 209 597 196 591 184 592 202 543 200 634 188 604 153 617 140 625 199 594 184 567 256 561 232 593 180 595 180 643 194 591 187 588 195 590 176 574 194 591 123 613 180 566 184 621 157 555 215 567 192 593 260 615 185 615 196 580 258 568 179 597 195 599 236 595 196 640 195 592 228 561 190 587 221 598 175 595 176 582 207 591 239 619 204 602 217 630 193 591 198 593 156 608 162 571 199 592 211 591 244 555 185 595 202 613 228 595 194 631 224 568 196 578 160 634 193 591 239 594 205 598 239 627 201 594 174 585 198 645 143 597 193 591 193 591 210 577 204 588 153 564 202 597 191 591 186 581 175 633 221 596 189 582 229 610 193 565 213 612 186 559 193 591 161 553 197 586 194 590 169 589 182 627 206 616 164 633 193 591 198 630 188 611 192 590 193 591 164 554 158 602 195 589 202 588 193 591 187 570 193 590 131 603 179 590 151 603 195 588 193 591 261 601 236 576 207 586 168 604 186 581 170 563 187 575 178 632 193 590 190 585 147 567 119 604 251 572 195 590 195 590 190 591 188 600 195 558 170 584 181 550 194 591 193 591 186 617 161 618 217 641 212 595 164 602 172 561 185 545 186 591 205 579 193 591 192 579 181 612 151 601 200 637 194 587 217 597 160 621 184 622 181 595 199 601 184 575 195 622 212 615 194 590 193 621 258 579 216 558 232 574 191 626 193 590 213 635 131 582 216 552 178 579 224 622 220 570 193 591 194 601 193 591 192 590 185 593 192 591 218 595 208 614 172 584 193 591 197 538 190 591 185 593 204 580 257 588 226 556 254 612 269 586 177 626 170 556 193 590 236 550 194 599 134 567 230 618 200 596 261 584 159 585 196 592 192 597 239 578 175 573 151 546 203 588 184 597 194 562 183 618 247 587 193 591 171 595 207 607 194 590 201 589 166 570 206 610 211 588 196 589 158 573 194 590 211 629 238 601 136 604 162 543 183 541 192 595 195 590 179 553 202 596 168 582 175 581 191 597 243 605 158 614 191 602 227 548 193 591 197 588 218 573 225 598 176 603 164 641 183 593 232 614 242 617 192 615 234 596 150 600 254 598 128 577 202 583 199 596 194 591 254 621 164 608 193 613 202 591 225 570 179 554 202 597 255 575 192 591 187 595 186 595 201 573 207 569 204 552 193 579 174 630 197 594 155 613 195 591 190 592 198 592 197 591 244 598 194 608 126 586 199 574 202 547 162 559 180 602 171 592 193 591 193 591 188 583 190 579 198 566 191 586 177 635 146 598 211 563 146 556 245 556 174 577 198 577 165 615 193 591 193 591 188 586 193 591 183 595 234 551 216 589 192 593 190 594 172 635 131 609 193 614 187 607 164 591 165 619 136 625 226 596 195 592 178 584 193 586 191 581 193 590 190 599 186 592 178 586 179 582 195 588 188 600 193 591 164 558 172 610 191 596 192 591 191 603 181 604 220 578 211 583 221 637 193 591 196 603 164 597 193 591 190 542 191 591 189 587 183 590 204 592 202 596 193 589 128 565 193 574 153 631 193 590 253 593 191 585 195 592 210 559 195 590 127 615 210 596 193 591 207 584 161 617 194 592 190 594 198 583 125 599 216 608 189 588 176 610 198 593 221 600 250 613 227 614 188 589 268 594 167 587 227 569 182 590 196 599 193 591 215 598 209 596 186 585 193 591 193 591 193 591 191 593 189 588 209 632 271 587 193 591 192 589 193 591 193 591 202 617 169 583 173 547 179 620 141 588 163 585 195 580 179 600 193 591 211 582 181 614 193 589 240 590 209 583 226 600 189 595 199 592 240 565 200 584 204 587 198 584 232 612 238 628 193 590 220 583 193 579 166 581 203 565 256 570 254 559 191 589 193 593 187 573 195 586 185 545 151 576 194 591 191 561 179 606 232 554 192 590 240 590 187 580 188 586 192 590 186 590 193 592 160 624 230 544 192 580 209 592 183 597 164 613 248 607 197 586 193 590 190 590 131 578 191 591 156 612 178 580 197 596 193 591 186 537 184 564 193 590 193 592 187 563 186 586 204 615 194 591 136 598 250 614 196 580 211 593 192 591 185 543 173 574 257 601 196 559 193 591 194 590 194 593 193 591 153 582 224 584 187 628 203 580 194 591 213 599 199 591 223 606 207 615 196 591 201 593 202 614 229 572 186 645 161 578 220 588 234 565 182 610 182 600 221 617 194 552 202 612 192 590 152 565 196 597 213 604 193 591 202 591 171 595 120 594 193 591 194 592 199 586 189 603 201 542 157 586 232 585 193 591 212 561 201 642 168 586 171 600 200 616 182 595 194 599 197 591 251 583 209 638 195 594 245 576 223 591 193 589 156 601 186 594 162 590 193 591 211 622 240 580 194 591 187 588 174 587 199 589 195 589 201 592 158 593 209 606 195 575 152 546 202 582 231 627 177 567 216 600 205 600 192 595 193 591 132 558 193 591 228 578 188 578 185 595 209 589 182 585 189 585 219 587 200 615 196 604 116 593 171 594 188 617 190 592 170 583 215 601 198 596 170 580 239 556 192 589 212 635 191 591 169 593 144 629 153 598 199 568 126 602 193 591 197 596 192 588 187 591 180 594 198 588 189 607 212 611 176 573 156 633 120 601 164 572 193 591 194 591 208 607 193 591 194 593 186 544 188 595 150 576 170 621 221 591 193 590 193 591" fill="none" stroke="none" marker-start="url(#k14)" marker-mid="url(#k14)" marker-end="url(#k14)"/>
</g>
<line x1="32.5" y1="251.25" x2="159.5" y2="251.25" stroke="#909090" stroke-width="1.3"/>
<line x1="32.5" y1="340" x2="159.5" y2="340" stroke="#909090" stroke-width="1.3"/>
<polygon points="115.5,289.3 126.35,289.44 124.68,286.31 140,278.1 138.4,275.1 123.07,283.31 121.39,280.19" fill="#000"/>
<rect x="187" y="43.9" width="2.2" height="2.2" fill="#0072BD" transform="rotate(45 188.1 45)"/>
<text x="197.3" y="48.2" font-size="9" stroke="#111" stroke-width="0.2" fill="#111" textLength="40.7" lengthAdjust="spacingAndGlyphs">time step =</text>
<text x="249.1" y="48.2" font-size="9" stroke="#111" stroke-width="0.2" text-anchor="end" fill="#111" textLength="4.4" lengthAdjust="spacingAndGlyphs">1</text>
<rect x="187" y="54.75" width="2.2" height="2.2" fill="#D95319" transform="rotate(45 188.1 55.85)"/>
<text x="197.3" y="59.05" font-size="9" stroke="#111" stroke-width="0.2" fill="#111" textLength="40.7" lengthAdjust="spacingAndGlyphs">time step =</text>
<text x="252.8" y="59.05" font-size="9" stroke="#111" stroke-width="0.2" text-anchor="end" fill="#111" textLength="8.8" lengthAdjust="spacingAndGlyphs">10</text>
<rect x="187" y="65.6" width="2.2" height="2.2" fill="#EDB120" transform="rotate(45 188.1 66.7)"/>
<text x="197.3" y="69.9" font-size="9" stroke="#111" stroke-width="0.2" fill="#111" textLength="40.7" lengthAdjust="spacingAndGlyphs">time step =</text>
<text x="252.8" y="69.9" font-size="9" stroke="#111" stroke-width="0.2" text-anchor="end" fill="#111" textLength="8.8" lengthAdjust="spacingAndGlyphs">20</text>
<rect x="187" y="76.45" width="2.2" height="2.2" fill="#7E2F8E" transform="rotate(45 188.1 77.55)"/>
<text x="197.3" y="80.75" font-size="9" stroke="#111" stroke-width="0.2" fill="#111" textLength="40.7" lengthAdjust="spacingAndGlyphs">time step =</text>
<text x="252.8" y="80.75" font-size="9" stroke="#111" stroke-width="0.2" text-anchor="end" fill="#111" textLength="8.8" lengthAdjust="spacingAndGlyphs">50</text>
<rect x="187" y="87.3" width="2.2" height="2.2" fill="#77AC30" transform="rotate(45 188.1 88.4)"/>
<text x="197.3" y="91.6" font-size="9" stroke="#111" stroke-width="0.2" fill="#111" textLength="40.7" lengthAdjust="spacingAndGlyphs">time step =</text>
<text x="252.8" y="91.6" font-size="9" stroke="#111" stroke-width="0.2" text-anchor="end" fill="#111" textLength="8.8" lengthAdjust="spacingAndGlyphs">65</text>
<rect x="187" y="98.15" width="2.2" height="2.2" fill="#4DBEEE" transform="rotate(45 188.1 99.25)"/>
<text x="197.3" y="102.45" font-size="9" stroke="#111" stroke-width="0.2" fill="#111" textLength="40.7" lengthAdjust="spacingAndGlyphs">time step =</text>
<text x="255" y="102.45" font-size="9" stroke="#111" stroke-width="0.2" text-anchor="end" fill="#111" textLength="13.2" lengthAdjust="spacingAndGlyphs">100</text>
<rect x="184.5" y="146.4" width="2.2" height="2.2" fill="#0072BD" transform="rotate(45 185.6 147.5)"/>
<text x="196" y="150.7" font-size="9" stroke="#111" stroke-width="0.2" fill="#111" textLength="41.8" lengthAdjust="spacingAndGlyphs">time step =</text>
<text x="248.5" y="150.7" font-size="9" stroke="#111" stroke-width="0.2" text-anchor="end" fill="#111" textLength="4.4" lengthAdjust="spacingAndGlyphs">1</text>
<rect x="184.5" y="158.9" width="2.2" height="2.2" fill="#D95319" transform="rotate(45 185.6 160)"/>
<text x="196" y="163.2" font-size="9" stroke="#111" stroke-width="0.2" fill="#111" textLength="41.8" lengthAdjust="spacingAndGlyphs">time step =</text>
<text x="252.2" y="163.2" font-size="9" stroke="#111" stroke-width="0.2" text-anchor="end" fill="#111" textLength="8.8" lengthAdjust="spacingAndGlyphs">10</text>
<rect x="184.5" y="171.4" width="2.2" height="2.2" fill="#EDB120" transform="rotate(45 185.6 172.5)"/>
<text x="196" y="175.7" font-size="9" stroke="#111" stroke-width="0.2" fill="#111" textLength="41.8" lengthAdjust="spacingAndGlyphs">time step =</text>
<text x="252.2" y="175.7" font-size="9" stroke="#111" stroke-width="0.2" text-anchor="end" fill="#111" textLength="8.8" lengthAdjust="spacingAndGlyphs">20</text>
<rect x="184.5" y="183.9" width="2.2" height="2.2" fill="#7E2F8E" transform="rotate(45 185.6 185)"/>
<text x="196" y="188.2" font-size="9" stroke="#111" stroke-width="0.2" fill="#111" textLength="41.8" lengthAdjust="spacingAndGlyphs">time step =</text>
<text x="252.2" y="188.2" font-size="9" stroke="#111" stroke-width="0.2" text-anchor="end" fill="#111" textLength="8.8" lengthAdjust="spacingAndGlyphs">50</text>
<rect x="184.5" y="196.4" width="2.2" height="2.2" fill="#77AC30" transform="rotate(45 185.6 197.5)"/>
<text x="196" y="200.7" font-size="9" stroke="#111" stroke-width="0.2" fill="#111" textLength="41.8" lengthAdjust="spacingAndGlyphs">time step =</text>
<text x="252.2" y="200.7" font-size="9" stroke="#111" stroke-width="0.2" text-anchor="end" fill="#111" textLength="8.8" lengthAdjust="spacingAndGlyphs">65</text>
<rect x="184.5" y="208.9" width="2.2" height="2.2" fill="#4DBEEE" transform="rotate(45 185.6 210)"/>
<text x="196" y="213.2" font-size="9" stroke="#111" stroke-width="0.2" fill="#111" textLength="41.8" lengthAdjust="spacingAndGlyphs">time step =</text>
<text x="254.4" y="213.2" font-size="9" stroke="#111" stroke-width="0.2" text-anchor="end" fill="#111" textLength="13.2" lengthAdjust="spacingAndGlyphs">100</text>
<rect x="184.5" y="221.4" width="2.2" height="2.2" fill="#A2142F" transform="rotate(45 185.6 222.5)"/>
<text x="196" y="225.7" font-size="9" stroke="#111" stroke-width="0.2" fill="#111" textLength="41.8" lengthAdjust="spacingAndGlyphs">time step =</text>
<text x="254.4" y="225.7" font-size="9" stroke="#111" stroke-width="0.2" text-anchor="end" fill="#111" textLength="13.2" lengthAdjust="spacingAndGlyphs">150</text>
<circle cx="189" cy="256.6" r="1.3" fill="#0072BD"/>
<text x="199" y="259.8" font-size="9" stroke="#111" stroke-width="0.2" fill="#111" textLength="41.6" lengthAdjust="spacingAndGlyphs">time step =</text>
<text x="251.5" y="259.8" font-size="9" stroke="#111" stroke-width="0.2" text-anchor="end" fill="#111" textLength="4.4" lengthAdjust="spacingAndGlyphs">1</text>
<circle cx="189" cy="267.6" r="1.3" fill="#D95319"/>
<text x="199" y="270.8" font-size="9" stroke="#111" stroke-width="0.2" fill="#111" textLength="41.6" lengthAdjust="spacingAndGlyphs">time step =</text>
<text x="255.2" y="270.8" font-size="9" stroke="#111" stroke-width="0.2" text-anchor="end" fill="#111" textLength="8.8" lengthAdjust="spacingAndGlyphs">10</text>
<circle cx="189" cy="278.6" r="1.3" fill="#EDB120"/>
<text x="199" y="281.8" font-size="9" stroke="#111" stroke-width="0.2" fill="#111" textLength="41.6" lengthAdjust="spacingAndGlyphs">time step =</text>
<text x="255.2" y="281.8" font-size="9" stroke="#111" stroke-width="0.2" text-anchor="end" fill="#111" textLength="8.8" lengthAdjust="spacingAndGlyphs">20</text>
<circle cx="189" cy="289.6" r="1.3" fill="#7E2F8E"/>
<text x="199" y="292.8" font-size="9" stroke="#111" stroke-width="0.2" fill="#111" textLength="41.6" lengthAdjust="spacingAndGlyphs">time step =</text>
<text x="255.2" y="292.8" font-size="9" stroke="#111" stroke-width="0.2" text-anchor="end" fill="#111" textLength="8.8" lengthAdjust="spacingAndGlyphs">50</text>
<circle cx="189" cy="300.6" r="1.3" fill="#77AC30"/>
<text x="199" y="303.8" font-size="9" stroke="#111" stroke-width="0.2" fill="#111" textLength="41.6" lengthAdjust="spacingAndGlyphs">time step =</text>
<text x="255.2" y="303.8" font-size="9" stroke="#111" stroke-width="0.2" text-anchor="end" fill="#111" textLength="8.8" lengthAdjust="spacingAndGlyphs">65</text>
<circle cx="189" cy="311.6" r="1.3" fill="#4DBEEE"/>
<text x="199" y="314.8" font-size="9" stroke="#111" stroke-width="0.2" fill="#111" textLength="41.6" lengthAdjust="spacingAndGlyphs">time step =</text>
<text x="257.4" y="314.8" font-size="9" stroke="#111" stroke-width="0.2" text-anchor="end" fill="#111" textLength="13.2" lengthAdjust="spacingAndGlyphs">100</text>
<circle cx="189" cy="322.6" r="1.3" fill="#A2142F"/>
<text x="199" y="325.8" font-size="9" stroke="#111" stroke-width="0.2" fill="#111" textLength="41.6" lengthAdjust="spacingAndGlyphs">time step =</text>
<text x="257.4" y="325.8" font-size="9" stroke="#111" stroke-width="0.2" text-anchor="end" fill="#111" textLength="13.2" lengthAdjust="spacingAndGlyphs">150</text>
<circle cx="189" cy="333.6" r="1.3" fill="#0072BD"/>
<text x="199" y="336.8" font-size="9" stroke="#111" stroke-width="0.2" fill="#111" textLength="41.6" lengthAdjust="spacingAndGlyphs">time step =</text>
<text x="257.4" y="336.8" font-size="9" stroke="#111" stroke-width="0.2" text-anchor="end" fill="#111" textLength="13.2" lengthAdjust="spacingAndGlyphs">200</text>
<circle cx="189" cy="344.6" r="1.3" fill="#D95319"/>
<text x="199" y="347.8" font-size="9" stroke="#111" stroke-width="0.2" fill="#111" textLength="41.6" lengthAdjust="spacingAndGlyphs">time step =</text>
<text x="257.4" y="347.8" font-size="9" stroke="#111" stroke-width="0.2" text-anchor="end" fill="#111" textLength="13.2" lengthAdjust="spacingAndGlyphs">250</text>
<line x1="292.75" y1="43.65" x2="409.4" y2="43.65" stroke="#ededed" stroke-width="0.7"/>
<line x1="292.75" y1="58.1" x2="409.4" y2="58.1" stroke="#ededed" stroke-width="0.7"/>
<line x1="292.75" y1="72.55" x2="409.4" y2="72.55" stroke="#ededed" stroke-width="0.7"/>
<line x1="292.75" y1="87" x2="409.4" y2="87" stroke="#ededed" stroke-width="0.7"/>
<line x1="292.75" y1="101.45" x2="409.4" y2="101.45" stroke="#ededed" stroke-width="0.7"/>
<line x1="312.19" y1="29.2" x2="312.19" y2="115.9" stroke="#ededed" stroke-width="0.7"/>
<line x1="331.63" y1="29.2" x2="331.63" y2="115.9" stroke="#ededed" stroke-width="0.7"/>
<line x1="351.07" y1="29.2" x2="351.07" y2="115.9" stroke="#ededed" stroke-width="0.7"/>
<line x1="370.52" y1="29.2" x2="370.52" y2="115.9" stroke="#ededed" stroke-width="0.7"/>
<line x1="389.96" y1="29.2" x2="389.96" y2="115.9" stroke="#ededed" stroke-width="0.7"/>
<text x="291.25" y="30.5" font-size="4.3" text-anchor="end" fill="#707070">0.6</text>
<text x="291.25" y="44.95" font-size="4.3" text-anchor="end" fill="#707070">0.4</text>
<text x="291.25" y="59.4" font-size="4.3" text-anchor="end" fill="#707070">0.2</text>
<text x="291.25" y="73.85" font-size="4.3" text-anchor="end" fill="#707070">0</text>
<text x="291.25" y="88.3" font-size="4.3" text-anchor="end" fill="#707070">-0.2</text>
<text x="291.25" y="102.75" font-size="4.3" text-anchor="end" fill="#707070">-0.4</text>
<text x="291.25" y="117.2" font-size="4.3" text-anchor="end" fill="#707070">-0.6</text>
<text x="292.75" y="121.4" font-size="4.3" text-anchor="middle" fill="#707070">-1.6</text>
<text x="312.19" y="121.4" font-size="4.3" text-anchor="middle" fill="#707070">-1.4</text>
<text x="331.63" y="121.4" font-size="4.3" text-anchor="middle" fill="#707070">-1.2</text>
<text x="351.07" y="121.4" font-size="4.3" text-anchor="middle" fill="#707070">-1</text>
<text x="370.52" y="121.4" font-size="4.3" text-anchor="middle" fill="#707070">-0.8</text>
<text x="389.96" y="121.4" font-size="4.3" text-anchor="middle" fill="#707070">-0.6</text>
<text x="409.4" y="121.4" font-size="4.3" text-anchor="middle" fill="#707070">-0.4</text>
<g transform="scale(0.5)">
<path d="M662 158 761 153 715 193 751 202 656 136 740 75 640 123 743 163 734 127 728 152 746 130 722 78 641 160 631 157 593 158 721 112 783 130 674 76 770 119 693 156 720 67 650 185 807 153 650 70 715 225 709 127 794 125 658 101 733 108 783 146 687 85 707 182 763 182 661 149 624 166 743 212 776 196 792 134 716 211 713 157 748 152 755 90 778 156 728 215 731 88 612 171 747 107 659 119 651 152 657 146 759 106 760 160 679 129 672 205 766 86 757 204 643 119 642 171 690 205 773 157 707 97 634 94 769 144 699 94 728 182 668 129 645 74 605 120 795 151 627 99 695 184 668 199 650 174 698 224 815 150 630 171 678 198 787 107 680 107 731 163 724 105 596 173 768 128 709 164 633 133 698 116 691 111 805 162 640 152 649 93 766 189 785 137 677 186 784 157 662 99 612 164 613 194 600 153 613 144 669 84 769 196 734 208 648 109 644 81 737 89 697 122 611 130 634 160 803 143 705 78 721 153 640 215 778 149 656 92 800 98 654 109 680 135 685 175 720 160 607 133 721 137 701 145 608 175 783 112 771 220 687 94 620 149 623 121 711 220 759 200 790 98 593 138 773 81 764 158 754 149 663 192 723 97 626 205 711 200 626 191 757 133 741 197 622 183 762 103 693 168 714 83 677 91 712 152 752 188 711 70 648 122 784 166 805 129 770 163 743 114 660 202 653 205 745 196 788 191 761 92 773 108 649 212 625 177 713 92 708 192 765 123 723 196 753 84 689 129 717 124 693 102 702 173 753 66 614 113 732 148 703 118 602 115 759 81 675 105 753 122 753 139 774 114 773 126 644 190 672 176 694 139 715 116 686 185 681 80 620 197 637 165 641 77 665 81 767 178 798 128 669 159 617 95 781 103 736 122 633 101 765 214 650 75 676 110 739 215 792 112 786 178 722 170 591 115 676 215 799 147 693 97 674 223 661 125 694 207 662 91 695 162 617 186 738 209 679 100 774 152 757 212 664 143 767 99 798 174 724 185 600 136 678 142 711 170 690 82 669 213 647 89 620 130 714 187 639 182 605 169 695 216 654 164 670 195 680 223 634 120 638 107 778 176 705 89 738 188 813 146 662 221 700 182 663 130 754 154 814 138 717 166 631 106 634 144 739 106 634 81 693 198 682 113 731 82 723 123 740 141 697 174 603 196 703 134 601 142 670 68 660 109 747 116 713 204 629 122 614 120 704 228 800 152 743 176 778 117 639 114 684 149 758 117 625 108 774 101 648 217 803 118 589 170 681 85 756 173 789 155 788 161 729 226 717 108 686 102 667 139 721 230 703 169 655 151 638 143 778 98 755 95 656 114 711 143 641 89 732 143 684 167 711 177 708 211 717 95 634 178 792 168 682 155 767 109 724 117 700 196 619 120 711 106 711 138 784 191 701 210 730 123 799 182 715 65 735 151 759 126 617 170 720 181 729 69 630 209 802 159 663 175 628 82 695 148 724 84 648 104 693 223 644 93 772 148 705 186 626 161 638 74 735 117 706 177 793 116 629 91 640 101 725 145 778 164 697 111 728 140 791 142 691 117 752 214 679 96 668 149 647 161 627 144 777 141 627 155 672 109 668 97 732 100 664 186 687 152 708 74 630 187 740 98 797 158 784 123 695 77 629 134 787 173 685 180 751 78 657 173 809 116 634 203 678 66 609 194 727 129 631 181 642 209 682 172 749 183 751 166 765 149 737 204 769 93 736 72 655 219 656 177 725 206 673 136 731 202 796 101 667 112 754 183 608 141 612 136 741 83 766 167 781 180 678 207 751 175 791 174 774 134 715 173 648 197 676 122 672 187 724 219 662 115 649 168 643 199 748 218 667 226 727 176 756 111 661 214 692 72 748 72 790 198 613 180 682 201 666 205 744 206 627 117 688 212 743 182 722 224 745 159 659 186 720 128 643 164 740 69 669 169 690 188 685 216 751 132 622 154 739 159 745 86 801 136 643 176 599 181 592 144 784 184 713 132 653 209 680 74 757 138 654 194 706 221 745 148 717 197 650 157 802 124 620 103 740 153 735 95 698 132 643 106 726 101 647 115 683 89 805 167 653 143 622 174 789 182 764 200 791 122 667 218 598 123 618 116 737 136 810 120 741 220 800 170 668 175 736 179 648 192 728 192 809 133 680 118 738 165 723 212 761 195 684 117 677 82 764 134 683 207 603 128 706 85 655 156 659 207 777 91 716 75 691 143 770 203 699 82 618 110 719 208 654 213 668 91 607 160 661 182 659 132 763 76 719 174 661 167 598 147 742 191 708 204 616 139 774 87 760 168 629 138 706 145 686 78 637 129 621 141 756 102 661 162 810 158 798 118 712 112 760 213 718 151 709 183 753 157 621 167 693 147 709 95 708 121 684 224 652 126 689 130 741 104 600 150 743 125 653 188 681 136 728 157 718 85 676 157 720 145 692 153 791 99 726 182 680 163 704 146 766 77 627 84 738 143 702 109 715 172 699 138 722 148 718 131 691 113 748 154 614 156 669 133 681 154 744 158 732 121 687 207 699 135 710 194 794 130 717 175 705 147 706 159 741 149 707 132 699 91 713 148 715 141 660 183 735 175 686 116 690 146 698 147 726 62 726 106 710 127 716 163 609 103 706 155 596 165 704 137 657 85 683 171 813 130 690 179 642 141 680 136 796 139 719 167 674 135 707 163 722 144 696 168 766 176 723 143 666 149 714 219 694 153 697 166 743 162 737 176 691 126 703 150 651 142 682 202 688 188 728 116 730 142 699 130 697 151 695 142 740 138 661 110 692 161 746 155 665 214 747 154 708 140 637 105 684 150 711 112 699 171 735 175 752 93 688 171 659 144 720 128 756 104 650 160 681 140 695 179 687 142 664 138 722 122 615 119 725 181 688 137 771 119 719 138 716 146 695 135 685 152 709 117 705 122 729 140 704 154 756 103 704 161 704 143 783 190 724 152 662 112 697 175 796 147 676 185 722 133 631 131 682 219 791 168 703 161 714 149 709 187 693 155 713 140 674 171 738 122 587 146 739 162 728 134 758 124 746 151 660 118 701 129 678 120 658 180 704 160 689 152 729 131 717 178 707 164 676 155 709 174 785 139 811 172 685 151 676 160 646 99 692 147 738 166 646 142 725 143 674 152 674 130 671 184 698 107 713 180 755 123 745 225 629 183 772 187 714 167 752 163 725 127 702 143 680 141 657 178 695 145 734 162 675 127 698 162 697 146 773 189 607 193 721 95 714 75 673 108 661 196 748 95 617 186 687 161 726 141 631 152 705 149 690 182 675 113 675 146 689 132 795 125 674 132 720 148 743 134 745 93 619 188 739 124 802 181 726 114 649 121 676 137 717 129 687 144 640 112 694 101 656 130 707 158 729 183 757 176 656 146 725 147 712 99 716 154 668 74 648 120 788 159 687 145 732 156 772 139 644 145 743 138 717 152 707 161 734 178 797 195 768 78 740 177 642 107 688 195 688 145 670 153 705 134 751 160 724 120 702 191 688 191 658 180 725 149 730 150 711 210 776 164 725 167 684 155 686 159 763 146 673 94 696 139 666 187 794 133 758 168 677 126 671 86 720 142 674 202 630 185 611 168 667 158 661 137 699 105 719 146 640 146 696 136 681 152 693 139 753 108 669 151 694 137 677 134 646 218 731 128 697 141 713 170 744 165 706 116 732 156 725 130 719 209 663 130 758 137 698 188 666 89 739 79 722 131 691 141 727 133 704 150 627 89 659 127 776 204 720 159 714 209 763 104 688 128 656 134 743 138 699 134 711 140 770 134 740 69 746 148 728 139 718 129 707 149 662 117 638 193 715 140 691 149 690 177 691 168 739 195 707 153 701 150 751 96 743 140 620 115 709 153 697 148 707 155 684 154 698 142 687 134 702 145 694 139 714 154 707 134 717 155 712 139 700 124 703 139 696 145 703 161 685 142 713 134 697 151 700 131 716 143 706 142 715 130 703 151 686 149 701 148 700 129 701 163 714 144 728 139 708 144 712 145 714 131 692 155 705 150 685 147 721 155 714 153 714 152 696 133 724 143 704 148 693 144 712 154 703 136 702 140 693 144 697 145 673 156 700 135 695 150 703 145 714 147 694 143 721 148 689 136 693 152 700 142 725 153 710 135 695 152 701 155 702 154 714 157 709 140 702 142 701 144 708 135 720 148 692 153 706 145 714 146 703 132 697 143 717 137 713 135 692 139 695 151 709 152 703 141 694 151 697 149 713 164 695 122 710 160 707 143 715 143 689 147 711 137 687 139 702 135 693 143 719 140 705 156 702 138 714 135 708 140 717 143 707 147 712 136 712 140 687 139 709 140 706 146 715 153 715 145 695 152 687 152 687 139 707 148 701 151 709 149 699 139 704 147 701 148 707 153 704 161 697 151 698 145 681 137 707 140 721 139 722 168 701 139 708 139 711 152 686 150 711 146 708 142 724 158 709 132 709 145 712 145 697 156 702 139 681 152 706 151 714 155 678 145 706 158 688 163 698 153 708 146 686 136 696 140 708 144 702 151 702 141 699 145 712 141 722 155 705 143 690 136 721 145 778 146 675 146 798 145 732 146 720 146 663 146 707 146 734 145 791 147 806 147 663 146 606 145 798 144 713 146 805 144 687 147 736 146 713 145 724 145 589 146 818 146" fill="none" stroke="none" marker-start="url(#k15)" marker-mid="url(#k15)" marker-end="url(#k15)"/>
</g>
<line x1="292.75" y1="29.2" x2="292.75" y2="115.9" stroke="#909090" stroke-width="1.3"/>
<line x1="409.4" y1="29.2" x2="409.4" y2="115.9" stroke="#909090" stroke-width="1.3"/>
<line x1="292.75" y1="115.9" x2="409.4" y2="115.9" stroke="#909090" stroke-width="1.3"/>
<line x1="291.9" y1="149.7" x2="407.5" y2="149.7" stroke="#ededed" stroke-width="0.7"/>
<line x1="291.9" y1="160.9" x2="407.5" y2="160.9" stroke="#ededed" stroke-width="0.7"/>
<line x1="291.9" y1="172.1" x2="407.5" y2="172.1" stroke="#ededed" stroke-width="0.7"/>
<line x1="291.9" y1="183.3" x2="407.5" y2="183.3" stroke="#ededed" stroke-width="0.7"/>
<line x1="291.9" y1="194.5" x2="407.5" y2="194.5" stroke="#ededed" stroke-width="0.7"/>
<line x1="291.9" y1="205.7" x2="407.5" y2="205.7" stroke="#ededed" stroke-width="0.7"/>
<line x1="291.9" y1="216.9" x2="407.5" y2="216.9" stroke="#ededed" stroke-width="0.7"/>
<line x1="306.35" y1="138.5" x2="306.35" y2="228.1" stroke="#ededed" stroke-width="0.7"/>
<line x1="320.8" y1="138.5" x2="320.8" y2="228.1" stroke="#ededed" stroke-width="0.7"/>
<line x1="335.25" y1="138.5" x2="335.25" y2="228.1" stroke="#ededed" stroke-width="0.7"/>
<line x1="349.7" y1="138.5" x2="349.7" y2="228.1" stroke="#ededed" stroke-width="0.7"/>
<line x1="364.15" y1="138.5" x2="364.15" y2="228.1" stroke="#ededed" stroke-width="0.7"/>
<line x1="378.6" y1="138.5" x2="378.6" y2="228.1" stroke="#ededed" stroke-width="0.7"/>
<line x1="393.05" y1="138.5" x2="393.05" y2="228.1" stroke="#ededed" stroke-width="0.7"/>
<text x="290.4" y="139.8" font-size="4.3" text-anchor="end" fill="#707070">0.8</text>
<text x="290.4" y="151" font-size="4.3" text-anchor="end" fill="#707070">0.6</text>
<text x="290.4" y="162.2" font-size="4.3" text-anchor="end" fill="#707070">0.4</text>
<text x="290.4" y="173.4" font-size="4.3" text-anchor="end" fill="#707070">0.2</text>
<text x="290.4" y="184.6" font-size="4.3" text-anchor="end" fill="#707070">0</text>
<text x="290.4" y="195.8" font-size="4.3" text-anchor="end" fill="#707070">-0.2</text>
<text x="290.4" y="207" font-size="4.3" text-anchor="end" fill="#707070">-0.4</text>
<text x="290.4" y="218.2" font-size="4.3" text-anchor="end" fill="#707070">-0.6</text>
<text x="290.4" y="229.4" font-size="4.3" text-anchor="end" fill="#707070">-0.8</text>
<text x="291.9" y="233.6" font-size="4.3" text-anchor="middle" fill="#707070">-1.8</text>
<text x="306.35" y="233.6" font-size="4.3" text-anchor="middle" fill="#707070">-1.6</text>
<text x="320.8" y="233.6" font-size="4.3" text-anchor="middle" fill="#707070">-1.4</text>
<text x="335.25" y="233.6" font-size="4.3" text-anchor="middle" fill="#707070">-1.2</text>
<text x="349.7" y="233.6" font-size="4.3" text-anchor="middle" fill="#707070">-1</text>
<text x="364.15" y="233.6" font-size="4.3" text-anchor="middle" fill="#707070">-0.8</text>
<text x="378.6" y="233.6" font-size="4.3" text-anchor="middle" fill="#707070">-0.6</text>
<text x="393.05" y="233.6" font-size="4.3" text-anchor="middle" fill="#707070">-0.4</text>
<text x="407.5" y="233.6" font-size="4.3" text-anchor="middle" fill="#707070">-0.2</text>
<g transform="scale(0.5)">
<path d="M699 289 777 403 765 436 800 388 613 330 602 390 711 333 676 427 648 361 660 306 621 346 638 325 738 295 705 284 807 360 721 337 625 337 651 329 661 393 771 370 702 367 793 403 763 369 762 402 705 385 612 383 720 295 731 306 673 356 750 357 715 431 638 348 755 396 641 320 640 398 661 443 749 412 723 303 750 343 665 328 667 427 658 400 668 359 738 412 759 329 615 402 631 380 712 438 677 417 726 436 718 287 632 417 727 338 769 421 750 370 706 310 642 418 695 292 745 293 679 289 635 310 675 406 606 380 706 326 672 326 782 318 611 337 754 352 652 307 735 367 691 433 618 335 619 318 743 424 762 323 779 382 649 392 705 455 671 291 735 429 699 328 624 313 640 434 657 288 704 361 651 419 705 344 726 420 621 301 657 417 612 410 674 321 784 417 670 297 799 342 654 392 662 414 779 363 709 395 729 352 797 403 731 441 649 411 651 399 599 362 692 374 654 381 707 381 705 443 654 423 651 377 635 403 646 396 785 405 681 367 744 442 647 373 742 419 643 355 723 429 774 420 767 355 665 365 745 356 776 377 676 343 676 353 778 338 714 444 709 406 692 311 690 338 600 394 698 421 707 358 689 357 762 357 666 410 696 362 640 361 709 316 682 378 738 308 775 358 761 377 696 316 766 385 667 336 784 384 726 358 620 341 772 388 739 422 655 370 598 381 717 321 765 398 709 412 613 314 701 414 680 306 715 385 659 366 689 393 737 333 701 316 732 388 658 311 807 340 791 363 774 407 661 318 739 389 632 386 705 425 777 316 724 326 691 447 667 394 685 419 788 323 790 376 689 292 786 344 673 384 714 343 755 362 671 401 740 312 753 414 711 295 705 339 608 345 695 337 646 313 612 418 785 310 800 350 680 319 765 350 773 329 762 390 668 320 735 402 682 346 696 354 722 406 783 360 773 414 730 344 703 431 647 301 775 308 681 355 771 365 629 305 616 356 781 396 762 441 687 319 598 369 805 327 774 340 762 310 731 293 805 379 608 372 653 353 727 382 720 450 728 310 747 330 717 436 661 430 762 416 610 389 674 360 645 427 697 299 699 333 642 378 679 441 733 326 757 387 636 378 625 350 673 421 778 418 694 428 753 436 589 371 674 444 601 337 777 411 672 417 747 351 778 328 711 338 676 372 687 427 721 364 746 319 693 413 671 380 705 295 796 398 683 359 786 377 786 426 698 348 816 380 684 447 632 375 742 323 778 304 691 439 680 331 691 329 626 404 625 356 730 415 736 339 712 420 753 304 703 330 607 351 666 291 747 380 705 289 733 412 647 324 629 314 696 381 810 350 711 307 664 303 756 367 802 370 718 409 690 385 749 302 759 372 666 346 697 405 645 294 639 387 683 406 747 306 638 353 772 302 650 290 620 351 786 395 632 335 663 398 710 389 651 321 664 322 665 389 638 439 634 344 628 320 661 381 635 426 785 371 774 334 722 415 635 321 675 365 698 311 738 326 718 399 741 434 722 386 681 301 730 289 730 434 705 417 719 354 656 427 634 358 737 380 804 375 746 434 617 378 624 324 787 391 753 296 761 318 774 324 761 363 636 394 736 375 683 388 661 436 656 442 660 360 637 331 771 383 671 390 760 406 664 352 776 395 774 350 685 308 784 333 624 376 683 401 627 428 697 283 661 291 721 317 688 443 745 344 637 365 637 374 598 353 737 396 788 414 662 376 719 282 674 313 725 398 714 312 728 319 737 359 696 434 650 338 628 415 639 422 795 351 624 421 768 307 606 403 639 305 714 395 681 430 766 374 703 354 732 399 726 364 734 320 789 332 741 339 691 280 672 376 629 421 792 317 739 355 616 347 622 386 691 304 671 302 679 392 686 435 719 331 803 407 753 426 687 409 677 436 620 360 787 349 796 385 729 331 646 335 761 339 730 365 803 344 743 381 711 354 684 396 591 382 669 436 713 348 797 359 720 443 682 453 667 310 725 345 697 396 803 396 771 319 790 381 658 332 657 339 757 424 613 343 810 376 764 344 757 411 781 425 797 326 704 438 603 373 653 311 659 327 617 386 795 331 765 411 644 406 717 350 756 333 689 347 628 364 684 372 714 316 731 449 652 317 701 402 749 334 767 406 633 325 742 376 639 429 788 338 693 322 754 324 745 415 756 340 629 398 650 386 635 314 796 318 641 313 627 388 744 301 703 395 634 408 689 398 679 314 781 350 722 375 716 375 705 450 645 388 719 426 698 416 752 376 751 421 781 388 749 400 650 427 706 372 710 429 743 366 631 392 754 380 698 439 667 447 598 327 740 384 792 370 599 386 721 309 758 430 607 393 766 379 612 324 605 342 681 410 698 347 687 339 726 390 755 365 746 375 691 402 648 396 733 333 689 335 653 446 711 366 699 370 707 379 688 379 719 324 723 367 757 323 712 417 767 392 679 298 660 325 675 361 705 370 739 388 741 368 734 328 703 370 712 334 680 328 733 363 754 296 699 364 703 303 762 430 671 330 634 389 708 382 626 299 727 374 695 383 721 338 759 380 718 387 745 327 729 402 633 313 646 399 716 363 672 390 666 313 702 372 714 365 693 343 648 321 626 334 746 353 703 355 615 403 735 437 670 421 693 362 670 407 684 402 763 418 683 362 686 348 789 408 664 360 701 372 784 370 709 382 667 381 715 376 654 334 741 340 625 386 733 356 635 357 775 323 716 435 678 338 695 367 747 383 699 346 702 373 727 357 702 371 735 360 680 340 734 401 585 365 690 397 694 351 652 335 649 317 778 377 691 410 698 397 688 365 632 359 771 365 709 391 727 415 662 367 672 365 723 398 710 326 607 407 724 345 738 381 712 396 714 280 731 414 671 380 687 365 691 359 809 365 727 390 737 375 654 292 685 386 711 370 664 364 728 382 658 374 677 337 730 280 668 384 664 400 747 417 710 324 686 363 752 328 751 378 669 303 702 360 729 374 686 366 657 392 721 392 690 323 689 421 751 357 788 312 729 359 767 321 720 384 715 370 592 387 726 373 690 329 705 382 657 385 705 364 776 393 809 344 693 367 706 357 672 343 605 411 635 412 664 328 637 372 612 373 690 362 691 364 713 373 667 413 716 418 718 386 644 359 688 309 685 313 651 386 701 403 650 429 767 379 689 407 800 405 694 391 674 369 735 414 693 368 722 358 707 366 706 354 748 425 682 421 678 374 722 368 701 380 758 359 712 354 692 358 732 367 694 354 712 345 714 382 710 353 672 365 729 359 678 426 697 380 712 329 704 350 673 366 676 375 731 370 704 384 679 395 729 398 734 343 715 384 676 345 767 438 708 367 704 366 697 363 638 350 692 423 713 314 710 409 671 371 704 411 703 348 683 380 761 366 807 330 734 407 670 362 713 332 732 368 712 344 665 323 696 366 748 365 709 311 752 391 718 371 704 364 699 384 792 426 719 359 696 362 711 406 702 379 714 324 671 340 698 387 690 326 715 362 734 444 622 390 675 384 712 346 705 361 741 391 699 381 709 360 716 453 701 347 663 382 697 357 699 367 704 368 681 343 701 347 748 369 677 353 747 381 681 384 774 383 696 308 733 430 650 374 742 359 737 349 730 327 666 365 700 402 699 349 701 374 643 357 672 343 714 372 715 362 706 360 691 425 718 349 700 411 658 364 700 323 697 367 649 359 766 356 725 332 742 374 702 346 651 395 686 311 687 389 595 348 639 385 642 349 722 347 730 349 672 365 696 306 666 372 717 372 732 347 732 399 697 343 698 369 719 395 724 356 658 446 679 350 792 363 718 355 615 326 601 330 742 393 722 376 701 376 779 310 658 352 693 352 725 336 702 366 673 393 748 353 734 398 601 410 767 370 672 349 644 364 691 377 720 420 752 371 716 359 703 369 692 371 679 373 714 349 695 371 681 375 716 360 711 367 704 359 702 371 688 376 688 377 710 359 706 353 698 376 715 362 713 363 700 349 711 377 703 362 697 373 700 362 687 373 682 368 693 369 700 362 722 376 710 373 709 354 706 371 694 360 699 363 697 373 701 369 692 382 710 377 700 376 698 370 702 376 716 364 716 377 701 364 698 361 708 365 683 361 687 365 704 348 711 378 697 369 705 368 691 376 696 367 694 357 690 356 698 375 709 378 710 369 725 374 716 369 703 364 684 367 716 370 704 361 704 363 705 376 707 358 710 384 699 352 705 375 696 363 688 352 693 376 703 363 709 377 703 363 705 378 698 366 705 373 701 364 707 374 699 377 702 368 711 370 701 375 698 352 707 369 696 362 706 369 704 386 689 365 680 366 705 361 686 361 718 380 701 362 698 359 708 369 687 361 727 368 707 367 705 372 694 366 702 363 701 365 706 368 693 372 690 362 716 347 696 357 695 357 690 375 688 379 722 377 693 343 683 371 702 362 698 367 686 357 689 367 698 370 696 357 710 377 698 362 706 351 702 373 696 381 694 363 713 365 715 371 721 366 705 373 712 373 689 357 718 366 689 359 714 382 688 377 705 354 718 368 702 355 689 356 700 353 714 372 699 369 701 360 703 364 690 379 725 375 714 366 762 366 671 369 592 366 767 368 716 366 648 368 618 368 666 368 805 366 654 366 677 367 591 368 796 368 738 366 794 368 661 366 735 367 670 369 640 367 713 368" fill="none" stroke="none" marker-start="url(#k15)" marker-mid="url(#k15)" marker-end="url(#k15)"/>
</g>
<line x1="291.9" y1="138.5" x2="291.9" y2="228.1" stroke="#909090" stroke-width="1.3"/>
<line x1="407.5" y1="138.5" x2="407.5" y2="228.1" stroke="#909090" stroke-width="1.3"/>
<line x1="291.9" y1="228.1" x2="407.5" y2="228.1" stroke="#909090" stroke-width="1.3"/>
<line x1="290" y1="262.88" x2="407.5" y2="262.88" stroke="#ededed" stroke-width="0.7"/>
<line x1="290" y1="271.52" x2="407.5" y2="271.52" stroke="#ededed" stroke-width="0.7"/>
<line x1="290" y1="280.16" x2="407.5" y2="280.16" stroke="#ededed" stroke-width="0.7"/>
<line x1="290" y1="288.79" x2="407.5" y2="288.79" stroke="#ededed" stroke-width="0.7"/>
<line x1="290" y1="297.43" x2="407.5" y2="297.43" stroke="#ededed" stroke-width="0.7"/>
<line x1="290" y1="306.06" x2="407.5" y2="306.06" stroke="#ededed" stroke-width="0.7"/>
<line x1="290" y1="314.69" x2="407.5" y2="314.69" stroke="#ededed" stroke-width="0.7"/>
<line x1="290" y1="323.33" x2="407.5" y2="323.33" stroke="#ededed" stroke-width="0.7"/>
<line x1="290" y1="331.97" x2="407.5" y2="331.97" stroke="#ededed" stroke-width="0.7"/>
<line x1="301.75" y1="254.25" x2="301.75" y2="340.6" stroke="#ededed" stroke-width="0.7"/>
<line x1="313.5" y1="254.25" x2="313.5" y2="340.6" stroke="#ededed" stroke-width="0.7"/>
<line x1="325.25" y1="254.25" x2="325.25" y2="340.6" stroke="#ededed" stroke-width="0.7"/>
<line x1="337" y1="254.25" x2="337" y2="340.6" stroke="#ededed" stroke-width="0.7"/>
<line x1="348.75" y1="254.25" x2="348.75" y2="340.6" stroke="#ededed" stroke-width="0.7"/>
<line x1="360.5" y1="254.25" x2="360.5" y2="340.6" stroke="#ededed" stroke-width="0.7"/>
<line x1="372.25" y1="254.25" x2="372.25" y2="340.6" stroke="#ededed" stroke-width="0.7"/>
<line x1="384" y1="254.25" x2="384" y2="340.6" stroke="#ededed" stroke-width="0.7"/>
<line x1="395.75" y1="254.25" x2="395.75" y2="340.6" stroke="#ededed" stroke-width="0.7"/>
<text x="288.5" y="255.55" font-size="4.3" text-anchor="end" fill="#707070">1</text>
<text x="288.5" y="264.19" font-size="4.3" text-anchor="end" fill="#707070">0.8</text>
<text x="288.5" y="272.82" font-size="4.3" text-anchor="end" fill="#707070">0.6</text>
<text x="288.5" y="281.46" font-size="4.3" text-anchor="end" fill="#707070">0.4</text>
<text x="288.5" y="290.09" font-size="4.3" text-anchor="end" fill="#707070">0.2</text>
<text x="288.5" y="298.73" font-size="4.3" text-anchor="end" fill="#707070">0</text>
<text x="288.5" y="307.36" font-size="4.3" text-anchor="end" fill="#707070">-0.2</text>
<text x="288.5" y="316" font-size="4.3" text-anchor="end" fill="#707070">-0.4</text>
<text x="288.5" y="324.63" font-size="4.3" text-anchor="end" fill="#707070">-0.6</text>
<text x="288.5" y="333.27" font-size="4.3" text-anchor="end" fill="#707070">-0.8</text>
<text x="288.5" y="341.9" font-size="4.3" text-anchor="end" fill="#707070">-1</text>
<text x="290" y="346.1" font-size="4.3" text-anchor="middle" fill="#707070">-2</text>
<text x="301.75" y="346.1" font-size="4.3" text-anchor="middle" fill="#707070">-1.8</text>
<text x="313.5" y="346.1" font-size="4.3" text-anchor="middle" fill="#707070">-1.6</text>
<text x="325.25" y="346.1" font-size="4.3" text-anchor="middle" fill="#707070">-1.4</text>
<text x="337" y="346.1" font-size="4.3" text-anchor="middle" fill="#707070">-1.2</text>
<text x="348.75" y="346.1" font-size="4.3" text-anchor="middle" fill="#707070">-1</text>
<text x="360.5" y="346.1" font-size="4.3" text-anchor="middle" fill="#707070">-0.8</text>
<text x="372.25" y="346.1" font-size="4.3" text-anchor="middle" fill="#707070">-0.6</text>
<text x="384" y="346.1" font-size="4.3" text-anchor="middle" fill="#707070">-0.4</text>
<text x="395.75" y="346.1" font-size="4.3" text-anchor="middle" fill="#707070">-0.2</text>
<text x="407.5" y="346.1" font-size="4.3" text-anchor="middle" fill="#707070">0</text>
<g transform="scale(0.5)">
<path d="M783 573 711 643 639 651 692 597 758 649 707 622 765 593 782 588 732 620 655 568 739 579 651 612 759 572 730 557 607 576 704 565 733 659 683 625 668 643 770 547 739 587 780 634 706 527 707 601 763 599 763 618 616 632 760 660 670 566 716 638 641 625 687 599 621 557 725 580 723 662 730 590 691 588 617 615 629 571 663 631 656 650 718 527 630 629 615 622 726 603 775 552 679 603 617 606 677 558 751 546 772 560 715 633 699 659 638 576 622 640 626 619 681 554 746 565 659 641 699 544 702 645 689 524 767 645 692 534 730 662 619 592 641 634 741 565 719 616 787 595 725 595 733 539 704 593 731 526 692 634 717 648 709 557 773 641 681 581 752 614 691 548 676 633 649 567 661 572 672 630 766 551 762 627 770 583 755 568 760 539 672 611 696 652 691 577 759 606 722 533 704 613 652 576 730 550 659 635 610 603 675 607 656 657 668 628 710 616 665 591 786 575 666 619 714 539 689 517 644 595 756 535 716 625 688 555 784 609 782 599 664 602 692 664 712 624 610 590 657 596 681 549 640 551 623 613 720 654 774 585 698 595 712 574 665 549 725 586 631 576 772 599 619 570 685 610 750 591 781 562 742 616 650 550 698 631 642 586 705 541 741 626 737 561 746 584 672 664 623 561 679 653 708 673 743 634 679 571 617 587 656 620 658 549 744 547 759 617 708 665 649 534 655 626 756 625 744 578 749 637 658 529 647 591 765 575 631 642 703 636 605 610 681 647 731 651 613 584 684 563 611 577 602 605 672 559 637 622 640 617 757 598 738 645 699 557 672 603 676 543 719 661 648 604 686 577 771 590 788 602 706 585 698 529 642 657 727 630 620 580 705 641 632 625 663 636 616 558 697 573 689 572 683 597 766 625 638 600 653 541 664 659 674 625 751 609 682 525 777 595 778 569 626 595 660 624 711 635 695 602 605 580 608 599 767 562 720 594 711 654 769 556 655 585 754 586 656 554 642 644 778 638 745 592 668 588 764 569 760 590 636 565 718 573 697 643 654 590 697 664 646 640 708 551 792 603 738 613 728 608 782 603 736 608 681 589 669 654 733 598 617 549 677 584 727 534 750 577 654 547 688 615 741 554 630 567 759 561 762 639 777 557 670 607 644 563 762 545 621 603 623 577 650 621 655 636 778 626 652 526 638 584 751 537 718 609 727 648 646 552 648 572 728 639 787 628 761 555 710 529 768 632 649 651 750 628 624 567 769 570 748 602 666 538 744 623 740 527 677 538 742 654 625 557 776 574 687 655 629 554 747 542 694 545 753 553 635 633 628 610 672 528 671 552 697 610 733 547 766 608 696 563 782 629 713 521 672 576 726 573 683 631 697 580 785 614 664 526 644 569 720 557 722 544 773 620 717 589 740 537 642 579 645 544 683 614 746 662 701 655 661 615 719 601 743 641 707 658 722 575 673 592 734 565 661 536 663 609 696 524 742 543 700 536 761 550 743 572 757 621 664 558 729 541 632 543 663 663 634 557 636 627 689 563 703 605 620 597 718 545 675 532 716 665 752 647 702 629 710 592 795 609 643 606 661 583 679 638 659 541 663 596 795 584 694 555 616 566 688 643 684 620 656 559 740 601 728 529 639 538 627 544 715 566 716 585 752 532 787 618 724 569 657 661 690 538 768 616 788 585 713 582 724 616 733 577 744 604 664 545 631 603 735 582 745 630 727 525 726 635 635 548 787 566 731 562 755 593 678 578 687 647 740 660 708 576 773 626 776 565 727 620 721 666 698 647 741 592 704 548 757 577 676 525 739 606 735 638 660 563 610 625 722 605 689 626 708 597 706 632 687 543 756 545 663 531 718 562 686 538 676 519 618 554 695 616 705 651 756 630 624 628 648 541 613 601 698 587 688 568 736 530 689 605 634 614 695 538 644 628 688 533 606 591 732 572 778 549 631 637 694 585 733 615 785 624 686 549 654 607 645 618 714 601 670 572 674 657 745 650 703 576 747 534 652 629 637 593 727 612 694 592 653 616 696 673 703 553 751 562 781 579 643 611 667 623 652 642 610 619 725 657 669 547 654 536 718 642 714 607 623 633 755 637 769 638 647 529 665 574 689 668 702 523 683 592 793 616 696 627 674 597 694 601 692 600 701 581 632 606 683 581 701 655 753 578 643 629 704 593 766 591 704 619 774 646 732 643 715 564 634 606 673 604 681 552 642 598 716 534 725 597 739 610 689 585 735 610 729 623 683 600 704 586 681 660 696 608 699 580 746 540 713 605 764 590 638 555 729 615 695 579 706 589 608 614 701 592 708 615 712 653 693 615 722 648 701 612 645 602 745 594 675 605 668 589 727 593 674 607 685 608 697 603 701 592 624 601 648 578 684 588 739 597 723 576 670 645 667 532 698 582 718 592 691 605 742 639 711 587 795 573 731 607 683 584 708 580 699 621 646 587 685 584 708 579 661 579 705 604 655 592 730 605 751 620 722 579 654 606 715 603 725 604 767 572 660 581 636 623 710 604 689 554 755 530 647 659 692 617 699 598 686 593 710 623 671 557 669 585 681 576 688 571 788 634 678 606 679 607 632 586 681 588 698 605 727 596 702 665 710 599 730 590 663 594 691 581 607 600 686 596 706 586 707 563 702 600 689 587 746 578 715 638 690 547 674 590 644 555 628 536 730 593 695 591 744 600 644 601 722 578 658 592 671 594 744 613 704 609 699 575 684 578 704 589 765 646 618 637 740 588 687 609 677 616 691 596 680 596 691 616 674 578 698 642 668 592 730 635 604 579 723 569 699 609 700 593 705 603 746 604 698 611 667 589 685 613 706 602 700 592 690 569 685 616 739 609 704 591 656 571 640 551 660 608 696 572 700 616 713 551 661 660 695 521 636 597 700 591 709 557 706 602 720 669 673 583 720 583 696 590 739 605 757 598 700 571 720 586 712 579 714 586 706 632 685 588 746 580 743 611 645 574 739 571 703 572 678 616 734 574 639 594 700 587 673 589 764 555 788 615 691 580 713 613 672 627 683 562 660 573 711 591 679 606 713 595 727 607 732 569 734 601 699 612 705 578 717 608 691 606 722 575 692 588 669 617 724 587 686 583 722 607 723 574 685 555 685 593 685 577 674 603 723 600 715 556 643 602 698 600 732 583 778 548 694 579 687 610 694 581 651 621 688 608 668 607 677 568 701 617 722 624 669 549 699 598 702 599 700 532 721 592 640 571 697 649 717 601 724 613 704 609 719 593 717 612 676 623 696 558 759 621 688 576 734 522 778 622 714 622 735 622 739 576 698 591 705 589 659 603 679 616 702 558 735 586 699 614 724 563 723 583 718 553 709 581 648 558 695 620 686 588 715 598 710 647 666 608 691 623 657 609 630 628 732 564 666 607 713 519 695 589 663 579 614 629 691 590 687 558 723 606 775 632 716 571 714 583 688 598 751 560 682 625 705 557 723 619 703 619 655 559 710 572 704 602 736 603 746 542 623 640 704 640 701 591 709 613 703 588 725 667 711 606 695 591 640 566 716 630 709 591 760 563 673 593 684 593 726 625 712 601 702 593 657 582 701 519 711 592 683 584 676 599 688 604 689 591 695 596 699 585 679 611 720 598 680 588 703 601 689 586 706 582 707 592 711 604 700 599 704 584 685 582 707 597 678 598 704 595 700 584 691 589 679 603 700 588 716 609 703 595 702 572 699 583 706 608 698 594 710 603 704 590 696 599 696 580 695 587 698 600 695 595 704 591 704 596 697 594 700 594 679 585 711 585 692 597 688 593 701 577 684 601 708 591 714 591 692 603 698 592 702 602 687 593 698 589 694 606 703 604 687 594 695 606 698 599 712 589 717 602 707 595 699 602 694 595 704 597 690 590 714 593 706 596 705 594 688 582 700 597 696 581 707 601 712 587 700 586 697 595 699 592 717 597 695 579 716 597 728 600 705 585 685 587 702 583 706 608 699 597 700 594 685 606 703 583 694 594 705 600 689 590 681 597 703 605 700 584 710 597 705 602 682 599 697 582 682 605 723 599 701 592 691 596 713 593 697 589 688 595 703 586 698 598 692 587 708 606 689 594 720 594 704 584 693 580 705 601 683 604 692 597 688 593 700 597 717 609 703 577 694 588 709 608 711 576 702 592 690 584 712 600 701 595 699 597 682 600 694 594 707 607 704 585 701 609 698 596 701 598 706 593 700 601 706 591 703 611 694 597 697 593 713 600 716 596 699 592 685 584 674 604 702 599 705 595 699 613 692 596 714 601 704 591 707 591 698 597 693 591 687 587 700 591 697 582 712 609 711 599 696 601 687 581 702 589 686 582 696 602 708 598 698 580 691 611 705 595 704 599 713 602 698 591 691 588 695 586 705 590 686 592 708 608 698 594 699 603 700 600 707 598 697 599 711 601 721 599 701 575 700 585 714 596 698 594 686 596 687 589 689 584 695 597 686 597 718 603 704 598 714 586 695 595 707 603 703 595 707 596 701 595 699 596 713 590 692 594 704 586 708 591 708 601 702 588 698 597 709 577 710 581 684 604 684 594 700 591 695 585 709 585 705 599 701 586 718 600 699 598 688 593 704 599 693 590 708 594 681 592 716 597 708 593 680 589 699 603 693 594 693 595 681 587 680 596 709 588 703 594 689 596 693 593 703 612 693 588 699 593 691 585 694 605 683 582 712 611 695 594 677 585 685 599 689 590 717 586 712 597 699 603 681 584 690 591 677 585 707 598 699 587 709 580 699 595 670 596 735 594 764 594 732 593 630 594 635 594 765 595 777 595 652 593 772 595 706 595 752 595 774 594 691 594 685 595 700 594 703 594 602 594 657 596 759 594" fill="none" stroke="none" marker-start="url(#k15)" marker-mid="url(#k15)" marker-end="url(#k15)"/>
</g>
<line x1="290" y1="254.25" x2="290" y2="340.6" stroke="#909090" stroke-width="1.3"/>
<line x1="407.5" y1="254.25" x2="407.5" y2="340.6" stroke="#909090" stroke-width="1.3"/>
<line x1="290" y1="340.6" x2="407.5" y2="340.6" stroke="#909090" stroke-width="1.3"/>
<line x1="461" y1="46.54" x2="573.25" y2="46.54" stroke="#ededed" stroke-width="0.7"/>
<line x1="461" y1="60.58" x2="573.25" y2="60.58" stroke="#ededed" stroke-width="0.7"/>
<line x1="461" y1="74.62" x2="573.25" y2="74.62" stroke="#ededed" stroke-width="0.7"/>
<line x1="461" y1="88.67" x2="573.25" y2="88.67" stroke="#ededed" stroke-width="0.7"/>
<line x1="461" y1="102.71" x2="573.25" y2="102.71" stroke="#ededed" stroke-width="0.7"/>
<line x1="479.71" y1="32.5" x2="479.71" y2="116.75" stroke="#ededed" stroke-width="0.7"/>
<line x1="498.42" y1="32.5" x2="498.42" y2="116.75" stroke="#ededed" stroke-width="0.7"/>
<line x1="517.12" y1="32.5" x2="517.12" y2="116.75" stroke="#ededed" stroke-width="0.7"/>
<line x1="535.83" y1="32.5" x2="535.83" y2="116.75" stroke="#ededed" stroke-width="0.7"/>
<line x1="554.54" y1="32.5" x2="554.54" y2="116.75" stroke="#ededed" stroke-width="0.7"/>
<text x="459.5" y="33.8" font-size="4.3" text-anchor="end" fill="#707070">0.6</text>
<text x="459.5" y="47.84" font-size="4.3" text-anchor="end" fill="#707070">0.4</text>
<text x="459.5" y="61.88" font-size="4.3" text-anchor="end" fill="#707070">0.2</text>
<text x="459.5" y="75.92" font-size="4.3" text-anchor="end" fill="#707070">0</text>
<text x="459.5" y="89.97" font-size="4.3" text-anchor="end" fill="#707070">-0.2</text>
<text x="459.5" y="104.01" font-size="4.3" text-anchor="end" fill="#707070">-0.4</text>
<text x="459.5" y="118.05" font-size="4.3" text-anchor="end" fill="#707070">-0.6</text>
<text x="461" y="122.25" font-size="4.3" text-anchor="middle" fill="#707070">-1.6</text>
<text x="479.71" y="122.25" font-size="4.3" text-anchor="middle" fill="#707070">-1.4</text>
<text x="498.42" y="122.25" font-size="4.3" text-anchor="middle" fill="#707070">-1.2</text>
<text x="517.12" y="122.25" font-size="4.3" text-anchor="middle" fill="#707070">-1</text>
<text x="535.83" y="122.25" font-size="4.3" text-anchor="middle" fill="#707070">-0.8</text>
<text x="554.54" y="122.25" font-size="4.3" text-anchor="middle" fill="#707070">-0.6</text>
<text x="573.25" y="122.25" font-size="4.3" text-anchor="middle" fill="#707070">-0.4</text>
<g transform="scale(0.5)">
<path d="M998 202 1059 83 1027 72 1135 127 982 75 1071 224 1044 144 1117 103 1111 162 994 221 951 195 1022 139 982 84 1006 79 1024 187 1091 83 1073 131 963 91 1082 142 982 112 932 141 977 199 1061 127 1061 202 1070 87 1043 84 958 150 1018 98 970 179 1110 172 1097 125 1017 103 974 120 1125 186 1092 156 1079 153 964 158 1084 127 992 96 1006 182 1059 106 1026 193 952 140 1010 189 1086 135 1037 69 1066 143 971 139 993 160 954 105 1012 168 1028 168 1062 76 1025 176 1090 90 969 167 1119 123 1077 139 1106 106 954 116 1135 148 979 166 1085 203 1043 155 1061 89 1082 195 1112 99 1036 122 1038 88 1073 147 1005 170 1048 221 1111 130 993 131 1068 109 1094 102 1059 215 959 156 1119 145 1097 203 1038 227 987 217 989 112 981 129 1142 138 1031 173 982 96 977 157 995 111 1064 153 1018 215 966 171 982 137 1094 199 1029 86 1024 107 1066 133 1007 175 992 79 944 171 935 162 1073 96 1081 182 1043 176 998 214 926 161 1051 120 1023 84 1017 133 1016 159 1038 171 938 152 1086 112 1056 89 1086 197 1099 190 933 125 1104 151 945 113 1004 87 1027 117 1056 139 950 207 1072 171 1029 147 1030 223 1003 104 996 120 992 72 991 149 1020 220 1040 75 1011 135 1121 110 956 183 1103 179 928 129 1014 127 1060 148 1078 125 1027 162 987 137 947 98 960 97 1091 145 981 90 1101 89 1047 115 1111 192 943 125 959 115 1007 211 1094 94 1022 160 1071 158 1011 219 1077 80 1031 109 962 107 1039 185 1010 118 979 213 1103 100 1088 217 1075 178 1048 88 983 183 998 157 1121 140 1100 146 942 159 985 174 1119 128 1047 137 979 206 1112 167 1038 105 1004 116 1085 157 1079 216 1056 190 1114 138 1007 198 952 127 946 145 1093 181 987 126 1084 162 1078 119 1117 157 1055 183 1065 199 1011 112 997 83 1073 209 966 152 998 171 951 162 953 94 1101 162 965 98 1060 98 961 179 1050 193 1050 186 1112 182 985 152 1000 70 1016 82 1094 194 977 98 1098 166 971 187 1081 88 969 134 1048 161 983 193 1101 214 924 155 1013 70 944 132 937 179 949 167 1044 201 989 201 962 125 1123 176 1053 165 1129 132 993 154 1017 115 1067 99 1043 128 1009 146 980 103 942 190 1024 124 977 189 1109 148 969 212 1137 175 1107 199 926 148 1006 192 1016 188 1131 158 1093 165 970 95 1098 98 1039 135 1026 142 941 138 1007 155 1009 91 1019 201 1016 152 1081 132 970 198 1006 221 1101 141 1043 215 995 104 1054 125 1122 154 968 129 1030 98 1078 204 935 118 957 138 1030 203 1107 133 1074 101 1028 93 985 209 934 173 960 163 940 165 976 145 931 152 1008 125 1053 212 1073 198 1031 80 995 144 1129 138 1100 130 1013 95 969 83 934 187 988 94 972 106 1108 117 1016 225 1124 168 1018 172 971 148 1051 179 1044 184 924 142 1005 99 963 211 1079 168 1002 76 1044 171 985 105 988 168 1084 118 1098 155 1034 152 1116 132 1002 177 1063 191 1001 109 968 112 999 99 1068 195 992 174 1034 117 1020 209 1016 194 1086 99 1049 228 1034 163 1038 177 1005 228 1120 116 1032 194 1002 217 1059 162 939 147 1088 191 1034 75 958 191 1046 78 1072 186 1070 114 1089 122 1068 211 1036 93 1054 110 1117 170 1114 109 961 132 1052 78 940 106 1034 158 1059 118 1100 116 1046 100 973 216 999 183 1145 145 1125 122 1037 191 1018 122 1020 149 1079 113 1040 208 1026 212 964 199 1087 177 1072 152 973 153 1105 203 974 173 1051 151 926 174 998 140 1132 178 1051 134 989 189 1053 218 996 90 980 221 964 136 1055 96 960 120 992 86 946 196 1100 199 1059 169 1064 172 1130 186 968 118 990 181 1049 82 962 184 991 106 1123 105 1032 140 1071 70 1105 172 1032 183 975 132 1004 129 1063 110 1106 194 1038 221 1108 126 948 151 1067 182 1013 202 1019 76 971 100 1047 71 1069 104 1068 188 1092 135 929 168 994 137 1052 202 981 146 1010 74 1125 159 959 144 1025 66 1114 198 942 181 998 134 1047 108 967 205 1121 197 1038 111 1134 117 1076 162 1080 99 1067 163 1087 171 1036 146 1095 175 1030 134 1057 131 954 158 1092 112 1066 138 1017 110 950 173 952 133 1113 124 1081 92 1036 212 1107 140 1110 112 1030 67 1029 154 1031 214 1069 124 951 187 1127 164 1022 226 1049 114 1073 152 1005 118 1050 142 958 151 1036 99 1026 209 1014 134 1042 175 1013 159 1043 185 1039 140 1032 152 1025 146 1038 139 1024 83 1002 156 1015 135 1008 140 1052 162 1035 135 1038 151 1019 70 1075 158 1028 154 1041 117 1034 171 1032 158 1032 138 1034 117 1020 197 1044 112 993 148 1061 165 1034 133 1028 148 1113 164 976 92 1033 150 1062 172 1075 106 1038 160 1056 144 1052 142 1000 178 1031 158 1023 139 1046 152 1043 111 1065 218 1092 190 1044 165 1073 136 1008 143 956 165 1037 141 1040 190 1036 138 973 142 1082 101 1062 165 1029 149 976 183 1093 153 983 166 1033 152 1023 87 1037 112 1028 139 986 124 1023 157 1036 161 1002 69 1010 100 1010 164 959 127 975 158 1043 140 1112 172 943 147 1008 136 1017 188 1011 145 997 183 1096 86 988 203 1047 143 1019 153 1088 107 1032 136 1045 152 1065 113 1038 148 996 171 1044 135 1025 143 1075 173 963 182 1017 120 1031 142 1051 202 1013 142 1088 208 1132 175 1035 143 1023 155 1063 114 1042 127 1030 125 1062 158 1007 186 968 176 998 178 1039 177 951 124 1031 141 1008 107 1140 157 1033 148 1043 78 1027 161 1030 152 1049 167 1036 159 1036 165 1037 144 1035 144 1015 126 1028 153 1043 144 1029 136 1036 151 1006 147 1028 162 1027 153 1039 159 1011 148 990 144 1043 143 1012 132 1015 135 1033 152 1072 155 1008 136 1024 142 1029 154 1042 151 1036 163 1036 141 1025 136 1029 161 1042 142 1009 153 1034 154 1021 142 1011 159 1047 158 1050 151 1033 138 1044 142 1037 141 1019 149 1006 146 1025 144 993 145 1039 140 1011 135 1012 147 1024 151 1016 144 1055 137 1033 149 1004 143 1021 144 1039 153 1032 135 1047 146 1027 147 1034 147 1036 136 1017 131 1033 140 1067 149 1037 138 1038 144 1006 152 1037 128 1025 155 1039 154 1025 175 1024 138 1049 144 1044 154 1032 156 1053 148 1028 159 1035 141 1012 144 1039 141 1030 153 1024 139 1031 139 1050 152 1036 161 1052 150 1035 147 1043 171 1042 140 1005 149 1030 160 1026 139 1027 139 1022 165 1042 132 1025 148 1064 160 1014 154 1064 153 1038 147 1051 131 1027 159 1033 139 1026 155 1028 155 1008 153 1062 139 1043 150 1043 139 1008 142 1023 152 1035 158 1047 153 1036 137 1050 137 1007 151 1028 133 1022 141 1027 133 1031 172 1047 157 1050 158 1026 162 1017 138 1028 157 1021 153 1010 152 989 168 1038 162 1063 152 1010 155 1027 153 1011 140 1012 145 1047 148 1028 143 1047 135 1044 151 1038 140 1074 153 1014 144 1021 150 1031 151 1026 143 1027 154 1020 161 1026 141 1034 149 1026 146 1002 134 1032 142 1016 152 1036 145 1046 161 1043 159 1049 145 1068 150 1042 158 1019 146 1028 142 1054 169 1026 140 1029 141 1026 152 1016 177 1032 156 1047 142 1013 140 1025 161 1019 157 1002 145 1010 146 1038 156 1023 152 1004 140 1052 169 1006 148 1024 155 1037 161 1032 143 1000 155 1035 156 1028 164 1033 166 1040 162 1038 144 1025 145 1044 139 1042 149 1057 164 1050 155 1040 152 1020 150 1024 142 1050 162 1010 147 1021 152 1007 160 1018 147 1011 141 1009 132 1025 144 1029 153 1034 143 1016 142 1034 167 1044 149 1017 133 1033 148 1023 155 1038 160 1026 136 1037 140 1038 169 1023 154 1001 146 1018 151 1026 142 1039 134 1034 155 1022 151 1030 149 1056 150 922 149 1005 151 1047 148 1029 150 1015 150 1056 148 980 148 1017 149 943 150 1102 149 942 150 1070 149 1131 149 996 149 965 149 1091 149 1056 150 1011 150 1027 149 1009 150" fill="none" stroke="none" marker-start="url(#k16)" marker-mid="url(#k16)" marker-end="url(#k16)"/>
<path d="M998 205 1060 80 1138 126 982 75 1046 145 1113 163 994 220 951 195 1021 139 983 85 1025 187 1092 82 1071 129 964 92 1081 139 984 112 977 197 1062 125 1062 204 1072 84 1042 83 956 149 1016 97 969 177 1099 125 1017 104 1124 187 1091 154 963 159 1085 129 993 96 1006 183 1059 108 951 138 1088 136 1037 69 1068 142 1029 169 1025 174 1089 92 971 167 1119 123 1075 138 1106 107 1137 147 976 167 1042 156 1060 88 1083 195 1111 101 1039 87 1074 145 1004 169 1048 224 992 130 1095 100 1059 214 1120 144 1097 205 988 217 990 111 978 129 1142 138 1033 174 981 97 980 158 995 111 1063 152 1018 214 963 170 1094 201 1030 83 1024 107 1064 131 1007 177 992 81 935 165 1073 95 1082 183 1044 174 1000 214 927 161 1050 119 1022 86 1017 133 1015 161 1039 169 938 154 1085 112 1055 88 1085 197 1100 192 934 126 1103 152 945 111 1004 88 952 206 1072 172 1001 105 996 120 993 72 990 148 1020 218 1039 75 1012 131 1122 113 955 183 1102 179 930 129 1016 126 1078 124 1026 163 947 98 962 100 1091 147 982 89 1099 87 1047 114 1004 211 1020 158 1071 158 1075 78 961 108 1038 187 1010 117 980 213 1077 175 1050 91 982 183 999 158 1121 142 941 158 983 175 1118 129 1047 138 980 204 1111 167 1036 107 1006 113 1084 158 1077 216 1056 187 1008 199 946 147 988 126 1075 120 1054 182 1008 111 998 85 1071 209 967 151 998 171 954 163 953 96 1101 159 966 100 1059 100 961 179 1051 186 1112 184 987 153 999 72 1015 83 1094 192 977 100 1100 167 972 189 1081 85 1048 162 982 192 1101 213 925 156 1015 71 942 131 937 179 949 166 1043 199 985 198 962 125 1121 177 1129 132 992 156 1018 118 1067 98 1043 129 1010 146 978 104 939 190 1024 126 1111 148 968 212 1137 174 1104 199 1006 189 1014 189 1130 155 1094 165 1097 99 1040 137 1025 141 941 138 1007 156 1009 89 1081 131 970 199 1005 221 1101 141 1044 216 996 103 1056 122 971 127 1032 99 934 117 957 138 1028 203 1107 135 1076 100 1029 94 983 207 933 172 961 164 940 166 976 144 932 152 1008 125 1072 198 1130 138 1098 126 1013 97 970 82 934 184 986 92 971 108 1106 119 1014 224 1124 169 1019 170 971 149 1050 179 1045 185 964 208 1004 75 1042 171 985 105 986 168 1084 117 1098 157 1119 131 1002 176 1062 191 1000 111 968 111 1000 98 1069 194 993 174 1035 117 1020 210 1016 196 1038 173 1006 229 1120 117 1002 214 1059 161 1085 190 1032 76 958 193 1047 78 1072 184 1069 114 1088 122 1065 210 1117 167 1111 111 961 132 1054 80 941 107 1034 161 1098 117 1045 101 1000 184 1039 190 1017 121 1022 148 1038 208 1025 213 964 197 1090 178 1073 152 974 155 1104 205 972 172 1054 148 925 171 1131 180 1052 134 990 185 1053 219 998 88 965 139 1054 95 959 121 942 194 1101 199 1059 169 1130 185 968 116 987 183 1049 82 962 182 1125 105 1031 141 1070 72 1105 173 974 134 1005 130 1063 111 1105 194 1037 221 1107 126 949 150 1065 183 1014 203 1051 73 1070 105 1093 133 927 168 1054 205 982 147 1008 75 1124 157 958 144 1026 66 1111 196 942 184 1049 109 968 204 1121 196 1039 112 1135 118 1074 161 1079 101 1069 162 1035 146 1030 133 1058 134 953 157 1093 112 1066 139 1016 107 950 171 950 134 1113 125 1080 92 1036 213 1110 112 1032 67 1030 152 1031 214 1068 123 950 186 1125 165 1018 226 1050 115 1005 119 1052 144 959 153 1037 99 1027 212 1013 133 1013 161 1045 185 1031 152 1038 138 1025 83 1016 134 1008 139 1053 167 1034 135 1038 152 1074 156 1026 154 1039 117 1033 170 1033 157 1030 138 1033 118 1044 112 993 145 1059 166 1028 147 975 94 1032 151 1061 174 1076 108 1053 142 999 178 1022 138 1045 149 1047 110 1067 218 1044 166 1008 144 957 165 1037 142 1034 139 977 183 983 165 1035 153 1036 111 1029 138 982 125 1025 157 1037 160 1006 69 1012 99 1008 163 961 126 1043 141 1111 172 943 149 1007 137 1017 188 1015 147 1097 87 988 206 1047 143 1020 150 1032 136 1044 154 1065 113 1039 147 997 175 1043 134 1025 144 1074 170 1019 118 1031 143 1010 141 1036 145 1022 152 1043 128 1030 125 1063 160 970 176 1040 175 951 122 1030 143 1139 159 1032 147 1043 76 1028 160 1031 152 1048 167 1036 160 1040 164 1036 143 1036 144 1011 127 1027 153 1032 136 1034 152 1005 149 1026 152 1040 158 987 143 1045 142 1014 135 1033 152 1074 156 1010 135 1023 144 1028 153 1042 150 1023 137 1028 160 1043 140 1033 155 1022 140 1011 159 1033 138 1043 142 1036 144 1020 153 1007 147 1027 144 993 144 1012 133 1012 147 1025 150 1017 145 1052 137 1031 148 1023 143 1040 151 1033 134 1046 145 1026 147 1034 145 1037 139 1018 133 1034 139 1066 149 1038 135 1041 143 1004 152 1036 128 1024 155 1038 153 1025 175 1048 144 1043 152 1030 156 1052 148 1028 159 1034 142 1039 141 1030 156 1026 139 1032 139 1036 163 1051 152 1034 145 1045 173 1041 140 1031 156 1025 138 1027 138 1043 133 1024 147 1014 153 1064 152 1039 146 1028 157 1033 140 1027 155 1027 154 1007 156 1060 141 1044 150 1044 140 1010 141 1025 153 1035 156 1047 152 1036 137 1049 137 1009 150 1033 131 1023 140 1026 132 1049 159 1025 162 1019 140 1023 151 1012 150 989 169 1039 162 1062 153 1008 153 1029 153 1047 148 1028 141 1048 135 1038 141 1073 152 1015 144 1021 151 1032 153 1026 143 1019 163 1026 142 1035 149 1032 140 1012 152 1035 146 1046 162 1042 160 1046 146 1043 158 1020 148 1055 168 1026 140 1027 151 1015 176 1035 155 1048 145 1010 139 1024 162 1018 158 1002 144 1013 145 1025 149 1005 140 1051 169 1005 150 1023 155 1036 164 1032 140 1035 154 1027 161 1032 169 1038 146 1024 146 1043 151 1056 164 1050 155 1044 152 1018 152 1022 142 1011 151 1024 153 1007 159 1019 147 1012 141 1030 152 1036 144 1019 133 1034 149 1024 158 1039 160 1028 133 1039 140 1025 156 1000 147 1018 154 1026 142 1039 137 1034 155 1022 150 1031 152 922 149 1006 151 1049 150 1032 148 1015 153 1057 145 1018 147 942 152 1102 148 1065 148 1130 149 995 147 964 150 1057 149 1012 148 1027 149 1011 148" fill="none" stroke="none" marker-start="url(#k17)" marker-mid="url(#k17)" marker-end="url(#k17)"/>
</g>
<rect x="511.6" y="32.1" width="59.65" height="22.3" fill="#fff"/>
<circle cx="515.6" cy="38.1" r="1.3" stroke="#6a5cff" stroke-width="0.8" fill="none"/>
<circle cx="515.6" cy="49.4" r="1.1" fill="#ff0000"/>
<text x="522.95" y="41.7" font-size="9.2" font-weight="bold" textLength="12.6" lengthAdjust="spacingAndGlyphs">CL</text>
<text x="522.95" y="53" font-size="9.2" font-weight="bold" textLength="48.8" lengthAdjust="spacingAndGlyphs">BCL (Ours)</text>
<line x1="573.25" y1="32.5" x2="573.25" y2="116.75" stroke="#909090" stroke-width="1.3"/>
<line x1="461" y1="116.75" x2="573.25" y2="116.75" stroke="#909090" stroke-width="1.3"/>
<line x1="463" y1="155.6" x2="575" y2="155.6" stroke="#ededed" stroke-width="0.7"/>
<line x1="463" y1="165.8" x2="575" y2="165.8" stroke="#ededed" stroke-width="0.7"/>
<line x1="463" y1="176" x2="575" y2="176" stroke="#ededed" stroke-width="0.7"/>
<line x1="463" y1="186.2" x2="575" y2="186.2" stroke="#ededed" stroke-width="0.7"/>
<line x1="463" y1="196.4" x2="575" y2="196.4" stroke="#ededed" stroke-width="0.7"/>
<line x1="463" y1="206.6" x2="575" y2="206.6" stroke="#ededed" stroke-width="0.7"/>
<line x1="463" y1="216.8" x2="575" y2="216.8" stroke="#ededed" stroke-width="0.7"/>
<line x1="477" y1="145.4" x2="477" y2="227" stroke="#ededed" stroke-width="0.7"/>
<line x1="491" y1="145.4" x2="491" y2="227" stroke="#ededed" stroke-width="0.7"/>
<line x1="505" y1="145.4" x2="505" y2="227" stroke="#ededed" stroke-width="0.7"/>
<line x1="519" y1="145.4" x2="519" y2="227" stroke="#ededed" stroke-width="0.7"/>
<line x1="533" y1="145.4" x2="533" y2="227" stroke="#ededed" stroke-width="0.7"/>
<line x1="547" y1="145.4" x2="547" y2="227" stroke="#ededed" stroke-width="0.7"/>
<line x1="561" y1="145.4" x2="561" y2="227" stroke="#ededed" stroke-width="0.7"/>
<text x="461.5" y="146.7" font-size="4.3" text-anchor="end" fill="#707070">0.8</text>
<text x="461.5" y="156.9" font-size="4.3" text-anchor="end" fill="#707070">0.6</text>
<text x="461.5" y="167.1" font-size="4.3" text-anchor="end" fill="#707070">0.4</text>
<text x="461.5" y="177.3" font-size="4.3" text-anchor="end" fill="#707070">0.2</text>
<text x="461.5" y="187.5" font-size="4.3" text-anchor="end" fill="#707070">0</text>
<text x="461.5" y="197.7" font-size="4.3" text-anchor="end" fill="#707070">-0.2</text>
<text x="461.5" y="207.9" font-size="4.3" text-anchor="end" fill="#707070">-0.4</text>
<text x="461.5" y="218.1" font-size="4.3" text-anchor="end" fill="#707070">-0.6</text>
<text x="461.5" y="228.3" font-size="4.3" text-anchor="end" fill="#707070">-0.8</text>
<text x="463" y="232.5" font-size="4.3" text-anchor="middle" fill="#707070">-1.8</text>
<text x="477" y="232.5" font-size="4.3" text-anchor="middle" fill="#707070">-1.6</text>
<text x="491" y="232.5" font-size="4.3" text-anchor="middle" fill="#707070">-1.4</text>
<text x="505" y="232.5" font-size="4.3" text-anchor="middle" fill="#707070">-1.2</text>
<text x="519" y="232.5" font-size="4.3" text-anchor="middle" fill="#707070">-1</text>
<text x="533" y="232.5" font-size="4.3" text-anchor="middle" fill="#707070">-0.8</text>
<text x="547" y="232.5" font-size="4.3" text-anchor="middle" fill="#707070">-0.6</text>
<text x="561" y="232.5" font-size="4.3" text-anchor="middle" fill="#707070">-0.4</text>
<text x="575" y="232.5" font-size="4.3" text-anchor="middle" fill="#707070">-0.2</text>
<g transform="scale(0.5)">
<path d="M990 405 989 368 1113 364 996 419 1012 358 1050 440 1006 318 1121 373 1015 329 972 369 951 387 977 348 1124 341 1003 391 1083 313 1122 378 971 387 1137 364 979 400 1129 359 1006 396 1029 329 1075 316 937 372 1133 347 1022 301 1017 441 1068 428 1039 385 1052 324 1034 380 1059 419 1087 396 1037 434 977 336 962 422 1080 377 1065 388 1010 336 946 354 1091 386 1026 384 1115 339 1091 409 1030 425 973 351 977 409 1009 364 1094 367 999 408 1113 381 995 316 971 362 944 371 1076 397 1018 317 1090 357 1058 375 984 320 1051 396 1028 339 1065 327 1061 346 1030 349 967 410 1009 300 1026 361 1082 356 984 309 1037 356 1023 354 958 402 1103 366 987 394 943 398 984 386 1029 433 938 388 966 375 1121 390 1115 393 1010 409 955 393 1065 363 1030 404 1074 415 1003 425 1088 427 1120 404 1124 411 1013 308 967 391 1000 317 1133 374 1044 346 1080 370 1050 384 1007 431 1063 404 1066 319 995 385 1086 378 995 331 973 393 1004 378 1003 367 1056 346 996 308 961 414 1060 390 990 384 954 365 1055 339 1019 307 940 354 1047 370 1111 418 1021 445 1135 399 1107 360 1053 436 1114 406 1059 396 1043 413 1027 314 1021 381 1003 435 998 427 1012 418 1117 325 1037 301 1061 370 966 397 1056 409 958 335 1072 307 997 372 1093 398 1063 423 1105 350 1142 361 992 321 1061 433 1016 339 1054 379 961 322 1105 396 954 341 952 402 1016 365 1053 424 942 362 962 378 944 340 990 313 982 410 1099 405 1115 375 970 338 1138 379 1107 375 1077 427 1111 351 1069 300 1008 374 961 384 1119 365 1080 343 1036 368 1023 376 1096 383 1042 432 1017 349 1069 379 1134 389 976 320 1037 401 1121 385 992 359 1061 444 1043 361 1012 393 1081 411 1082 419 1006 347 1043 390 1144 353 1079 438 1092 340 1006 385 1071 314 1035 337 1085 360 1094 316 1104 384 1106 419 1082 330 1076 404 964 404 953 351 1031 370 991 427 1008 328 1031 310 1099 351 1012 344 1046 310 970 345 981 391 972 418 997 391 1048 401 1073 420 993 398 985 366 1053 356 1045 436 1076 351 1058 301 958 389 1103 412 1129 402 967 327 1018 421 1014 374 951 370 962 328 1013 385 1086 322 1032 416 1046 377 1035 362 938 382 993 414 1045 300 998 414 1042 406 1109 412 975 375 952 357 1072 340 1065 312 1006 310 983 337 1104 425 1061 315 971 311 1047 445 944 391 1099 331 974 382 953 410 982 375 987 378 1107 312 1029 391 1027 419 990 419 1107 401 971 333 997 337 1017 427 1099 377 1080 364 1119 353 1108 320 1001 344 1131 369 953 377 1071 361 1083 433 1028 323 1108 340 1003 373 1046 353 986 344 1038 342 984 422 998 435 984 354 1060 324 1097 338 972 425 1077 302 1096 345 1001 328 1082 384 1045 324 1063 375 1033 320 1107 330 1031 439 1086 304 1053 415 962 343 1118 360 1034 296 1032 398 1089 365 1046 422 1097 414 1145 372 993 340 1082 427 1060 383 957 407 1140 392 1034 394 1056 368 1130 412 1046 294 1054 310 1051 362 965 368 1028 295 1055 385 1041 308 1004 359 966 425 1005 404 1016 413 1134 356 994 353 1033 389 1099 423 1067 413 993 434 1020 431 1038 417 1025 410 1061 355 1086 370 1086 345 1042 318 1013 324 1138 372 1040 443 965 360 1111 356 1004 414 1048 304 1047 429 1086 336 1073 382 1128 346 1070 440 1039 377 1040 426 1024 435 1140 383 1069 346 945 349 967 383 1093 351 1095 305 1109 369 1053 316 1119 411 1130 391 1033 445 962 351 1069 400 1118 348 1015 298 978 359 956 328 1102 321 1055 400 1000 303 978 387 1024 307 961 356 1082 406 1123 334 1067 306 979 365 1113 344 949 336 1009 443 1077 359 1096 324 1121 417 1023 344 997 403 1093 372 1050 374 1066 437 1101 357 984 415 971 399 1024 319 1116 399 1019 401 1073 334 1067 338 1023 425 1125 355 1023 388 990 326 977 342 979 425 1145 381 1032 301 1075 432 978 432 1070 371 973 327 1127 375 1103 341 968 320 1014 431 1067 357 1029 354 1020 326 1058 334 1009 423 1100 390 1008 354 1059 309 1134 341 958 373 1067 419 987 401 1074 323 1071 353 1120 329 1059 438 1001 351 932 378 988 350 1018 392 934 366 989 411 1082 398 1130 384 942 379 1013 315 1088 327 1113 423 1050 340 1002 313 982 326 1108 388 1071 387 1021 331 1079 309 937 394 1108 428 1012 350 1073 444 1092 373 990 394 967 362 1044 379 1001 350 984 379 991 392 1058 366 1002 344 1055 368 999 325 990 372 1037 369 1050 368 1031 425 1036 390 1092 377 1039 324 1046 383 1078 422 1013 374 987 364 1004 388 1054 332 1022 365 1012 363 940 370 980 431 1012 393 1071 415 1032 426 1049 376 1074 373 1082 331 1041 352 999 368 1036 362 991 365 1034 363 1061 407 1005 395 1062 381 1040 374 983 323 1120 347 1034 349 1010 380 1032 395 984 412 1097 368 1023 386 1048 372 991 355 1047 318 1033 417 1006 353 1035 370 1041 364 1033 365 1054 366 1024 382 1033 389 1028 392 1040 377 1018 384 1061 368 988 424 1032 404 969 371 1025 357 1033 382 997 374 1049 375 1103 367 1057 395 1029 388 1072 376 1065 395 1019 369 1025 397 1039 361 1020 387 1112 389 1023 370 1055 344 1023 383 1045 426 1049 341 1046 351 977 389 1029 385 1019 361 992 372 1050 360 984 384 1012 377 1040 370 1069 324 1041 370 1063 314 1044 395 1015 359 1064 375 1056 397 1037 340 959 412 987 391 1069 370 1084 347 1015 343 1040 365 1078 367 1057 322 1043 375 1018 355 1025 394 1032 350 1049 341 1049 369 1124 421 1039 368 1026 354 1043 371 1060 361 1082 392 1026 371 1043 364 1072 388 993 366 1035 375 1035 378 1052 373 1052 359 1024 364 1038 376 1032 382 1035 358 1030 372 1049 366 1046 364 1031 376 1044 372 1033 374 1054 371 1044 368 1010 366 1035 350 1040 398 1022 364 1031 361 1057 382 1035 363 1023 361 1058 371 1043 371 1072 358 1049 378 1060 366 1074 374 1034 376 1046 381 1030 358 1030 370 1051 363 1016 351 1069 358 1026 359 1048 360 1047 356 1032 357 1025 370 1032 373 1028 370 1039 366 1051 360 1029 361 1026 370 1023 364 1040 371 1025 364 1025 365 1024 371 1036 371 1031 370 1028 385 1026 360 1043 372 1061 350 1045 381 1060 372 1028 371 1009 378 1073 381 1040 379 1012 384 1025 379 1052 363 1022 365 1053 379 1027 374 1028 370 1028 379 1047 371 1068 379 1022 373 1044 377 1056 382 1029 377 1060 374 1035 368 1038 374 1040 376 1060 370 1039 374 1059 368 1039 358 1035 377 1065 355 1034 358 1041 379 1031 370 1050 375 1029 364 1054 384 1034 357 1040 367 1031 373 1028 391 1043 377 1038 357 1044 379 1060 373 1022 368 1035 381 1038 389 1006 357 1049 359 1029 377 1045 361 1036 360 1059 362 1034 361 1058 366 1044 384 1049 355 1042 369 1077 347 1028 376 1025 357 1017 348 1059 382 1009 371 1026 370 1019 364 1050 370 1034 378 1059 365 1062 374 1058 364 1030 363 1052 374 1053 373 1033 359 1041 366 1029 371 1042 374 1053 380 1029 363 1050 385 1061 355 1059 374 1018 382 1019 393 1033 374 1032 360 1028 381 1031 383 1063 368 1047 370 1032 377 1031 368 1046 383 1034 354 1035 370 1063 379 1016 362 1048 378 1036 366 1030 352 998 364 1031 366 1049 368 1044 363 1018 380 1035 358 1042 354 1037 366 1030 374 1040 376 1027 375 1026 372 1055 366 1016 378 1021 370 1032 340 1041 376 1043 367 1053 358 1045 376 1064 378 1052 373 1034 381 1043 364 990 365 1020 381 1029 379 1028 366 1023 358 1012 368 1032 382 1012 372 1043 370 1058 374 1063 370 1056 367 1052 359 1038 374 1033 373 1042 395 1051 364 1033 380 1033 376 1050 365 1049 375 1033 379 1032 351 1020 377 1024 379 1021 377 1030 371 1032 372 1080 370 1112 371 1112 371 956 373 1134 371 955 371 944 371 1078 372 1050 370 1037 371 943 371 1048 370 1007 373 987 370 1076 371 993 371 963 372 1081 372 944 372 1032 371 1056 372" fill="none" stroke="none" marker-start="url(#k16)" marker-mid="url(#k16)" marker-end="url(#k16)"/>
<path d="M989 408 1115 362 998 421 1013 359 1049 441 1008 317 1123 374 1016 327 970 367 951 386 980 348 1001 390 1084 315 1122 378 1136 362 981 398 1009 395 1076 315 1132 349 1022 300 1017 440 1068 426 1037 387 1054 326 1036 381 1060 416 1087 396 1035 433 976 335 961 422 1078 377 1066 387 1009 338 948 353 1091 387 1027 382 1113 340 1093 410 972 350 975 409 1007 365 1092 367 999 407 1112 380 993 314 972 361 945 371 1017 317 1091 355 1059 375 1031 339 1064 324 1058 348 1032 350 968 409 1007 301 1027 359 1037 358 1022 355 959 404 1103 364 982 386 1031 436 967 376 1121 391 1117 393 1012 410 953 393 1066 360 1031 405 1073 416 1002 424 1086 427 1121 404 1125 410 1013 307 969 391 999 318 1045 344 1011 431 1064 404 1065 319 993 384 994 331 973 395 1003 380 1002 365 998 310 963 412 1059 390 991 384 954 363 1053 338 1018 308 1044 369 1109 416 1135 399 1107 358 1111 408 1059 397 1044 413 1027 314 1022 382 1001 436 998 428 1013 419 1036 300 1060 374 966 398 1054 410 1095 400 1106 348 1140 362 993 321 1015 338 1052 380 961 321 1103 395 958 342 953 403 1054 425 941 363 960 377 944 340 990 314 1117 375 1137 376 1108 375 1075 424 1110 353 1071 301 1009 376 962 384 1119 366 1080 344 1034 367 1024 375 1018 351 1134 390 1037 400 1121 384 990 358 1080 409 1079 417 1005 348 1142 355 1093 338 1006 387 1070 312 1092 317 1103 384 1106 418 1081 328 1073 404 964 403 952 349 1031 370 1009 330 1034 309 1097 351 1012 346 1046 310 971 345 970 421 997 393 1046 401 985 368 1051 356 1079 350 968 328 1017 420 949 370 961 328 1013 383 1031 415 1036 362 937 383 992 413 1045 303 1001 412 1039 405 1107 411 954 356 1071 339 1006 311 1105 425 1060 314 970 313 1044 446 946 392 1099 329 974 377 953 410 988 379 1106 313 1031 392 1024 419 972 334 998 335 1018 428 1116 353 1111 319 1001 342 1131 370 952 376 1082 433 1028 322 1003 375 1044 352 983 344 1039 345 980 353 1098 336 971 423 1080 304 1001 329 1081 384 1045 324 1066 374 1034 320 1029 439 1088 305 1054 412 962 343 1037 295 1032 397 1089 364 1045 420 1096 414 1143 373 992 341 1079 426 1062 383 953 407 1056 369 1048 296 1055 307 1050 362 968 366 1028 294 1056 385 1038 309 1003 361 1015 413 1134 355 994 355 1034 389 1098 423 1067 412 993 433 1037 417 1023 409 1060 355 1084 370 1041 316 1012 323 1137 373 1039 443 967 358 1003 413 1050 305 1047 426 1088 334 1129 346 1070 439 1037 377 1141 384 1067 346 966 382 1090 349 1053 317 1117 409 1130 388 1034 446 964 352 1118 350 1013 298 978 358 956 328 1103 321 1055 400 999 303 980 388 1024 309 963 356 1080 408 1070 304 981 365 947 338 1010 443 1098 324 1021 347 1000 403 1093 373 1050 376 1066 437 1102 359 984 415 970 396 1023 320 1114 398 1070 333 1066 338 1023 389 976 339 1144 380 1030 302 1077 434 976 431 973 327 1130 377 1014 430 1065 358 1028 353 1059 333 1100 390 1009 354 1133 340 957 373 1067 419 1075 324 1069 354 1058 437 1002 350 931 377 1017 395 987 412 1129 385 1012 316 1089 326 1113 422 1049 338 1004 316 983 329 1108 388 1072 387 1022 331 1078 308 939 395 1106 426 1009 349 1075 446 991 395 967 362 1044 380 1001 353 985 379 990 393 1055 366 1056 368 994 373 1037 370 1051 367 1091 377 1037 323 1043 384 1079 422 1015 373 986 364 1003 389 1053 333 1022 366 1011 364 939 371 982 432 1014 392 1072 413 1072 374 1081 329 1042 352 1036 361 992 364 1033 363 1062 407 1006 396 1064 381 1042 373 980 323 1123 346 1033 348 1010 379 1034 395 1025 387 1048 374 991 355 1046 317 1032 416 1005 352 1033 370 1032 366 1053 367 1023 383 1028 390 1039 373 1016 384 1060 368 988 424 1023 358 997 375 1049 377 1104 368 1059 394 1029 389 1070 377 1063 393 1020 371 1027 396 1042 360 1020 387 1055 344 1022 384 1046 429 1051 342 1048 352 975 389 1019 362 1050 362 1011 376 1041 367 1042 369 1064 313 1045 393 1015 359 1067 373 1055 397 1036 339 959 414 1070 370 1040 364 1079 367 1055 321 1021 355 1032 351 1048 342 1050 368 1123 421 1037 368 1025 352 1043 374 1060 360 1081 392 1026 372 1044 363 1074 390 1033 378 1054 376 1051 360 1025 368 1040 376 1033 380 1031 374 1051 366 1044 365 1030 374 1043 371 1032 374 1054 371 1046 368 1011 369 1034 350 1040 398 1030 359 1059 382 1035 365 1022 362 1060 370 1044 373 1058 365 1074 377 1047 382 1030 355 1052 365 1014 351 1068 360 1026 359 1049 361 1032 359 1033 373 1029 372 1040 363 1029 363 1027 371 1022 365 1041 372 1025 363 1028 369 1035 370 1031 372 1031 384 1061 348 1048 385 1028 372 1012 378 1072 379 1042 379 1013 385 1056 362 1023 366 1050 379 1027 375 1026 380 1066 379 1021 375 1042 375 1057 382 1060 370 1036 374 1040 377 1061 370 1038 375 1055 369 1038 360 1035 377 1061 355 1033 358 1040 380 1051 376 1026 364 1053 382 1033 357 1041 367 1031 370 1029 390 1043 377 1048 380 1056 372 1022 367 1035 379 1038 389 1007 358 1048 361 1036 359 1058 362 1034 360 1043 385 1048 354 1044 368 1027 379 1019 349 1061 381 1008 372 1026 370 1051 369 1033 378 1059 364 1061 371 1057 367 1029 361 1055 373 1041 365 1028 371 1044 374 1051 382 1029 364 1047 386 1060 354 1059 375 1017 382 1022 391 1034 374 1033 362 1032 384 1063 368 1034 374 1029 370 1034 352 1035 369 1062 380 1014 362 1051 380 1031 352 1032 367 1050 369 1043 364 1017 379 1037 359 1042 355 1039 365 1041 378 1054 364 1018 379 1021 370 1030 338 1041 378 1041 367 1053 358 1062 377 1051 371 1033 381 1042 364 991 366 1019 379 1027 365 1012 367 1012 372 1043 369 1058 374 1066 371 1055 366 1038 374 1035 372 1044 396 1054 364 1030 377 1035 373 1051 362 1047 377 1034 381 1032 350 1022 377 1028 371 1112 373 1112 371 955 371 1132 370 1079 370 1051 369 1035 370 942 372 1050 369 1008 376 986 370 993 371 964 371 1082 370 944 374 1034 374 1056 371" fill="none" stroke="none" marker-start="url(#k17)" marker-mid="url(#k17)" marker-end="url(#k17)"/>
</g>
<rect x="513.5" y="146.1" width="59.5" height="21.8" fill="#fff"/>
<circle cx="517.5" cy="152.1" r="1.3" stroke="#6a5cff" stroke-width="0.8" fill="none"/>
<circle cx="517.5" cy="162.9" r="1.1" fill="#ff0000"/>
<text x="524.8" y="155.7" font-size="9.2" font-weight="bold" textLength="12.6" lengthAdjust="spacingAndGlyphs">CL</text>
<text x="524.8" y="166.5" font-size="9.2" font-weight="bold" textLength="48.8" lengthAdjust="spacingAndGlyphs">BCL (Ours)</text>
<line x1="463" y1="145.4" x2="575" y2="145.4" stroke="#909090" stroke-width="1.3"/>
<line x1="575" y1="145.4" x2="575" y2="227" stroke="#909090" stroke-width="1.3"/>
<line x1="463" y1="227" x2="575" y2="227" stroke="#909090" stroke-width="1.3"/>
<line x1="463.6" y1="262.72" x2="578" y2="262.72" stroke="#ededed" stroke-width="0.7"/>
<line x1="463.6" y1="271.24" x2="578" y2="271.24" stroke="#ededed" stroke-width="0.7"/>
<line x1="463.6" y1="279.76" x2="578" y2="279.76" stroke="#ededed" stroke-width="0.7"/>
<line x1="463.6" y1="288.28" x2="578" y2="288.28" stroke="#ededed" stroke-width="0.7"/>
<line x1="463.6" y1="296.8" x2="578" y2="296.8" stroke="#ededed" stroke-width="0.7"/>
<line x1="463.6" y1="305.32" x2="578" y2="305.32" stroke="#ededed" stroke-width="0.7"/>
<line x1="463.6" y1="313.84" x2="578" y2="313.84" stroke="#ededed" stroke-width="0.7"/>
<line x1="463.6" y1="322.36" x2="578" y2="322.36" stroke="#ededed" stroke-width="0.7"/>
<line x1="463.6" y1="330.88" x2="578" y2="330.88" stroke="#ededed" stroke-width="0.7"/>
<line x1="475.04" y1="254.2" x2="475.04" y2="339.4" stroke="#ededed" stroke-width="0.7"/>
<line x1="486.48" y1="254.2" x2="486.48" y2="339.4" stroke="#ededed" stroke-width="0.7"/>
<line x1="497.92" y1="254.2" x2="497.92" y2="339.4" stroke="#ededed" stroke-width="0.7"/>
<line x1="509.36" y1="254.2" x2="509.36" y2="339.4" stroke="#ededed" stroke-width="0.7"/>
<line x1="520.8" y1="254.2" x2="520.8" y2="339.4" stroke="#ededed" stroke-width="0.7"/>
<line x1="532.24" y1="254.2" x2="532.24" y2="339.4" stroke="#ededed" stroke-width="0.7"/>
<line x1="543.68" y1="254.2" x2="543.68" y2="339.4" stroke="#ededed" stroke-width="0.7"/>
<line x1="555.12" y1="254.2" x2="555.12" y2="339.4" stroke="#ededed" stroke-width="0.7"/>
<line x1="566.56" y1="254.2" x2="566.56" y2="339.4" stroke="#ededed" stroke-width="0.7"/>
<text x="462.1" y="255.5" font-size="4.3" text-anchor="end" fill="#707070">1</text>
<text x="462.1" y="264.02" font-size="4.3" text-anchor="end" fill="#707070">0.8</text>
<text x="462.1" y="272.54" font-size="4.3" text-anchor="end" fill="#707070">0.6</text>
<text x="462.1" y="281.06" font-size="4.3" text-anchor="end" fill="#707070">0.4</text>
<text x="462.1" y="289.58" font-size="4.3" text-anchor="end" fill="#707070">0.2</text>
<text x="462.1" y="298.1" font-size="4.3" text-anchor="end" fill="#707070">0</text>
<text x="462.1" y="306.62" font-size="4.3" text-anchor="end" fill="#707070">-0.2</text>
<text x="462.1" y="315.14" font-size="4.3" text-anchor="end" fill="#707070">-0.4</text>
<text x="462.1" y="323.66" font-size="4.3" text-anchor="end" fill="#707070">-0.6</text>
<text x="462.1" y="332.18" font-size="4.3" text-anchor="end" fill="#707070">-0.8</text>
<text x="462.1" y="340.7" font-size="4.3" text-anchor="end" fill="#707070">-1</text>
<text x="463.6" y="344.9" font-size="4.3" text-anchor="middle" fill="#707070">-2</text>
<text x="475.04" y="344.9" font-size="4.3" text-anchor="middle" fill="#707070">-1.8</text>
<text x="486.48" y="344.9" font-size="4.3" text-anchor="middle" fill="#707070">-1.6</text>
<text x="497.92" y="344.9" font-size="4.3" text-anchor="middle" fill="#707070">-1.4</text>
<text x="509.36" y="344.9" font-size="4.3" text-anchor="middle" fill="#707070">-1.2</text>
<text x="520.8" y="344.9" font-size="4.3" text-anchor="middle" fill="#707070">-1</text>
<text x="532.24" y="344.9" font-size="4.3" text-anchor="middle" fill="#707070">-0.8</text>
<text x="543.68" y="344.9" font-size="4.3" text-anchor="middle" fill="#707070">-0.6</text>
<text x="555.12" y="344.9" font-size="4.3" text-anchor="middle" fill="#707070">-0.4</text>
<text x="566.56" y="344.9" font-size="4.3" text-anchor="middle" fill="#707070">-0.2</text>
<text x="578" y="344.9" font-size="4.3" text-anchor="middle" fill="#707070">0</text>
<g transform="scale(0.5)">
<path d="M1053 533 1138 600 959 575 1001 637 999 626 991 541 1009 570 1119 578 984 590 1065 544 1047 641 946 603 1008 613 1110 544 1033 584 1077 658 1027 615 1025 530 1052 585 1113 630 1063 621 965 554 995 602 980 646 1141 582 1095 559 1068 549 976 618 1038 646 1127 606 1105 609 1011 532 964 633 1007 566 979 632 973 626 1068 590 1031 607 968 577 1110 611 1062 608 946 613 997 573 1035 576 1039 596 1061 644 1129 614 1031 638 1019 607 1054 637 989 580 1105 639 977 613 1004 540 981 638 1043 567 1044 535 961 582 1072 596 1103 632 1081 568 1098 579 1113 644 989 603 965 567 1111 564 1094 532 1121 593 1027 662 1074 640 1005 556 1077 562 1115 583 1092 598 1086 653 1065 626 1025 625 1065 575 973 607 1045 593 1037 653 1078 616 966 603 982 554 987 628 1073 554 1120 622 1074 623 1032 645 1070 585 1002 605 1019 598 1048 544 963 560 1079 609 1056 546 1046 583 1013 540 1079 646 1010 619 1028 555 1053 612 1095 547 1060 662 1034 528 955 620 1115 542 985 617 1083 641 972 641 1123 630 1089 593 1008 663 960 623 1009 641 992 639 950 583 1139 618 1007 656 1049 558 1080 549 1040 561 1056 563 1086 567 1066 568 1001 645 1073 577 1044 629 1022 551 1130 581 1014 630 1060 550 1075 571 1044 650 1108 579 980 562 1104 585 1102 541 1128 594 1062 582 1039 532 1083 591 1124 575 1081 600 1064 599 969 557 1021 637 1020 643 1071 543 1021 545 957 598 1046 622 1100 562 1029 630 1126 589 983 602 1009 593 975 645 1028 561 1139 608 1092 567 1056 627 989 548 1024 535 975 554 1012 649 969 615 991 570 1103 553 1113 606 991 563 1111 555 1096 573 1034 660 1051 601 1136 590 1091 553 1083 633 1048 610 1087 607 1001 613 1033 540 961 611 979 589 1039 636 1070 668 973 568 1087 587 997 593 1003 582 1089 646 1006 577 1017 580 1062 589 1101 624 1060 614 1030 569 1016 664 1045 522 1052 573 1087 549 1026 652 1058 556 1006 627 995 635 1067 646 990 654 1078 636 1116 567 1127 567 1107 591 958 566 1057 619 1128 625 1095 541 1038 667 1122 609 944 596 1073 609 1023 567 1042 541 997 649 1029 599 1077 592 1000 657 1033 518 1085 621 1088 561 1044 555 1100 653 1106 645 1038 620 1099 642 1082 582 1117 610 986 559 994 629 1057 604 1003 529 1020 659 1087 532 1021 622 1036 611 979 547 1053 660 1069 530 1103 567 1012 607 1042 580 1027 579 1080 528 956 589 981 608 1082 575 1046 635 1053 651 1086 540 949 577 1006 551 1043 661 1062 536 1026 645 1036 604 997 582 1072 663 1106 603 1088 580 1096 628 1110 616 1085 614 1013 547 1142 595 1054 579 1040 608 1107 560 1109 572 1014 659 1015 560 1113 635 1113 590 1121 555 1049 564 978 572 1015 613 1032 666 1009 582 1024 574 954 558 1069 615 1034 632 985 596 995 607 1068 603 1120 585 1066 632 1111 596 964 639 1077 579 1131 575 1072 521 975 596 1133 564 1101 592 1074 602 1090 617 996 554 1004 589 968 609 1063 559 1007 604 1059 530 1047 530 1003 650 987 645 997 567 1048 589 1051 619 999 548 1114 573 1014 594 991 588 1074 649 1049 550 1075 588 958 606 1098 611 988 535 1107 627 997 621 985 565 1052 521 952 593 1053 592 1029 523 1124 636 1055 539 1094 653 973 578 1141 588 1106 621 1098 588 987 609 1042 656 1013 588 1030 550 1021 587 1023 610 963 591 1084 627 1028 591 994 617 965 625 998 533 1090 658 1128 559 1082 555 1133 605 1020 629 980 536 1058 656 1099 617 1001 598 971 632 1085 659 1010 634 1095 606 965 619 1016 567 1118 548 1082 533 1057 596 1069 562 1079 652 997 560 951 608 968 583 1067 659 983 654 1100 602 1014 601 972 589 1041 586 969 597 1035 566 1054 551 1061 572 1051 668 986 636 1132 630 1119 600 1053 643 1018 534 1004 571 1026 604 1050 526 951 565 1093 611 1060 633 1114 559 957 632 1047 655 952 622 1046 611 1098 562 1017 579 1047 526 1054 602 1028 572 959 566 1032 598 1031 577 1040 614 1001 627 1065 593 1035 596 1044 571 1066 609 1035 597 1118 615 1041 596 1007 628 1010 603 992 556 1064 582 1036 579 1125 613 1041 589 1038 629 1108 600 1050 600 1038 581 1092 617 1029 569 1048 617 976 575 1032 596 1020 608 1040 594 1057 588 1048 586 1039 607 1074 596 1085 563 1074 609 1050 589 1086 578 1005 569 1058 598 1041 596 981 649 1082 586 1065 612 1055 646 1040 638 1015 606 1101 595 982 622 1008 625 1032 579 1000 586 1001 550 1022 550 1082 584 1050 604 1101 593 1001 597 1030 589 1053 591 1045 600 1077 590 1062 570 1042 586 1085 658 957 558 1025 593 1052 593 1012 558 1045 598 1079 564 1078 602 1078 598 1055 619 1089 599 1066 591 1089 571 1040 575 1006 593 1039 605 1043 604 1101 597 1071 593 1046 602 1030 594 1054 603 1050 580 1008 623 1071 589 1005 560 1048 608 989 587 1080 605 1045 583 1014 585 1031 611 966 647 1068 624 1047 594 1016 599 1101 549 1057 586 1038 657 964 598 1067 610 1060 623 1042 625 988 563 1083 599 1041 574 1138 606 1051 560 1053 582 1063 599 1039 575 1029 591 1056 608 1054 600 1038 600 1041 598 1059 611 1014 582 1037 607 1034 597 1031 591 1047 598 1046 596 1034 602 1028 593 1068 594 1043 594 1053 588 1041 607 1055 580 1030 592 1044 587 1034 591 1029 597 1034 591 1063 593 1033 591 1045 587 1036 596 1073 594 1068 596 1031 597 1040 595 1034 590 1016 605 1050 606 1075 579 1018 587 1045 605 1055 598 1036 585 1044 604 1056 590 1044 589 1066 612 1023 598 1013 591 1052 583 1038 591 1048 597 1038 592 1039 587 1059 609 1058 582 1084 595 1037 603 1013 599 1034 576 1052 600 1021 592 1060 592 1028 585 1062 585 1057 601 1032 587 1038 591 1040 600 1036 600 1035 596 1026 586 1051 596 1052 593 1061 601 1032 591 1055 613 1045 604 1075 604 1067 592 1049 593 1022 609 1062 595 1036 596 1052 595 1046 593 1019 594 1066 593 1027 597 1040 596 1048 608 1069 600 1027 603 1026 607 1060 590 1065 595 1016 600 1047 595 1042 593 1034 601 1039 606 1037 605 1040 587 1051 596 1050 584 1081 585 1011 602 1042 604 1058 593 1023 597 1030 601 1040 579 1029 596 1031 589 1056 601 1041 578 1044 592 1045 590 1031 592 1057 593 1036 604 1030 592 1040 593 1051 581 1041 590 1024 603 1032 599 1035 595 1026 596 1031 593 1031 595 1030 588 1035 600 1043 590 1033 596 1038 596 1053 595 1020 603 1045 599 1052 598 1023 593 1028 601 1054 577 1052 585 1014 587 1060 600 1049 609 1037 597 1020 592 1047 595 1042 585 1050 591 1027 598 1023 589 1038 589 1032 591 1087 604 1068 603 1044 591 1047 587 1063 592 1037 591 1033 588 1053 610 1073 601 1053 592 1036 613 1032 592 1050 605 1045 592 1040 609 1022 604 1038 599 1044 610 1058 578 1021 586 1060 590 1058 601 1049 595 1030 589 1047 604 1036 597 1047 603 1015 587 1039 597 1037 586 1030 575 1038 584 1030 594 1052 594 1040 607 1031 593 1031 590 1048 600 1046 608 1051 590 1060 592 1053 597 1071 610 1027 588 1031 602 1021 588 1043 595 1062 599 1055 595 1045 595 1027 596 1047 589 1050 593 1042 590 1056 594 1068 602 1088 570 1012 596 1022 591 1007 599 1057 613 1054 584 1051 589 1048 602 1045 604 1048 591 1013 583 1028 588 1049 601 1051 598 1021 601 1070 585 1042 604 1025 597 1029 595 985 594 1122 595 1085 593 961 595 1019 595 1058 595 1036 594 1095 595 1003 595 1059 593 1099 594 943 593 962 593 1054 594 954 594 958 594 1085 595 1040 594 1028 595 1132 596 1055 593" fill="none" stroke="none" marker-start="url(#k16)" marker-mid="url(#k16)" marker-end="url(#k16)"/>
<path d="M1053 533 1137 601 957 574 1003 636 996 624 991 542 1119 577 1068 546 1046 642 1008 615 1109 546 1031 582 1078 656 1024 530 1053 587 963 554 1142 582 1068 549 978 619 1041 646 1125 607 1104 609 1010 534 962 632 1008 566 1069 589 1032 607 967 578 1109 609 1063 607 945 613 998 571 1036 576 1040 597 1129 613 1030 637 991 581 977 613 1005 541 1045 534 960 582 1105 633 1081 570 1113 644 988 603 1112 565 1094 533 1073 641 1004 557 1079 563 1114 582 1090 598 1086 652 1026 627 1067 574 968 608 1047 592 1038 654 964 603 982 555 987 628 1073 555 1121 621 1073 622 1030 647 1001 604 1020 596 1046 545 1079 609 1049 584 1012 539 1077 647 1031 554 1052 613 1097 548 1062 662 1033 528 956 621 1115 541 1086 643 972 641 1089 593 964 626 991 639 951 583 1005 657 1083 548 1039 560 1087 568 1069 569 1000 644 1072 575 1044 629 1024 552 1131 579 1014 629 1057 550 1071 571 1042 653 1107 580 979 560 1129 593 1061 582 1037 531 1082 592 1124 576 1080 598 1065 600 1020 644 1019 544 1045 621 1099 561 1029 628 1127 589 983 604 1010 594 1030 560 1137 609 1091 567 1058 628 989 546 1023 533 974 554 1014 648 968 614 989 570 1103 553 989 564 1095 572 1037 661 1050 600 1134 592 1085 633 1050 609 1086 608 999 610 1032 542 979 589 1038 636 976 568 1088 590 1003 582 1017 579 1063 587 1103 624 1057 614 1031 568 1017 662 1051 573 1090 551 1057 556 1006 622 998 635 1068 648 988 654 1079 634 1116 564 1107 591 959 565 1130 622 1036 668 1123 609 946 595 1074 610 1024 567 998 646 1030 599 1079 593 997 655 1042 556 1105 643 1036 621 1117 613 984 559 1003 528 1019 662 1086 533 1019 624 980 548 1051 658 1068 528 1103 566 1011 604 1040 581 1080 530 955 592 1081 576 1045 635 1051 654 1085 540 1006 552 1042 661 1063 538 1036 606 998 580 1074 661 1100 628 1110 615 1085 615 1011 544 1142 596 1055 579 1038 608 1108 561 1111 572 1012 659 1017 558 1110 635 1109 589 1119 553 1015 613 1032 666 1024 575 954 556 1068 618 987 594 999 606 1120 584 1065 630 1112 595 964 639 1072 522 974 597 1135 563 1089 615 999 552 1006 589 966 609 1062 562 1005 607 1058 529 1047 530 1003 649 1047 589 1002 547 1114 573 1015 597 1074 647 1073 587 958 606 1097 612 989 533 1107 628 996 622 1049 521 1055 593 1027 521 1056 543 1095 654 972 577 1140 587 1104 622 987 609 1044 654 1014 584 1023 609 965 589 1084 624 1028 593 968 626 999 534 1128 559 1080 557 1133 607 1019 632 978 541 1099 615 1000 599 969 631 1084 661 1009 635 964 619 1018 568 1116 551 1081 534 1058 596 1070 563 1079 651 999 561 969 583 1068 659 1097 603 1015 601 971 591 1039 586 969 598 1034 564 1054 554 1061 571 1050 666 1132 631 1054 643 1021 532 1004 571 1027 605 1095 613 1059 632 1116 559 1044 654 952 624 1047 610 1101 560 1057 603 1026 573 961 566 1032 599 1031 578 1041 614 1001 626 1037 595 1045 570 1066 607 1039 596 1007 628 1012 604 991 556 1063 581 1035 580 1122 611 1041 587 1036 632 1107 602 1048 603 1092 616 975 576 1033 597 1057 589 1049 586 1084 561 1074 610 1048 589 1086 579 1003 570 1057 597 1041 598 1082 587 1055 645 1015 606 1102 594 983 625 1010 626 1034 581 1023 550 1082 586 1050 605 1101 592 1001 599 1029 590 1052 591 1046 600 1063 568 1041 586 1085 657 957 556 1054 592 1015 559 1044 598 1077 562 1079 597 1089 597 1086 571 1041 576 1005 593 1043 605 1070 594 1046 602 1032 591 1055 605 1051 582 1008 624 1070 589 1006 561 1049 609 1080 606 1046 585 1013 584 1031 611 966 646 1069 624 1047 593 1015 596 1100 549 1055 586 1038 659 965 596 1069 608 1060 622 989 561 1084 600 1042 574 1051 560 1050 581 1031 586 1055 607 1042 597 1059 613 1036 605 1034 597 1030 592 1047 599 1046 595 1032 602 1028 591 1068 594 1044 594 1042 608 1053 580 1034 590 1034 592 1035 591 1046 587 1037 598 1073 595 1070 597 1039 594 1033 590 1015 605 1052 605 1072 578 1020 586 1045 606 1056 597 1035 582 1057 593 1046 588 1068 611 1024 599 1014 592 1054 581 1040 594 1048 598 1037 591 1038 584 1061 583 1084 593 1012 599 1034 576 1020 591 1059 593 1060 603 1031 586 1037 593 1042 599 1036 601 1037 597 1026 587 1053 596 1056 611 1046 604 1074 606 1048 595 1059 594 1034 596 1051 594 1019 592 1026 597 1039 595 1050 609 1067 598 1026 602 1026 608 1059 589 1064 593 1015 599 1047 594 1034 604 1039 585 1051 594 1079 583 1012 604 1046 606 1057 594 1022 598 1026 602 1029 595 1032 587 1057 601 1038 578 1045 592 1045 589 1028 591 1058 592 1036 602 1039 594 1048 581 1033 597 1027 596 1031 592 1029 596 1030 591 1037 597 1051 595 1021 602 1044 599 1053 598 1028 601 1054 578 1050 585 1012 584 1060 599 1051 610 1038 598 1048 595 1051 593 1027 595 1022 588 1069 601 1045 590 1048 586 1062 593 1038 592 1072 601 1037 613 1048 604 1044 590 1041 609 1020 604 1037 602 1045 609 1059 577 1020 586 1060 603 1049 594 1047 606 1038 598 1047 606 1018 586 1039 597 1039 588 1029 576 1035 584 1029 594 1051 597 1040 606 1029 590 1046 600 1051 589 1061 594 1054 597 1069 612 1028 589 1031 602 1020 588 1045 596 1064 599 1055 597 1043 598 1028 597 1047 588 1047 594 1067 602 1088 571 1007 600 1060 614 1053 585 1051 588 1047 603 1048 590 1013 582 1028 586 1052 599 1021 602 1045 605 1030 596 983 593 1122 595 1086 593 960 595 1019 595 1058 593 1095 594 1001 595 1060 592 942 593 961 594 1054 593 953 596 957 594 1085 595 1042 594 1027 596 1128 593" fill="none" stroke="none" marker-start="url(#k17)" marker-mid="url(#k17)" marker-end="url(#k17)"/>
</g>
<rect x="516.5" y="257" width="59.5" height="23.2" fill="#fff"/>
<circle cx="520.5" cy="263" r="1.3" stroke="#6a5cff" stroke-width="0.8" fill="none"/>
<circle cx="520.5" cy="275.2" r="1.1" fill="#ff0000"/>
<text x="528.4" y="266.6" font-size="9.2" font-weight="bold" textLength="12.6" lengthAdjust="spacingAndGlyphs">CL</text>
<text x="528.4" y="278.8" font-size="9.2" font-weight="bold" textLength="48.8" lengthAdjust="spacingAndGlyphs">BCL (Ours)</text>
<line x1="463.6" y1="254.2" x2="463.6" y2="339.4" stroke="#909090" stroke-width="1.3"/>
<line x1="578" y1="254.2" x2="578" y2="339.4" stroke="#909090" stroke-width="1.3"/>
<line x1="463.6" y1="339.4" x2="578" y2="339.4" stroke="#909090" stroke-width="1.3"/>
<text x="88.5" y="124.9" font-size="7" font-weight="bold" fill="#111" textLength="14.6" lengthAdjust="spacingAndGlyphs">Re &#955;</text>
<text x="343.15" y="128.9" font-size="7" font-weight="bold" fill="#111" textLength="14.6" lengthAdjust="spacingAndGlyphs">Re &#955;</text>
<text x="509.7" y="129.8" font-size="7" font-weight="bold" fill="#111" textLength="14.6" lengthAdjust="spacingAndGlyphs">Re &#955;</text>
<text x="88.8" y="238.9" font-size="7" font-weight="bold" fill="#111" textLength="14.6" lengthAdjust="spacingAndGlyphs">Re &#955;</text>
<text x="342.15" y="241.9" font-size="7" font-weight="bold" fill="#111" textLength="14.6" lengthAdjust="spacingAndGlyphs">Re &#955;</text>
<text x="511.6" y="239.75" font-size="7" font-weight="bold" fill="#111" textLength="14.6" lengthAdjust="spacingAndGlyphs">Re &#955;</text>
<text x="88.4" y="353.5" font-size="7" font-weight="bold" fill="#111" textLength="14.6" lengthAdjust="spacingAndGlyphs">Re &#955;</text>
<text x="341.3" y="354.3" font-size="7" font-weight="bold" fill="#111" textLength="14.6" lengthAdjust="spacingAndGlyphs">Re &#955;</text>
<text x="513.4" y="353" font-size="7" font-weight="bold" fill="#111" textLength="14.6" lengthAdjust="spacingAndGlyphs">Re &#955;</text>
<text x="23" y="78.2" font-size="7" font-weight="bold" fill="#111" textLength="12.6" lengthAdjust="spacingAndGlyphs" transform="rotate(-90 23 78.2)">Im &#955;</text>
<text x="283.2" y="79.5" font-size="7" font-weight="bold" fill="#111" textLength="12.6" lengthAdjust="spacingAndGlyphs" transform="rotate(-90 283.2 79.5)">Im &#955;</text>
<text x="450.8" y="81.6" font-size="7" font-weight="bold" fill="#111" textLength="12.6" lengthAdjust="spacingAndGlyphs" transform="rotate(-90 450.8 81.6)">Im &#955;</text>
<text x="25.5" y="188.6" font-size="7" font-weight="bold" fill="#111" textLength="12.6" lengthAdjust="spacingAndGlyphs" transform="rotate(-90 25.5 188.6)">Im &#955;</text>
<text x="282" y="190.6" font-size="7" font-weight="bold" fill="#111" textLength="12.6" lengthAdjust="spacingAndGlyphs" transform="rotate(-90 282 190.6)">Im &#955;</text>
<text x="453.3" y="192.6" font-size="7" font-weight="bold" fill="#111" textLength="12.6" lengthAdjust="spacingAndGlyphs" transform="rotate(-90 453.3 192.6)">Im &#955;</text>
<text x="22.8" y="302.6" font-size="7" font-weight="bold" fill="#111" textLength="12.6" lengthAdjust="spacingAndGlyphs" transform="rotate(-90 22.8 302.6)">Im &#955;</text>
<text x="279.8" y="304.2" font-size="7" font-weight="bold" fill="#111" textLength="12.6" lengthAdjust="spacingAndGlyphs" transform="rotate(-90 279.8 304.2)">Im &#955;</text>
<text x="453.6" y="303.4" font-size="7" font-weight="bold" fill="#111" textLength="12.6" lengthAdjust="spacingAndGlyphs" transform="rotate(-90 453.6 303.4)">Im &#955;</text></svg></body></html>
